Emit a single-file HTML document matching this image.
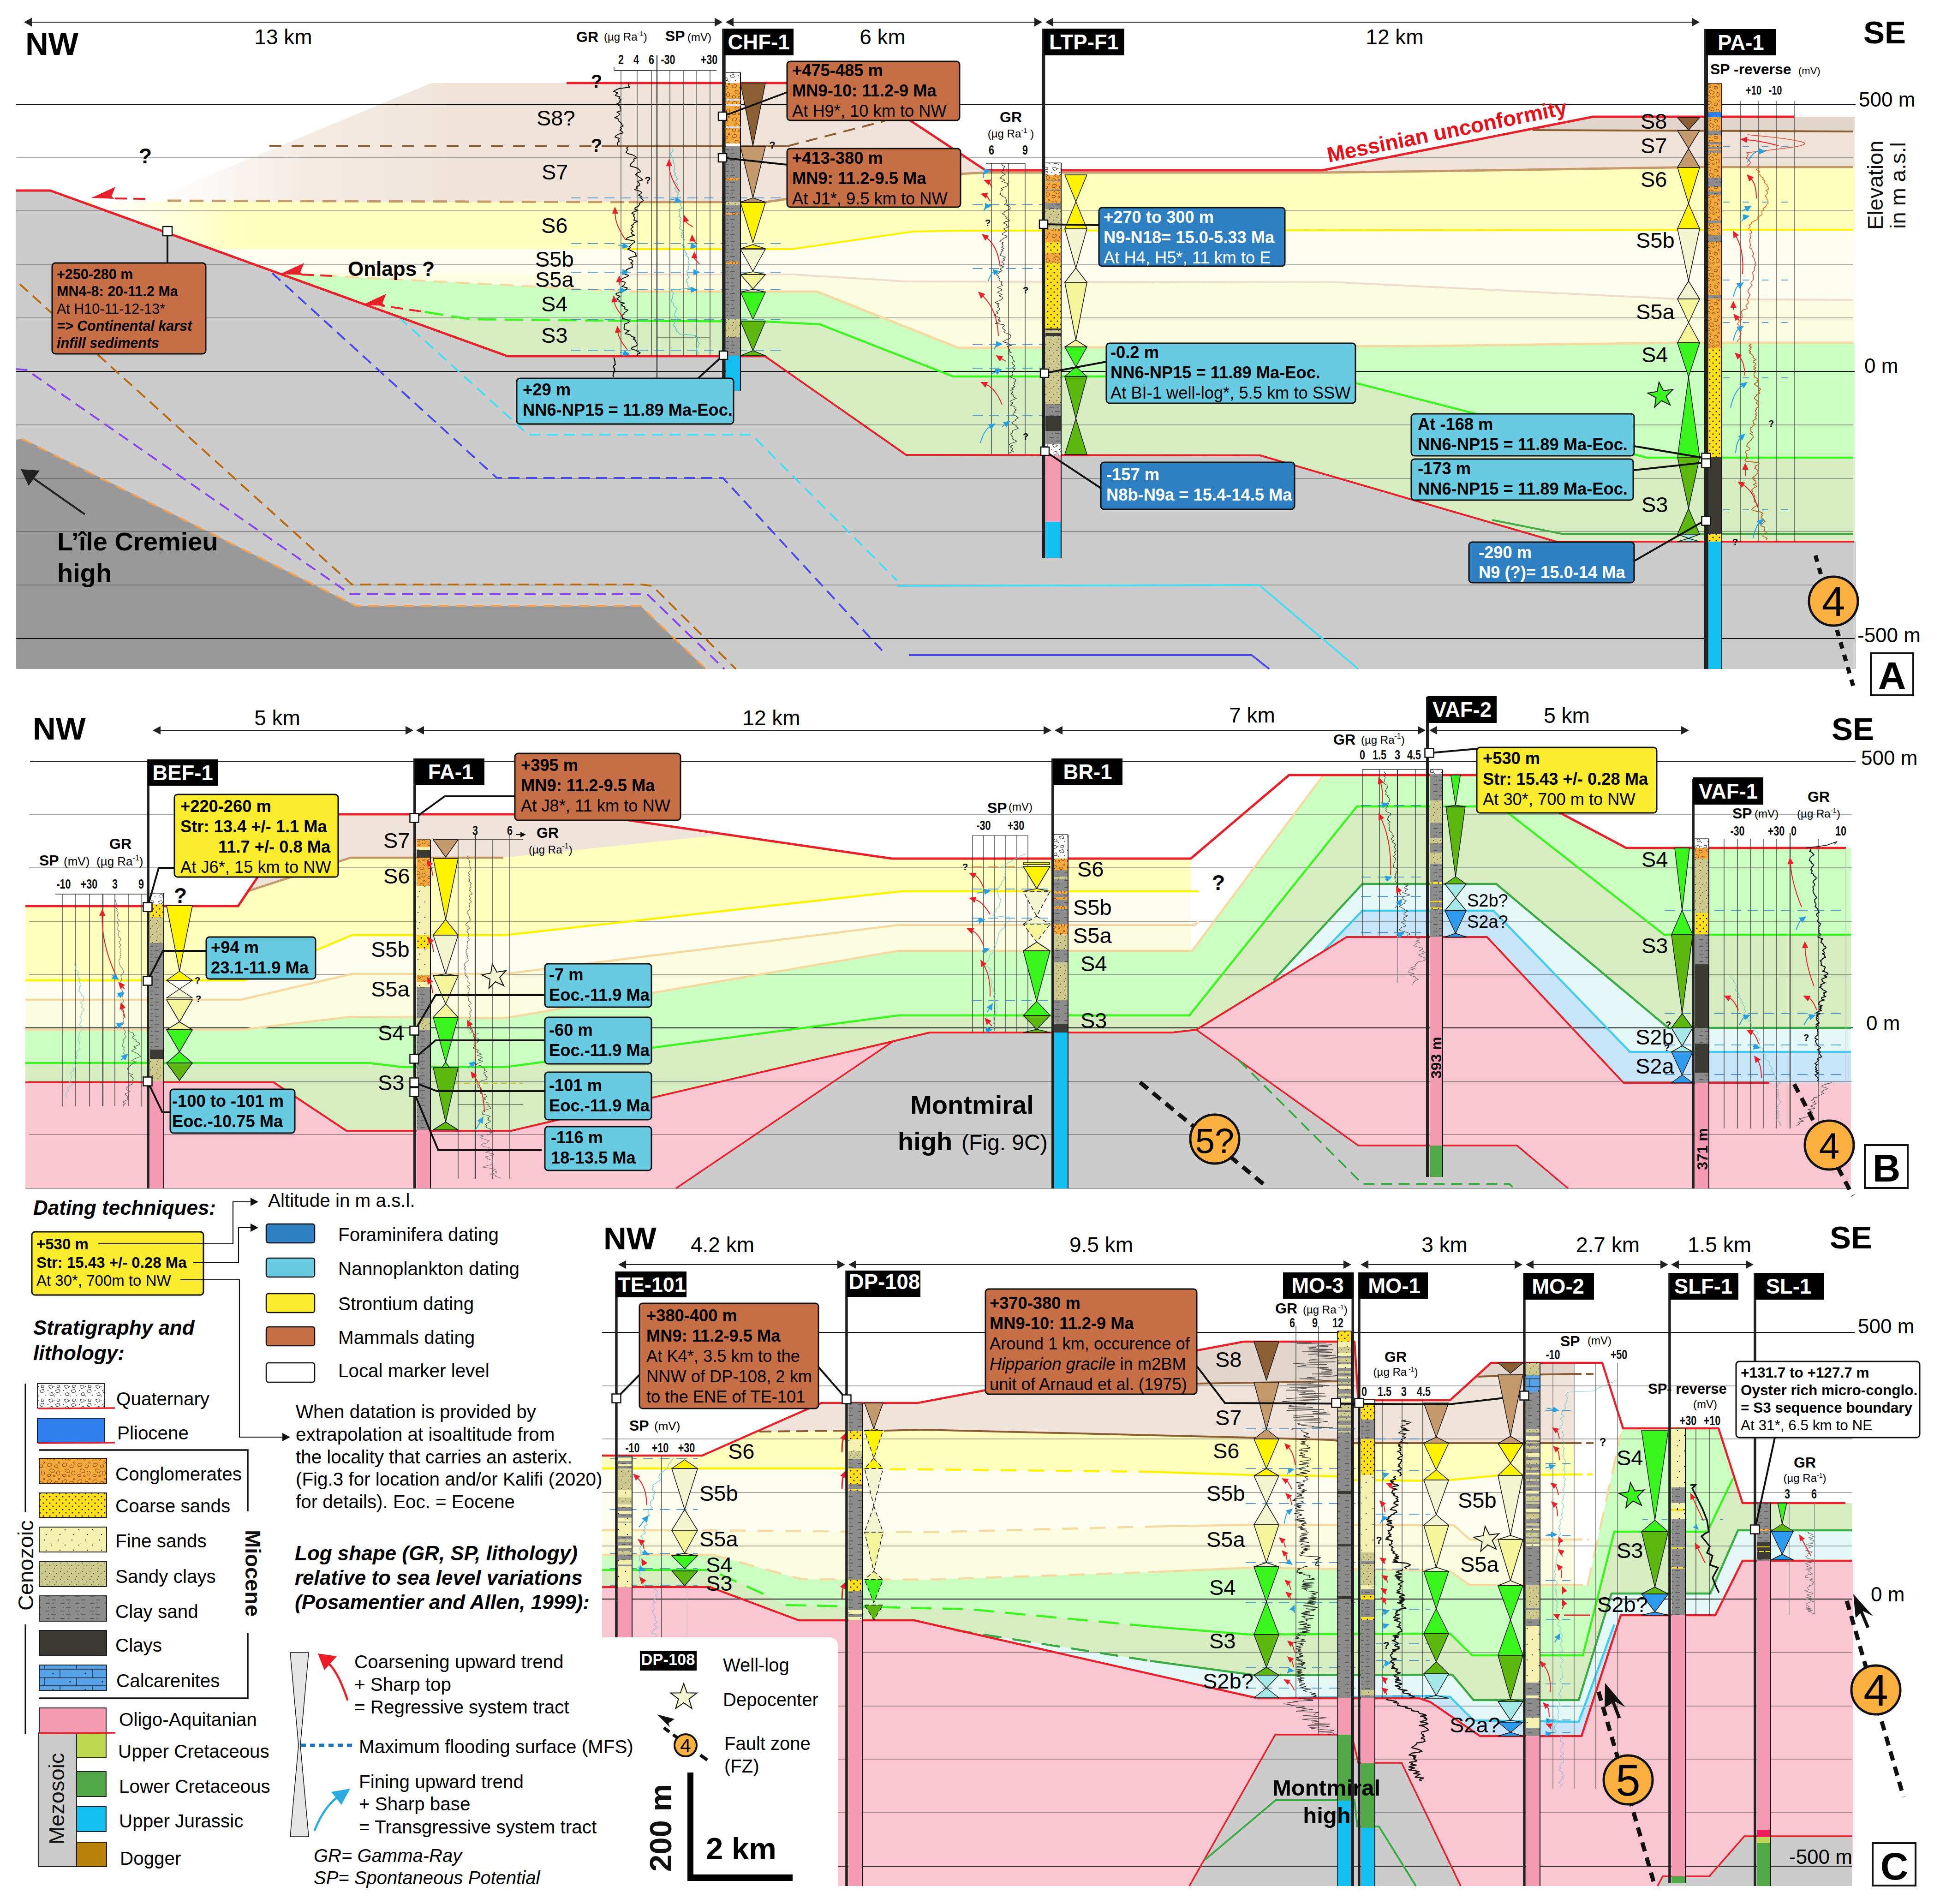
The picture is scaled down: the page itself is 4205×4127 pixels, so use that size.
<!DOCTYPE html>
<html><head><meta charset="utf-8"><title>Cross sections</title>
<style>html,body{margin:0;padding:0;background:#fff}svg{display:block}text{font-family:"Liberation Sans",Arial,sans-serif}</style></head>
<body>
<svg width="4205" height="4127" viewBox="0 0 4205 4127">
<defs>
<pattern id="pq" width="34" height="30" patternUnits="userSpaceOnUse"><rect width="34" height="30" fill="#fff"/><path d="M3 4l7-2 3 5-6 3zM18 14l8-3 2 6-7 2zM6 20l5-2 3 6-7 1zM22 2l6 1-2 5-5-1z" fill="none" stroke="#222" stroke-width="1"/><circle cx="15" cy="5" r="0.9"/><circle cx="30" cy="24" r="0.9"/><circle cx="16" cy="26" r="0.9"/><circle cx="2" cy="14" r="0.9"/></pattern>
<pattern id="pcg" width="33" height="36" patternUnits="userSpaceOnUse"><rect width="33" height="36" fill="#f7a83a"/><g fill="none" stroke="#6b3d05" stroke-width="1"><ellipse cx="8" cy="7" rx="5" ry="3.5" transform="rotate(-20 8 7)"/><ellipse cx="23" cy="10" rx="4" ry="3"/><ellipse cx="14" cy="20" rx="5.5" ry="3.5" transform="rotate(25 14 20)"/><ellipse cx="27" cy="25" rx="3.5" ry="4.5"/><ellipse cx="7" cy="30" rx="4" ry="2.8"/><circle cx="18" cy="31" r="2"/><circle cx="29" cy="2" r="1.8"/></g></pattern>
<pattern id="pcs" width="14" height="14" patternUnits="userSpaceOnUse"><rect width="14" height="14" fill="#ffe01a"/><circle cx="3" cy="3" r="1.5" fill="#111"/><circle cx="10" cy="10" r="1.5" fill="#111"/></pattern>
<pattern id="pfs" width="30" height="34" patternUnits="userSpaceOnUse"><rect width="30" height="34" fill="#f4f0b0"/><circle cx="6" cy="6" r="1.2" fill="#222"/><circle cx="21" cy="17" r="1.2" fill="#222"/><circle cx="10" cy="28" r="1.2" fill="#222"/></pattern>
<pattern id="psc" width="16" height="18" patternUnits="userSpaceOnUse"><rect width="16" height="18" fill="#cdc88e"/><circle cx="3" cy="4" r="0.9" fill="#333"/><circle cx="11" cy="9" r="0.9" fill="#333"/><circle cx="6" cy="15" r="0.9" fill="#333"/></pattern>
<pattern id="pcl" width="32" height="16" patternUnits="userSpaceOnUse"><rect width="32" height="16" fill="#8c8c8c"/><path d="M3 4h9M19 4h2M8 12h2M15 12h10" stroke="#333" stroke-width="1.2"/></pattern>
<pattern id="pca" width="70" height="36" patternUnits="userSpaceOnUse"><rect width="70" height="36" fill="#5aa2e6"/><path d="M0 0.5h70M0 18h70M26 0v18M60 18v18" stroke="#123" stroke-width="1.3"/><circle cx="12" cy="9" r="1.6" fill="#123"/><circle cx="45" cy="27" r="1.6" fill="#123"/></pattern>
<linearGradient id="gbA" gradientUnits="userSpaceOnUse" x1="330" y1="300" x2="1000" y2="300"><stop offset="0" stop-color="#f0e4da" stop-opacity="0"/><stop offset="0.5" stop-color="#f0e4da" stop-opacity="0.75"/><stop offset="1" stop-color="#f0e4da"/></linearGradient>
<linearGradient id="gyA" gradientUnits="userSpaceOnUse" x1="200" y1="300" x2="520" y2="300"><stop offset="0" stop-color="#fff"/><stop offset="1" stop-color="#fff" stop-opacity="0"/></linearGradient></defs>
<rect width="4205" height="4127" fill="#fff"/>
<polygon points="317,437 935,180 1850,180 2136,369 2867,369 3453,253 4020,253 4020,1450 317,1450" fill="url(#gbA)"/>
<polygon points="3306,282 3453,253 4020,253 4020,285" fill="#e2d6cc"/>
<polygon points="150,437 1363,438 1660,438 2080,377 2136,374 2867,374 3100,371 3692,362 4020,362 4020,1450 150,1450" fill="#ffffbe"/>
<polygon points="150,540 1717,540 1978,502 2100,500 4020,498 4020,1450 150,1450" fill="#fdfdf0"/>
<polygon points="150,588 1363,595 1720,595 1964,610 2900,612 3636,648 4020,650 4020,1450 150,1450" fill="#fcfde0"/>
<polygon points="600,592 1100,618 1363,632 1771,632 2077,754 3100,750 3636,743 4020,743 4020,1450 600,1450" fill="#ccffc2"/>
<polygon points="780,660 921,676 1019,692 1317,695 1660,697 1777,703 2066,816 2883,816 3570,992 4020,992 4020,1450 780,1450" fill="#d5edc0"/>
<polygon points="200,430 520,430 520,600 200,600" fill="url(#gyA)"/>
<polygon points="35,413 109,413 1100,772 1658,772 1964,986 2731,987 3373,1174 4020,1174 4023,1174 4023,1450 35,1450" fill="#cccccc"/>
<polygon points="35,953 50,951 771,1313 1388,1313 1530,1450 35,1450" fill="#999999"/>
<polyline points="35,227 4022,227" fill="none" stroke="#111" stroke-width="2.2"/>
<polyline points="35,342 4016,342" fill="none" stroke="#555" stroke-width="1.2"/>
<polyline points="35,457 4016,457" fill="none" stroke="#555" stroke-width="1.2"/>
<polyline points="35,574 4016,574" fill="none" stroke="#555" stroke-width="1.2"/>
<polyline points="35,689 4016,689" fill="none" stroke="#555" stroke-width="1.2"/>
<polyline points="35,805 4020,805" fill="none" stroke="#111" stroke-width="2.2"/>
<polyline points="35,921 4016,921" fill="none" stroke="#555" stroke-width="1.2"/>
<polyline points="35,1037 4016,1037" fill="none" stroke="#555" stroke-width="1.2"/>
<polyline points="35,1152 4016,1152" fill="none" stroke="#555" stroke-width="1.2"/>
<polyline points="35,1268 4016,1268" fill="none" stroke="#555" stroke-width="1.2"/>
<polyline points="35,1384 4020,1384" fill="none" stroke="#111" stroke-width="2.2"/>
<polyline points="43,616 763,1267 1391,1267 1414,1270 1595,1450" fill="none" stroke="#b8690e" stroke-width="4" stroke-dasharray="24 14"/>
<polyline points="35,800 58,802 754,1284 760,1288 1403,1288 1570,1450" fill="none" stroke="#8844ee" stroke-width="4" stroke-dasharray="24 14"/>
<polyline points="47,951 771,1313 1388,1313 1530,1450" fill="none" stroke="#f5a050" stroke-width="4" stroke-dasharray="24 14"/>
<polyline points="590,592 1077,1036 1567,1036 1921,1420" fill="none" stroke="#4848ee" stroke-width="4" stroke-dasharray="24 14"/>
<polyline points="1970,1420 2713,1420 2751,1450" fill="none" stroke="#4848ee" stroke-width="4"/>
<polyline points="865,688 1145,942 1629,942 1944,1258" fill="none" stroke="#44ddee" stroke-width="4" stroke-dasharray="24 14"/>
<polyline points="1944,1270 2729,1268 2944,1450" fill="none" stroke="#44ddee" stroke-width="4"/>
<polyline points="584,316 1317,317" fill="none" stroke="#8b5e34" stroke-width="4" stroke-dasharray="26 22"/>
<polyline points="1317,317 1706,317" fill="none" stroke="#8b5e34" stroke-width="4"/>
<polyline points="1706,317 1918,262" fill="none" stroke="#8b5e34" stroke-width="4" stroke-dasharray="26 16"/>
<polyline points="3322,282 4016,285" fill="none" stroke="#8b5e34" stroke-width="4"/>
<polyline points="363,435 1363,438" fill="none" stroke="#c49a6c" stroke-width="5" stroke-dasharray="30 18"/>
<polyline points="1363,438 1660,438 2080,377 2136,374 2867,374 3100,371 3692,362 4016,362" fill="none" stroke="#c49a6c" stroke-width="5"/>
<polyline points="1351,540 1717,540 1978,502 2100,500 4016,498" fill="none" stroke="#fff200" stroke-width="4"/>
<polyline points="1363,595 1720,595 1964,610 2900,612 3636,648 4016,650" fill="none" stroke="#eedccc" stroke-width="4"/>
<polyline points="652,595 1100,618 1363,632" fill="none" stroke="#f5d9a0" stroke-width="4" stroke-dasharray="30 18"/>
<polyline points="1363,632 1771,632 2077,754 3100,750 3636,743 4016,743" fill="none" stroke="#f5d9a0" stroke-width="5"/>
<polyline points="921,676 1019,692 1317,695" fill="none" stroke="#3bf51f" stroke-width="4.5" stroke-dasharray="40 18"/>
<polyline points="1317,695 1660,697 1777,703 2066,816 2883,816 3570,992 4016,992" fill="none" stroke="#3bf51f" stroke-width="4.5"/>
<polyline points="3234,1127 3385,1157 4016,1157" fill="none" stroke="#44aa44" stroke-width="4"/>
<polyline points="1658,772 1964,986 2731,987 3373,1174 4018,1174" fill="none" stroke="#e8202a" stroke-width="4" stroke-linejoin="round"/>
<polyline points="35,413 109,413 1100,772 1658,772" fill="none" stroke="#e8202a" stroke-width="5" stroke-linejoin="round"/>
<polyline points="1228,180 1850,180 2136,369 2867,369 3453,253 3889,253" fill="none" stroke="#e8202a" stroke-width="5" stroke-linejoin="round"/>
<polyline points="315,431 238,430" fill="none" stroke="#e8202a" stroke-width="4" stroke-dasharray="26 14"/>
<polygon points="198,429 250,405 242,425 248,431" fill="#e8202a"/>
<polyline points="720,598 647,595" fill="none" stroke="#e8202a" stroke-width="4" stroke-dasharray="26 14"/>
<polygon points="607,594 659,570 651,590 657,596" fill="#e8202a"/>
<polyline points="913,675 825,662" fill="none" stroke="#e8202a" stroke-width="4" stroke-dasharray="26 14"/>
<polygon points="785,661 837,637 829,657 835,663" fill="#e8202a"/>
<text x="315" y="354" font-size="46" font-weight="bold" text-anchor="middle">?</text>
<text x="754" y="598" font-size="44" font-weight="bold">Onlaps ?</text>
<text x="1293" y="190" font-size="40" font-weight="bold" text-anchor="middle">?</text>
<text x="1293" y="329" font-size="40" font-weight="bold" text-anchor="middle">?</text>
<polyline points="65.6,48 1552.4,48" fill="none" stroke="#222" stroke-width="2.2"/>
<polygon points="52,48 69,38.6 69,57.4" fill="#222"/>
<polygon points="1566,48 1549,38.6 1549,57.4" fill="#222"/>
<polyline points="1586.6,48 2245.4,48" fill="none" stroke="#222" stroke-width="2.2"/>
<polygon points="1573,48 1590,38.6 1590,57.4" fill="#222"/>
<polygon points="2259,48 2242,38.6 2242,57.4" fill="#222"/>
<polyline points="2279.6,48 3670.4,48" fill="none" stroke="#222" stroke-width="2.2"/>
<polygon points="2266,48 2283,38.6 2283,57.4" fill="#222"/>
<polygon points="3684,48 3667,38.6 3667,57.4" fill="#222"/>
<text x="55" y="119" font-size="69" font-weight="bold">NW</text>
<text x="4039" y="94" font-size="69" font-weight="bold">SE</text>
<text x="614" y="96" font-size="46" text-anchor="middle">13 km</text>
<text x="1913" y="96" font-size="46" text-anchor="middle">6 km</text>
<text x="3023" y="96" font-size="46" text-anchor="middle">12 km</text>
<text x="4029" y="231" font-size="44">500 m</text>
<text x="4041" y="808" font-size="44">0 m</text>
<text x="4026" y="1392" font-size="44">-500 m</text>
<text transform="translate(4081 498) rotate(-90)" font-size="47" fill="#111">Elevation</text>
<text transform="translate(4130 496) rotate(-90)" font-size="47" fill="#111">in m a.s.l</text>
<text transform="translate(2880 352) rotate(-11.4)" font-size="46" font-weight="bold" fill="#e8101a">Messinian unconformity</text>
<text x="124" y="1193" font-size="56" font-weight="bold">L’île Cremieu</text>
<text x="124" y="1261" font-size="56" font-weight="bold">high</text>
<polyline points="184,1115 70,1035" fill="none" stroke="#222" stroke-width="4"/>
<polygon points="45,1017 86,1020 62,1053" fill="#222"/>
<polyline points="1346,153 1346,771" fill="none" stroke="#333" stroke-width="1.3"/>
<polyline points="1381,153 1381,771" fill="none" stroke="#333" stroke-width="1.3"/>
<polyline points="1412,153 1412,771" fill="none" stroke="#333" stroke-width="1.3"/>
<polyline points="1334,153 1412,153" fill="none" stroke="#333" stroke-width="1.3"/>
<polyline points="1452,153 1452,771" fill="none" stroke="#333" stroke-width="1.3"/>
<polyline points="1481,153 1481,771" fill="none" stroke="#333" stroke-width="1.3"/>
<polyline points="1509,153 1509,771" fill="none" stroke="#333" stroke-width="1.3"/>
<polyline points="1539,153 1539,771" fill="none" stroke="#333" stroke-width="1.3"/>
<polyline points="1331,153 1553,153" fill="none" stroke="#333" stroke-width="1.3"/>
<polyline points="1331,145 1331,153" fill="none" stroke="#333" stroke-width="1.3"/>
<polyline points="1424,120 1424,819" fill="none" stroke="#222" stroke-width="2.2"/>
<polyline points="1424,731 1539,731" fill="none" stroke="#333" stroke-width="1"/>
<text x="1249" y="91" font-size="32" font-weight="bold">GR</text>
<text x="1309" y="88" font-size="24">(µg Ra<tspan dy="-10" font-size="15">-1</tspan><tspan dy="10">)</tspan></text>
<text x="1442" y="89" font-size="32" font-weight="bold">SP</text>
<text x="1490" y="89" font-size="24">(mV)</text>
<text transform="translate(1346 139) scale(0.72 1)" font-size="30" font-weight="bold" text-anchor="middle" fill="#111">2</text>
<text transform="translate(1379 139) scale(0.72 1)" font-size="30" font-weight="bold" text-anchor="middle" fill="#111">4</text>
<text transform="translate(1412 139) scale(0.72 1)" font-size="30" font-weight="bold" text-anchor="middle" fill="#111">6</text>
<text transform="translate(1448 139) scale(0.72 1)" font-size="30" font-weight="bold" text-anchor="middle" fill="#111">-30</text>
<text transform="translate(1537 139) scale(0.72 1)" font-size="30" font-weight="bold" text-anchor="middle" fill="#111">+30</text>
<polyline points="1238,429 1700,429" fill="none" stroke="#2e7fc0" stroke-width="1.5" stroke-dasharray="22 14"/>
<polyline points="1238,528 1700,528" fill="none" stroke="#2e7fc0" stroke-width="1.5" stroke-dasharray="22 14"/>
<polyline points="1238,590 1700,590" fill="none" stroke="#2e7fc0" stroke-width="1.5" stroke-dasharray="22 14"/>
<polyline points="1238,627 1700,627" fill="none" stroke="#2e7fc0" stroke-width="1.5" stroke-dasharray="22 14"/>
<polyline points="1238,693 1700,693" fill="none" stroke="#2e7fc0" stroke-width="1.5" stroke-dasharray="22 14"/>
<polyline points="1238,759 1700,759" fill="none" stroke="#2e7fc0" stroke-width="1.5" stroke-dasharray="22 14"/>
<polyline points="1361.2,180 1363.4,183 1362.2,186 1364.8,189 1341.7,192 1334.8,195 1329.8,198 1338.8,201 1335.8,204 1333.7,207 1343.3,210 1341.6,213 1345.8,216 1343.1,219 1343.9,222 1337.3,225 1340.3,228 1345.5,231 1343.6,234 1345.7,237 1345.9,240 1337.2,243 1342.1,246 1342.5,249 1338.7,252 1332.4,255 1340.7,258 1340,261 1343.2,264 1347.4,267 1347.5,270 1350.6,273 1344.8,276 1347.2,279 1343.5,282 1348.4,285 1350.5,288 1340.5,291 1335.1,294 1333,297 1342.5,300 1340.6,303 1342.2,306 1338.4,309 1339.2,312 1337.9,315" fill="none" stroke="#111" stroke-width="2" stroke-linejoin="round"/>
<polyline points="1361.8,318 1358,321 1360.7,324 1358.9,327 1356.7,330 1361,333 1372.1,336 1377.2,339 1380,342 1373.4,345 1374.7,348 1371.6,351 1368.4,354 1365.7,357 1366.1,360 1377.8,363 1383.5,366 1386.8,369 1388.9,372 1380.8,375 1377.9,378 1381.4,381 1385.3,384 1389.8,387 1393,390 1382.4,393 1384.5,396 1386.8,399 1385.7,402 1379.8,405 1381.1,408 1375.7,411 1386,414 1391,417 1389,420 1383.8,423 1390.3,426 1388.8,429 1392.7,432 1394.4,435 1390,438 1385.7,441 1385.9,444 1383.2,447 1377.2,450 1375.6,453 1382.6,456 1374.3,459 1369.2,462 1375.1,465 1373,468 1375.4,471 1375.6,474 1373.5,477 1382.3,480 1374.5,483 1373.1,486 1368.5,489 1372.3,492 1368.6,495 1367.4,498 1372.5,501 1368.5,504 1369.5,507 1375.3,510 1365.7,513 1358.9,516 1357.2,519 1374.4,522 1375.9,525 1370.6,528 1368.5,531 1364.5,534 1366.2,537 1360.4,540 1366.9,543 1373.7,546 1378.4,549 1377.4,552 1380.1,555 1366.5,558 1362.4,561 1370.4,564 1371.9,567 1366.9,570 1372,573 1369.8,576 1371.4,579 1363.8,582 1357.5,585 1357.6,588 1352.6,591 1353.4,594 1362.9,597 1358.5,600 1350.7,603 1346.5,606 1345.9,609 1355.3,612 1354.2,615 1352.3,618 1348.2,621 1359.8,624 1357.9,627 1353.4,630 1348.4,633 1335.4,636 1335.5,639 1343.8,642 1340.5,645 1336.9,648 1342.1,651 1341.5,654 1353.2,657 1346.5,660 1349.2,663 1354.9,666 1352.8,669 1360.9,672 1357.9,675 1352.7,678 1352.5,681 1346.7,684 1349.6,687 1349,690 1359,693 1364.4,696 1362.7,699 1354.6,702 1353.6,705 1353.1,708 1352.6,711 1353,714 1363.7,717 1359,720 1355,723 1366.8,726 1368.5,729 1376.6,732 1372.5,735 1378.2,738 1378.1,741 1380.4,744 1381.5,747 1378.4,750 1370.5,753 1367.9,756 1377.2,759 1383.4,762 1387.8,765 1381.4,768 1382.8,771" fill="none" stroke="#111" stroke-width="2" stroke-linejoin="round"/>
<polyline points="1330.5,775 1331.4,778 1332.1,781 1333.2,784 1332.9,787 1333.6,790 1330.1,793 1329.9,796 1331.9,799 1331.8,802 1332.8,805 1330,808 1329.9,811 1328.8,814 1329.5,817" fill="none" stroke="#111" stroke-width="2.5" stroke-linejoin="round"/>
<polyline points="1457.5,322 1459.7,325 1458.3,328 1455.6,331 1451.9,334 1455.6,337 1456.3,340 1459.4,343 1458.1,346 1460.9,349 1458.4,352 1461.6,355 1463.1,358 1461.5,361 1461.7,364 1463.2,367 1460.1,370 1461.5,373 1464.7,376 1462.1,379 1465.3,382 1466.4,385 1468.6,388 1465.7,391 1462,394 1466,397 1468.7,400 1467.3,403 1463.6,406 1462.4,409 1465.7,412 1464.8,415 1470.2,418 1470.4,421 1467.3,424 1469.6,427 1468.6,430 1473.1,433 1475.7,436 1474,439 1474.3,442 1475.1,445 1476.7,448 1479.3,451 1472.8,454 1471.9,457 1473.7,460 1472.3,463 1474.1,466 1471,469 1476.1,472 1476.3,475 1473.1,478 1476,481 1474.9,484 1473.4,487 1475.1,490 1473.3,493 1473,496 1478.7,499 1480.8,502 1476.3,505 1480.4,508 1476.4,511 1476.9,514 1482.3,517 1483.2,520 1481.3,523 1480.8,526 1480.8,529 1478.8,532 1485.2,535 1481,538 1481.9,541 1485.4,544 1484.6,547 1489.4,550 1486,553 1490.5,556 1492.6,559 1492.1,562 1493.9,565 1491.2,568 1493.2,571 1494.2,574 1492.5,577 1491.3,580 1492.7,583 1491.2,586 1487.7,589 1491.4,592 1489.6,595 1490.7,598 1494,601 1490.9,604 1487.9,607 1487.1,610 1490.8,613 1491.3,616 1490.8,619 1492.3,622 1497.5,625 1455,628 1455,631 1459.2,634 1459.6,637 1457,640 1457.4,643 1457.8,646 1455.3,649 1456,652 1456,655 1460.4,658 1459.1,661 1461.3,664 1465.6,667 1467.8,670 1464.6,673 1464.8,676 1462.7,679 1462.2,682 1462.9,685 1466.1,688 1469.4,691 1465.9,694 1461.6,697 1463,700 1460.6,703 1459,706 1464.7,709 1462.6,712 1466.7,715 1466.2,718 1471.1,721 1473.4,724 1508.2,727 1506.3,730 1511.9,733 1512.5,736 1511.3,739 1513.9,742 1515.9,745 1514.5,748 1513.6,751 1510,754 1510.3,757 1508.8,760 1512.2,763 1514.2,766 1511.6,769" fill="none" stroke="#5fc7c0" stroke-width="1.5" stroke-linejoin="round"/>
<path d="M1473 415 Q1451 383.4 1450.4 360" fill="none" stroke="#e8202a" stroke-width="2"/>
<polygon points="1450,345 1457.1,359.8 1443.6,360.2" fill="#e8202a"/>
<path d="M1452 431 Q1465 434 1463.4 433.6" fill="none" stroke="#2a9fe0" stroke-width="2"/>
<polygon points="1478,437 1461.9,440.2 1464.9,427" fill="#2a9fe0"/>
<path d="M1356 520 Q1333.7 487.4 1333.3 463" fill="none" stroke="#e8202a" stroke-width="2"/>
<polygon points="1333,448 1340,462.9 1326.5,463.1" fill="#e8202a"/>
<path d="M1502 492 Q1487.3 482.8 1486.7 480.5" fill="none" stroke="#e8202a" stroke-width="2"/>
<polygon points="1483,466 1493.3,478.9 1480.2,482.2" fill="#e8202a"/>
<path d="M1509 527 Q1500.7 519.3 1500.9 523" fill="none" stroke="#e8202a" stroke-width="2"/>
<polygon points="1500,508 1507.7,522.6 1494.2,523.4" fill="#e8202a"/>
<path d="M1340 531 Q1352 533 1349.2 532.5" fill="none" stroke="#2a9fe0" stroke-width="2"/>
<polygon points="1364,535 1348.1,539.2 1350.3,525.9" fill="#2a9fe0"/>
<path d="M1497 533 Q1504.5 534 1497.1 533" fill="none" stroke="#2a9fe0" stroke-width="2"/>
<polygon points="1512,535 1496.2,539.7 1498,526.3" fill="#2a9fe0"/>
<path d="M1516 572 Q1505.1 560.7 1505.1 560" fill="none" stroke="#e8202a" stroke-width="2"/>
<polygon points="1505,545 1511.8,560 1498.3,560" fill="#e8202a"/>
<path d="M1344 590 Q1354 590 1349 590" fill="none" stroke="#2a9fe0" stroke-width="2"/>
<polygon points="1364,590 1349,596.8 1349,583.2" fill="#2a9fe0"/>
<path d="M1504 590 Q1511 590 1503 590" fill="none" stroke="#2a9fe0" stroke-width="2"/>
<polygon points="1518,590 1503,596.8 1503,583.2" fill="#2a9fe0"/>
<path d="M1342 618 Q1342 607.5 1342 612" fill="none" stroke="#e8202a" stroke-width="2"/>
<polygon points="1342,597 1348.8,612 1335.2,612" fill="#e8202a"/>
<path d="M1340 628 Q1349 629 1343.1 628.3" fill="none" stroke="#2a9fe0" stroke-width="2"/>
<polygon points="1358,630 1342.3,635.1 1343.8,621.6" fill="#2a9fe0"/>
<path d="M1498 628 Q1505 628 1497 628" fill="none" stroke="#2a9fe0" stroke-width="2"/>
<polygon points="1512,628 1497,634.8 1497,621.2" fill="#2a9fe0"/>
<path d="M1351 688 Q1333.3 667.1 1331.8 654.9" fill="none" stroke="#e8202a" stroke-width="2"/>
<polygon points="1330,640 1338.5,654.1 1325.1,655.7" fill="#e8202a"/>
<path d="M1360 758 Q1341.2 735.3 1339.6 720.9" fill="none" stroke="#e8202a" stroke-width="2"/>
<polygon points="1338,706 1346.3,720.2 1332.9,721.6" fill="#e8202a"/>
<path d="M1344 764 Q1355 766 1351.2 765.3" fill="none" stroke="#2a9fe0" stroke-width="2"/>
<polygon points="1366,768 1350,772 1352.4,758.7" fill="#2a9fe0"/>
<text x="1404" y="398" font-size="22" font-weight="bold" text-anchor="middle">?</text>
<text x="1674" y="322" font-size="22" font-weight="bold" text-anchor="middle">?</text>
<rect x="1573" y="157" width="32" height="23" fill="url(#pq)"/>
<rect x="1573" y="180" width="32" height="131" fill="url(#pcg)"/>
<rect x="1573" y="311" width="32" height="6" fill="#fff"/>
<rect x="1573" y="317" width="32" height="69" fill="url(#pcl)"/>
<rect x="1573" y="386" width="32" height="5" fill="url(#pcg)"/>
<rect x="1573" y="391" width="32" height="47" fill="url(#pcl)"/>
<rect x="1573" y="438" width="32" height="6" fill="url(#psc)"/>
<rect x="1573" y="444" width="32" height="18" fill="url(#pcl)"/>
<rect x="1573" y="462" width="32" height="3" fill="url(#pcg)"/>
<rect x="1573" y="465" width="32" height="102" fill="url(#pcl)"/>
<rect x="1573" y="567" width="32" height="5" fill="url(#pcg)"/>
<rect x="1573" y="572" width="32" height="120" fill="url(#pcl)"/>
<rect x="1573" y="692" width="32" height="39" fill="url(#psc)"/>
<rect x="1573" y="731" width="32" height="40" fill="url(#pcl)"/>
<rect x="1573" y="771" width="32" height="76" fill="#12bff0"/>
<polyline points="1605,157 1605,847" fill="none" stroke="#111" stroke-width="2"/>
<polyline points="1573,157 1605,157" fill="none" stroke="#111" stroke-width="1.2"/>
<rect x="1573" y="214" width="32" height="4" fill="#ddd"/>
<rect x="1573" y="226" width="32" height="4" fill="#ddd"/>
<rect x="1573" y="274" width="32" height="4" fill="#ddd"/>
<polygon points="1605,180 1659,180 1632,316" fill="#8b5e34" stroke="#111" stroke-width="1.5" stroke-linejoin="round"/>
<polygon points="1605,318 1659,318 1632,429" fill="#c49a6c" stroke="#111" stroke-width="1.5" stroke-linejoin="round"/>
<polygon points="1632,429 1659,438 1605,438" fill="#c49a6c" stroke="#111" stroke-width="1.5" stroke-linejoin="round"/>
<polygon points="1605,439 1659,439 1632,526" fill="#fff200" stroke="#111" stroke-width="1.5" stroke-linejoin="round"/>
<polygon points="1632,530 1659,539 1605,539" fill="#fff200" stroke="#111" stroke-width="1.5" stroke-linejoin="round"/>
<polygon points="1605,540 1659,540 1632,588" fill="#f2f5d0" stroke="#111" stroke-width="1.5" stroke-linejoin="round"/>
<polygon points="1632,589 1659,595 1605,595" fill="#f4f59a" stroke="#111" stroke-width="1.5" stroke-linejoin="round"/>
<polygon points="1605,595 1659,595 1632,626" fill="#f4f59a" stroke="#111" stroke-width="1.5" stroke-linejoin="round"/>
<polygon points="1632,627 1659,633 1605,633" fill="#f2f5d0" stroke="#111" stroke-width="1.5" stroke-linejoin="round"/>
<polygon points="1605,633 1659,633 1632,692" fill="#3bf51f" stroke="#111" stroke-width="1.5" stroke-linejoin="round"/>
<polygon points="1605,696 1659,696 1632,760" fill="#5cb80f" stroke="#111" stroke-width="1.5" stroke-linejoin="round"/>
<polygon points="1632,760 1659,771 1605,771" fill="#5cb80f" stroke="#111" stroke-width="1.5" stroke-linejoin="round"/>
<rect x="1565.2" y="62" width="7.5" height="760" fill="#222"/>
<rect x="1569" y="62" width="151" height="58" fill="#000"/>
<text x="1644.5" y="107.3" font-size="45.5" font-weight="bold" text-anchor="middle" fill="#fff">CHF-1</text>
<polyline points="1567,252 1706,200" fill="none" stroke="#111" stroke-width="4"/>
<polyline points="1567,342 1706,357" fill="none" stroke="#111" stroke-width="4"/>
<polyline points="1568,770 1513,820" fill="none" stroke="#111" stroke-width="4"/>
<rect x="1557" y="243" width="18" height="18" fill="#fff" stroke="#111" stroke-width="2.5"/>
<rect x="1557" y="333" width="18" height="18" fill="#fff" stroke="#111" stroke-width="2.5"/>
<rect x="1559" y="761" width="18" height="18" fill="#fff" stroke="#111" stroke-width="2.5"/>
<polyline points="2149,354 2149,984" fill="none" stroke="#333" stroke-width="1.3"/>
<polyline points="2186,354 2186,984" fill="none" stroke="#333" stroke-width="1.3"/>
<polyline points="2222,354 2222,984" fill="none" stroke="#333" stroke-width="1.3"/>
<polyline points="2137,354 2222,354" fill="none" stroke="#333" stroke-width="1.3"/>
<text x="2191" y="265" font-size="32" font-weight="bold" text-anchor="middle">GR</text>
<text x="2191" y="298" font-size="24" text-anchor="middle">(µg Ra<tspan dy="-10" font-size="15">-1</tspan><tspan dy="10"> )</tspan></text>
<text transform="translate(2149 335) scale(0.72 1)" font-size="30" font-weight="bold" text-anchor="middle" fill="#111">6</text>
<text transform="translate(2222 335) scale(0.72 1)" font-size="30" font-weight="bold" text-anchor="middle" fill="#111">9</text>
<polyline points="2108,443 2262,443" fill="none" stroke="#2e7fc0" stroke-width="1.5" stroke-dasharray="22 14"/>
<polyline points="2108,582 2262,582" fill="none" stroke="#2e7fc0" stroke-width="1.5" stroke-dasharray="22 14"/>
<polyline points="2108,747 2262,747" fill="none" stroke="#2e7fc0" stroke-width="1.5" stroke-dasharray="22 14"/>
<polyline points="2108,798 2262,798" fill="none" stroke="#2e7fc0" stroke-width="1.5" stroke-dasharray="22 14"/>
<polyline points="2108,900 2262,900" fill="none" stroke="#2e7fc0" stroke-width="1.5" stroke-dasharray="22 14"/>
<polyline points="2171.4,356 2172.7,358.5 2178.3,361 2175.9,363.5 2175,366 2175.7,368.5 2171,371 2172.5,373.5 2175.1,376 2178.8,378.5 2172.1,381 2170.9,383.5 2167.5,386 2174.9,388.5 2178,391 2171.4,393.5 2179.8,396 2184.7,398.5 2183.7,401 2182.6,403.5 2176.2,406 2170.5,408.5 2173.9,411 2169.9,413.5 2169.3,416 2169.6,418.5 2167.2,421 2171.4,423.5 2173.6,426 2180.3,428.5 2180.1,431 2181.6,433.5 2180.8,436 2182.4,438.5 2180.7,441 2177.5,443.5 2184.9,446 2189.3,448.5 2190,451 2188.6,453.5 2182.8,456 2178.2,458.5 2176.2,461 2172.1,463.5 2178.7,466 2177.9,468.5 2183.2,471 2180.4,473.5 2186.1,476 2188.1,478.5 2178.3,481 2175.1,483.5 2182.2,486 2180.7,488.5 2186.4,491 2182.2,493.5 2175.4,496 2178.5,498.5 2182.2,501 2177.8,503.5 2172.7,506 2172.8,508.5 2180.9,511 2183.1,513.5 2176,516 2173.3,518.5 2169.7,521 2167,523.5 2174.8,526 2171.3,528.5 2174.1,531 2174.3,533.5 2170.9,536 2175.8,538.5 2170.9,541 2174.4,543.5 2169.6,546 2170.6,548.5 2168.4,551 2167.6,553.5 2176.2,556 2179,558.5 2174.2,561 2178.7,563.5 2172.5,566 2171.1,568.5 2176.1,571 2176.2,573.5 2169.1,576 2176.3,578.5 2170.4,581 2167.4,583.5 2172.1,586 2169.1,588.5 2166.7,591 2162.3,593.5 2159.8,596 2164.5,598.5 2162.9,601 2166.4,603.5 2165.5,606 2165.8,608.5 2172.5,611 2170.3,613.5 2170,616 2173.6,618.5 2166.7,621 2162.2,623.5 2169.1,626 2172.1,628.5 2166.4,631 2162.1,633.5 2166.6,636 2171.8,638.5 2165.3,641 2171,643.5 2173.6,646 2171.4,648.5 2167.7,651 2161.3,653.5 2156.6,656 2165.7,658.5 2161.8,661 2165.4,663.5 2161.8,666 2166.9,668.5 2167,671 2163.1,673.5 2159.3,676 2164,678.5 2158.4,681 2157.1,683.5 2160.6,686 2166.6,688.5 2167,691 2163,693.5 2168.9,696 2163.2,698.5 2157.4,701 2175.2,703.5 2177.4,706 2173.8,708.5 2173.2,711 2175.3,713.5 2179.3,716 2176.1,718.5 2177.2,721 2184.7,723.5 2190.5,726 2189.8,728.5 2190,731 2188.7,733.5 2182.3,736 2177.2,738.5 2174,741 2183.7,743.5 2186.9,746 2192.3,748.5 2183.5,751 2186.2,753.5 2186,756 2189.1,758.5 2185.8,761 2192.7,763.5 2185,766 2186.6,768.5 2190.1,771 2194.5,773.5 2195.1,776 2195.1,778.5 2196.4,781 2198.9,783.5 2193.2,786 2194.2,788.5 2197.7,791 2199.6,793.5 2194.9,796 2197.1,798.5 2199.4,801 2197.2,803.5 2196.6,806 2193.3,808.5 2194,811 2194.8,813.5 2188.6,816 2192.2,818.5 2199.1,821 2201.8,823.5 2201.6,826 2197.2,828.5 2199.1,831 2198.4,833.5 2196.2,836 2200.1,838.5 2192.8,841 2197.1,843.5 2190.5,846 2194,848.5 2194.6,851 2191.8,853.5 2196.2,856 2196.3,858.5 2198,861 2203,863.5 2197.5,866 2191,868.5 2191,871 2195.9,873.5 2192.7,876 2190.4,878.5 2198.6,881 2200.3,883.5 2198.6,886 2203.4,888.5 2199,891 2200.7,893.5 2195.7,896 2195.7,898.5 2200.6,901 2204.9,903.5 2207.1,906 2201.9,908.5 2201.4,911 2197.6,913.5 2193,916 2194.8,918.5 2200.3,921 2203.8,923.5 2204,926 2207.2,928.5 2200.3,931 2194.8,933.5 2195,936 2192.8,938.5 2190.7,941 2191.9,943.5 2195.3,946 2195.6,948.5 2193.4,951 2198.7,953.5 2203.7,956 2199.8,958.5 2192.4,961 2187.4,963.5 2195.1,966 2188.9,968.5 2193.8,971 2194.8,973.5 2191.9,976 2196.3,978.5 2188.8,981 2185.8,983.5" fill="none" stroke="#333" stroke-width="1.3" stroke-linejoin="round"/>
<path d="M2131 386 Q2133.1 371.2 2133 371.2" fill="none" stroke="#2a9fe0" stroke-width="2"/>
<polygon points="2148,370 2133.6,377.9 2132.5,364.5" fill="#2a9fe0"/>
<path d="M2150 407 Q2144.4 394.9 2146 395.5" fill="none" stroke="#e8202a" stroke-width="2"/>
<polygon points="2132,390 2148.4,389.2 2143.5,401.8" fill="#e8202a"/>
<path d="M2146 436 Q2138.7 423.8 2139.5 424" fill="none" stroke="#e8202a" stroke-width="2"/>
<polygon points="2125,420 2141.3,417.5 2137.7,430.5" fill="#e8202a"/>
<path d="M2132 458 Q2137.4 446.6 2135 446.7" fill="none" stroke="#2a9fe0" stroke-width="2"/>
<polygon points="2150,446 2135.3,453.5 2134.7,440" fill="#2a9fe0"/>
<path d="M2168 578 Q2162.2 534.5 2139.7 516.4" fill="none" stroke="#e8202a" stroke-width="2"/>
<polygon points="2128,507 2143.9,511.1 2135.5,521.7" fill="#e8202a"/>
<path d="M2142 609 Q2148.7 590.7 2153.1 590.1" fill="none" stroke="#2a9fe0" stroke-width="2"/>
<polygon points="2168,588 2154.1,596.8 2152.2,583.4" fill="#2a9fe0"/>
<path d="M2164 728 Q2161.2 671.2 2130.9 642.3" fill="none" stroke="#e8202a" stroke-width="2"/>
<polygon points="2120,632 2135.5,637.4 2126.2,647.2" fill="#e8202a"/>
<path d="M2155 757 Q2161.2 745.8 2159 745.8" fill="none" stroke="#2a9fe0" stroke-width="2"/>
<polygon points="2174,746 2158.9,752.5 2159.1,739" fill="#2a9fe0"/>
<path d="M2180 783 Q2169 776.5 2170.9 777.6" fill="none" stroke="#e8202a" stroke-width="2"/>
<polygon points="2158,770 2174.3,771.8 2167.5,783.4" fill="#e8202a"/>
<path d="M2150 810 Q2161 805 2158.3 806.2" fill="none" stroke="#2a9fe0" stroke-width="2"/>
<polygon points="2172,800 2161.1,812.4 2155.6,800.1" fill="#2a9fe0"/>
<path d="M2172 877 Q2158.3 843.1 2138.7 834.2" fill="none" stroke="#e8202a" stroke-width="2"/>
<polygon points="2125,828 2141.4,828 2135.9,840.3" fill="#e8202a"/>
<path d="M2125 960 Q2133.1 932.4 2145 925.5" fill="none" stroke="#2a9fe0" stroke-width="2"/>
<polygon points="2158,918 2148.4,931.4 2141.6,919.7" fill="#2a9fe0"/>
<path d="M2172 925 Q2181 918.5 2177.8 920.8" fill="none" stroke="#2a9fe0" stroke-width="2"/>
<polygon points="2190,912 2181.8,926.3 2173.9,915.3" fill="#2a9fe0"/>
<text x="2141" y="490" font-size="20" font-weight="bold" text-anchor="middle">?</text>
<text x="2223" y="636" font-size="20" font-weight="bold" text-anchor="middle">?</text>
<text x="2223" y="953" font-size="20" font-weight="bold" text-anchor="middle">?</text>
<rect x="2266" y="353" width="34" height="26" fill="url(#pq)"/>
<rect x="2266" y="379" width="34" height="12" fill="url(#pcg)"/>
<rect x="2266" y="391" width="34" height="2" fill="url(#pcl)"/>
<rect x="2266" y="393" width="34" height="18" fill="url(#pcg)"/>
<rect x="2266" y="411" width="34" height="2" fill="url(#pcl)"/>
<rect x="2266" y="413" width="34" height="27" fill="url(#pcg)"/>
<rect x="2266" y="440" width="34" height="13" fill="url(#pcl)"/>
<rect x="2266" y="453" width="34" height="44" fill="url(#psc)"/>
<rect x="2266" y="497" width="34" height="28" fill="url(#pcg)"/>
<rect x="2266" y="525" width="34" height="23" fill="url(#pcs)"/>
<rect x="2266" y="548" width="34" height="22" fill="url(#pcg)"/>
<rect x="2266" y="570" width="34" height="142" fill="url(#pcs)"/>
<rect x="2266" y="712" width="34" height="4" fill="#3b3a34"/>
<rect x="2266" y="716" width="34" height="6" fill="url(#psc)"/>
<rect x="2266" y="722" width="34" height="7" fill="#3b3a34"/>
<rect x="2266" y="729" width="34" height="147" fill="url(#psc)"/>
<rect x="2266" y="876" width="34" height="26" fill="url(#pcl)"/>
<rect x="2266" y="902" width="34" height="32" fill="#3b3a34"/>
<rect x="2266" y="934" width="34" height="28" fill="url(#pcl)"/>
<rect x="2266" y="962" width="34" height="25" fill="url(#pq)"/>
<rect x="2266" y="987" width="34" height="144" fill="#f49ab3"/>
<rect x="2266" y="1131" width="34" height="78" fill="#12bff0"/>
<polyline points="2300,353 2300,1209" fill="none" stroke="#111" stroke-width="2"/>
<polyline points="2266,353 2300,353" fill="none" stroke="#111" stroke-width="1.2"/>
<polygon points="2308,379 2356,379 2332,437" fill="#fff200" stroke="#111" stroke-width="1.5" stroke-linejoin="round"/>
<polygon points="2332,437 2356,496 2308,496" fill="#fff200" stroke="#111" stroke-width="1.5" stroke-linejoin="round"/>
<polygon points="2308,496 2356,496 2332,581" fill="#f2f5d0" stroke="#111" stroke-width="1.5" stroke-linejoin="round"/>
<polygon points="2332,581 2356,612 2308,612" fill="#f2f5d0" stroke="#111" stroke-width="1.5" stroke-linejoin="round"/>
<polygon points="2308,612 2356,612 2332,737" fill="#f4f59a" stroke="#111" stroke-width="1.5" stroke-linejoin="round"/>
<polygon points="2332,737 2356,752 2308,752" fill="#f4f59a" stroke="#111" stroke-width="1.5" stroke-linejoin="round"/>
<polygon points="2308,752 2356,752 2332,795" fill="#3bf51f" stroke="#111" stroke-width="1.5" stroke-linejoin="round"/>
<polygon points="2332,795 2356,816 2308,816" fill="#3bf51f" stroke="#111" stroke-width="1.5" stroke-linejoin="round"/>
<polygon points="2308,816 2356,816 2332,907" fill="#5cb80f" stroke="#111" stroke-width="1.5" stroke-linejoin="round"/>
<polygon points="2332,907 2356,985 2308,985" fill="#5cb80f" stroke="#111" stroke-width="1.5" stroke-linejoin="round"/>
<rect x="2258.8" y="62" width="6.5" height="1147" fill="#222"/>
<rect x="2262" y="62" width="175" height="58" fill="#000"/>
<text x="2349.5" y="107.3" font-size="45.5" font-weight="bold" text-anchor="middle" fill="#fff">LTP-F1</text>
<polyline points="2262,486 2382,488" fill="none" stroke="#111" stroke-width="4"/>
<polyline points="2264,809 2398,784" fill="none" stroke="#111" stroke-width="4"/>
<polyline points="2265,978 2386,1058" fill="none" stroke="#111" stroke-width="4"/>
<rect x="2253" y="477" width="18" height="18" fill="#fff" stroke="#111" stroke-width="2.5"/>
<rect x="2255" y="800" width="18" height="18" fill="#fff" stroke="#111" stroke-width="2.5"/>
<rect x="2256" y="969" width="18" height="18" fill="#fff" stroke="#111" stroke-width="2.5"/>
<polyline points="3773,219 3773,1174" fill="none" stroke="#333" stroke-width="1.3"/>
<polyline points="3811,219 3811,1174" fill="none" stroke="#333" stroke-width="1.3"/>
<polyline points="3850,219 3850,1174" fill="none" stroke="#333" stroke-width="1.3"/>
<polyline points="3889,219 3889,1174" fill="none" stroke="#333" stroke-width="1.3"/>
<text x="3707" y="161" font-size="32" font-weight="bold">SP -reverse</text>
<text x="3898" y="161" font-size="22">(mV)</text>
<text transform="translate(3801 205) scale(0.72 1)" font-size="28" font-weight="bold" text-anchor="middle" fill="#111">+10</text>
<text transform="translate(3848 205) scale(0.72 1)" font-size="28" font-weight="bold" text-anchor="middle" fill="#111">-10</text>
<polyline points="3735,318 3890,318" fill="none" stroke="#2e7fc0" stroke-width="1.5" stroke-dasharray="14 28"/>
<polyline points="3735,438 3890,438" fill="none" stroke="#2e7fc0" stroke-width="1.5" stroke-dasharray="14 28"/>
<polyline points="3735,607 3890,607" fill="none" stroke="#2e7fc0" stroke-width="1.5" stroke-dasharray="14 28"/>
<polyline points="3735,699 3890,699" fill="none" stroke="#2e7fc0" stroke-width="1.5" stroke-dasharray="14 28"/>
<polyline points="3735,819 3890,819" fill="none" stroke="#2e7fc0" stroke-width="1.5" stroke-dasharray="14 28"/>
<polyline points="3735,1105 3890,1105" fill="none" stroke="#2e7fc0" stroke-width="1.5" stroke-dasharray="14 28"/>
<polyline points="3787.6,292 3819,295 3847.4,298 3870.8,301 3887.8,304 3903.9,307 3912.2,310 3910.6,313 3902.2,316 3885.6,319 3862.4,322 3838.5,325 3812.8,328 3786,331 3789.7,334 3787.9,337 3786.8,340 3784.8,343 3790.5,346 3792,349 3793.9,352 3793.2,355 3788.5,358 3787.9,361" fill="none" stroke="#d8503a" stroke-width="1.6" stroke-linejoin="round"/>
<polyline points="3812,362 3808.9,365 3806.7,368 3814.4,371 3812.7,374 3811.6,377 3816.2,380 3816.8,383 3822.4,386 3820.5,389 3826.1,392 3824.3,395 3826,398 3830.2,401 3830.8,404 3833.5,407 3833.3,410 3827.6,413 3831.4,416 3831.2,419 3828.6,422 3825.8,425 3829.6,428 3829.4,431 3832,434 3831.8,437 3832.8,440 3829.6,443 3828.2,446 3826.1,449 3821.1,452 3823.5,455 3818.6,458 3819,461 3819.9,464 3817,467 3809.9,470 3810.7,473 3808.9,476 3802.6,479 3796.8,482 3796.4,485 3790.9,488 3794.2,491 3791.6,494 3789.2,497" fill="none" stroke="#e07020" stroke-width="1.6" stroke-linejoin="round"/>
<polyline points="3793.1,498 3795.8,501 3797.3,504 3792.7,507 3793.9,510 3793.7,513 3794.5,516 3792.5,519 3791.9,522 3793.6,525 3793.3,528 3795,531 3793.1,534 3792.6,537 3797,540 3797.7,543 3799,546 3801.4,549 3800.3,552 3797.6,555 3801.3,558 3802.2,561 3803.2,564 3803.6,567 3806.4,570 3803.7,573 3804.9,576 3802.7,579 3802.9,582 3803.5,585 3801.3,588 3798.2,591 3799,594 3801.1,597 3801.3,600 3800.2,603 3800.8,606 3797.6,609 3795.4,612 3795,615 3798,618 3795.1,621 3792.5,624 3790.6,627 3788.7,630 3789,633 3791.1,636 3793.8,639 3791.6,642 3790.3,645 3788.6,648 3787.4,651 3789.8,654 3789.3,657 3786.6,660 3783.6,663 3786.4,666 3787.3,669 3778.4,672 3774.6,675 3774.3,678 3776.5,681 3775.3,684 3776.9,687 3772.1,690 3774.8,693 3769.6,696 3769,699 3765.6,702 3769.1,705 3770.3,708 3772.9,711 3773.2,714 3774.4,717 3772.1,720 3773.9,723 3773.3,726 3770.1,729 3772.7,732 3770,735 3767.1,738 3764.7,741" fill="none" stroke="#d8503a" stroke-width="1.6" stroke-linejoin="round"/>
<polyline points="3792.1,745 3795.3,747.5 3790.9,750 3796.7,752.5 3792.3,755 3794.7,757.5 3790.6,760 3795.1,762.5 3791.9,765 3795.8,767.5 3798.6,770 3800.9,772.5 3799.2,775 3802.8,777.5 3806.3,780 3799.9,782.5 3800.2,785 3805.1,787.5 3806.1,790 3803.8,792.5 3801.3,795 3806.5,797.5 3801,800 3804.7,802.5 3807.9,805 3803.1,807.5 3802,810 3801.3,812.5 3803.4,815 3803.1,817.5 3808.3,820 3811.8,822.5 3807.9,825 3811.5,827.5 3805.4,830 3802.1,832.5 3805.9,835 3809.6,837.5 3812.1,840 3815.3,842.5 3816,845 3810.4,847.5 3811.9,850 3814.6,852.5 3807.9,855 3807.9,857.5 3804.4,860 3802.2,862.5 3804.2,865 3807.3,867.5 3812.2,870 3806.5,872.5 3806.9,875 3811.9,877.5 3812.5,880 3810.4,882.5 3806.2,885 3807.4,887.5 3804.3,890 3806.2,892.5 3807.2,895 3805.1,897.5 3807.7,900 3805.2,902.5 3804.2,905 3807.1,907.5 3802.7,910 3799.3,912.5 3801,915 3800.4,917.5 3804.3,920 3800.1,922.5 3798.6,925 3794.3,927.5 3795.5,930 3794.6,932.5 3795.2,935 3798.5,937.5 3792.9,940 3798.9,942.5 3799.4,945 3800.5,947.5 3798.2,950 3796.9,952.5 3794.2,955 3792.2,957.5 3789,960 3787.7,962.5 3786.5,965 3786,967.5 3791.2,970 3792.9,972.5 3792.2,975 3785.1,977.5 3783.2,980 3784.6,982.5 3786.7,985 3784.9,987.5 3785.8,990 3788.8,992.5 3784,995 3782,997.5 3784.4,1000 3811.2,1002.5 3813.1,1005 3810.7,1007.5 3805.3,1010 3806.3,1012.5 3802.8,1015 3807.7,1017.5 3811,1020 3809.7,1022.5 3812.4,1025 3807,1027.5 3805.9,1030 3802.4,1032.5 3798.9,1035 3804.4,1037.5 3799.9,1040 3805.9,1042.5 3805.6,1045 3806.8,1047.5 3800.8,1050 3805.8,1052.5 3807.5,1055 3801.6,1057.5 3798.7,1060 3796.5,1062.5 3798.8,1065 3795.9,1067.5 3801.4,1070 3801.6,1072.5 3803.8,1075 3800.6,1077.5 3802.7,1080 3802,1082.5 3803.5,1085 3802.1,1087.5 3807.1,1090 3808.7,1092.5 3809.6,1095 3805.3,1097.5 3801.2,1100 3798.5,1102.5 3796.7,1105 3804.2,1107.5 3816.9,1110 3821.5,1112.5 3818,1115 3820,1117.5 3817.5,1120 3816.8,1122.5 3821,1125 3822.2,1127.5 3826.5,1130 3822.2,1132.5 3820.1,1135 3816.9,1137.5 3816.7,1140 3824.5,1142.5 3825.2,1145 3825,1147.5 3823.7,1150 3827.3,1152.5 3829,1155 3824.9,1157.5 3821.6,1160 3821.1,1162.5 3827.5,1165 3830.8,1167.5 3827.9,1170" fill="none" stroke="#b5622a" stroke-width="1.8" stroke-linejoin="round"/>
<path d="M3855 316 Q3814.2 304.9 3787 303" fill="none" stroke="#e8202a" stroke-width="2"/>
<polygon points="3772,302 3787.4,296.3 3786.5,309.7" fill="#e8202a"/>
<path d="M3787 352 Q3800.3 327.7 3813 327.8" fill="none" stroke="#2a9fe0" stroke-width="2"/>
<polygon points="3828,328 3812.9,334.6 3813.1,321.1" fill="#2a9fe0"/>
<path d="M3807 430 Q3806.9 399.8 3796.4 388.8" fill="none" stroke="#e8202a" stroke-width="2"/>
<polygon points="3786,378 3801.3,384.2 3791.5,393.5" fill="#e8202a"/>
<path d="M3775 458 Q3786 452 3783.8 453.2" fill="none" stroke="#2a9fe0" stroke-width="2"/>
<polygon points="3797,446 3787.1,459.1 3780.6,447.3" fill="#2a9fe0"/>
<path d="M3775 480 Q3781.6 470.4 3778.3 471.1" fill="none" stroke="#2a9fe0" stroke-width="2"/>
<polygon points="3793,468 3779.7,477.7 3776.9,464.5" fill="#2a9fe0"/>
<path d="M3777 594 Q3780.6 543.9 3763.3 513.1" fill="none" stroke="#e8202a" stroke-width="2"/>
<polygon points="3756,500 3769.2,509.8 3757.5,516.4" fill="#e8202a"/>
<path d="M3757 643 Q3762.3 622.9 3767.2 619.9" fill="none" stroke="#2a9fe0" stroke-width="2"/>
<polygon points="3780,612 3770.8,625.6 3763.7,614.1" fill="#2a9fe0"/>
<path d="M3757 672 Q3757 662 3757 667" fill="none" stroke="#e8202a" stroke-width="2"/>
<polygon points="3757,652 3763.8,667 3750.2,667" fill="#e8202a"/>
<path d="M3770 695 Q3763.5 687.5 3766.8 691.3" fill="none" stroke="#e8202a" stroke-width="2"/>
<polygon points="3757,680 3771.9,686.9 3761.7,695.8" fill="#e8202a"/>
<path d="M3757 738 Q3762.1 717.4 3767.3 714.1" fill="none" stroke="#2a9fe0" stroke-width="2"/>
<polygon points="3780,706 3771,719.8 3763.7,708.4" fill="#2a9fe0"/>
<path d="M3782 814 Q3781 784.6 3770.7 774.5" fill="none" stroke="#e8202a" stroke-width="2"/>
<polygon points="3760,764 3775.4,769.7 3766,779.3" fill="#e8202a"/>
<path d="M3751 884 Q3758.3 848.6 3775.7 836.5" fill="none" stroke="#2a9fe0" stroke-width="2"/>
<polygon points="3788,828 3779.5,842.1 3771.8,831" fill="#2a9fe0"/>
<path d="M3762 982 Q3764.1 956.8 3771.8 950" fill="none" stroke="#2a9fe0" stroke-width="2"/>
<polygon points="3783,940 3776.3,955 3767.3,944.9" fill="#2a9fe0"/>
<path d="M3783 1032 Q3783 1017.5 3783 1018" fill="none" stroke="#e8202a" stroke-width="2"/>
<polygon points="3783,1003 3789.8,1018 3776.2,1018" fill="#e8202a"/>
<path d="M3810 1100 Q3799.2 1063.2 3779 1051.5" fill="none" stroke="#e8202a" stroke-width="2"/>
<polygon points="3766,1044 3782.4,1045.7 3775.6,1057.4" fill="#e8202a"/>
<path d="M3800 1166 Q3805.2 1141.5 3812.3 1134.5" fill="none" stroke="#2a9fe0" stroke-width="2"/>
<polygon points="3823,1124 3817.1,1139.3 3807.6,1129.7" fill="#2a9fe0"/>
<text x="3839" y="925" font-size="20" font-weight="bold" text-anchor="middle">?</text>
<text x="3761" y="1182" font-size="20" font-weight="bold" text-anchor="middle">?</text>
<rect x="3702" y="181" width="30" height="62" fill="url(#pcg)"/>
<rect x="3702" y="243" width="30" height="11" fill="#2f80ee"/>
<rect x="3702" y="254" width="30" height="29" fill="url(#pcg)"/>
<rect x="3702" y="283" width="30" height="10" fill="url(#pcl)"/>
<rect x="3702" y="293" width="30" height="15" fill="url(#pcg)"/>
<rect x="3702" y="308" width="30" height="5" fill="url(#pcl)"/>
<rect x="3702" y="313" width="30" height="5" fill="url(#pcg)"/>
<rect x="3702" y="318" width="30" height="5" fill="url(#pcl)"/>
<rect x="3702" y="323" width="30" height="3" fill="url(#pcg)"/>
<rect x="3702" y="326" width="30" height="5" fill="url(#pcl)"/>
<rect x="3702" y="331" width="30" height="54" fill="url(#pcg)"/>
<rect x="3702" y="385" width="30" height="20" fill="url(#pcl)"/>
<rect x="3702" y="405" width="30" height="10" fill="url(#pcg)"/>
<rect x="3702" y="415" width="30" height="7" fill="url(#pcl)"/>
<rect x="3702" y="422" width="30" height="56" fill="url(#pcg)"/>
<rect x="3702" y="478" width="30" height="6" fill="url(#pcl)"/>
<rect x="3702" y="484" width="30" height="26" fill="url(#pcg)"/>
<rect x="3702" y="510" width="30" height="14" fill="url(#pcl)"/>
<rect x="3702" y="524" width="30" height="116" fill="url(#pcg)"/>
<rect x="3702" y="640" width="30" height="7" fill="url(#pcl)"/>
<rect x="3702" y="647" width="30" height="108" fill="url(#pcg)"/>
<rect x="3702" y="755" width="30" height="236" fill="url(#pcs)"/>
<rect x="3702" y="991" width="30" height="167" fill="#3b3a34"/>
<rect x="3702" y="1158" width="30" height="16" fill="url(#pcs)"/>
<rect x="3702" y="1174" width="30" height="276" fill="#12bff0"/>
<polyline points="3732,181 3732,1450" fill="none" stroke="#111" stroke-width="2"/>
<polyline points="3702,181 3732,181" fill="none" stroke="#111" stroke-width="1.2"/>
<polyline points="3702,181 3702,1450" fill="none" stroke="#111" stroke-width="1"/>
<polygon points="3636,255 3684,255 3660,282" fill="#8b5e34" stroke="#111" stroke-width="1.5" stroke-linejoin="round"/>
<polygon points="3636,283 3684,283 3660,322" fill="#c49a6c" stroke="#111" stroke-width="1.5" stroke-linejoin="round"/>
<polygon points="3660,322 3684,363 3636,363" fill="#c49a6c" stroke="#111" stroke-width="1.5" stroke-linejoin="round"/>
<polygon points="3636,363 3684,363 3660,441" fill="#fff200" stroke="#111" stroke-width="1.5" stroke-linejoin="round"/>
<polygon points="3660,441 3684,496 3636,496" fill="#fff200" stroke="#111" stroke-width="1.5" stroke-linejoin="round"/>
<polygon points="3636,496 3684,496 3660,609" fill="#f2f5d0" stroke="#111" stroke-width="1.5" stroke-linejoin="round"/>
<polygon points="3660,609 3684,648 3636,648" fill="#f2f5d0" stroke="#111" stroke-width="1.5" stroke-linejoin="round"/>
<polygon points="3636,648 3684,648 3660,699" fill="#f4f59a" stroke="#111" stroke-width="1.5" stroke-linejoin="round"/>
<polygon points="3660,699 3684,743 3636,743" fill="#f4f59a" stroke="#111" stroke-width="1.5" stroke-linejoin="round"/>
<polygon points="3636,743 3684,743 3660,817" fill="#3bf51f" stroke="#111" stroke-width="1.5" stroke-linejoin="round"/>
<polygon points="3660,817 3684,991 3636,991" fill="#3bf51f" stroke="#111" stroke-width="1.5" stroke-linejoin="round"/>
<polygon points="3636,991 3684,991 3660,1102" fill="#5cb80f" stroke="#111" stroke-width="1.5" stroke-linejoin="round"/>
<polygon points="3660,1102 3684,1158 3636,1158" fill="#5cb80f" stroke="#111" stroke-width="1.5" stroke-linejoin="round"/>
<polygon points="3636,1158 3684,1158 3660,1167" fill="#a5e8e8" stroke="#111" stroke-width="1.5" stroke-linejoin="round"/>
<polygon points="3660,1167 3684,1174 3636,1174" fill="#a5e8e8" stroke="#111" stroke-width="1.5" stroke-linejoin="round"/>
<rect x="3694" y="63" width="8" height="1387" fill="#222"/>
<rect x="3698" y="63" width="151" height="57" fill="#000"/>
<text x="3773.5" y="107.8" font-size="45.5" font-weight="bold" text-anchor="middle" fill="#fff">PA-1</text>
<text x="3556" y="279" font-size="47">S8</text>
<text x="3556" y="332" font-size="47">S7</text>
<text x="3556" y="405" font-size="47">S6</text>
<text x="3546" y="537" font-size="47">S5b</text>
<text x="3546" y="692" font-size="47">S5a</text>
<text x="3558" y="785" font-size="47">S4</text>
<text x="3558" y="1110" font-size="47">S3</text>
<text x="1163" y="272" font-size="47">S8?</text>
<text x="1174" y="389" font-size="47">S7</text>
<text x="1173" y="505" font-size="47">S6</text>
<text x="1160" y="578" font-size="47">S5b</text>
<text x="1160" y="622" font-size="47">S5a</text>
<text x="1173" y="675" font-size="47">S4</text>
<text x="1173" y="743" font-size="47">S3</text>
<polygon points="3596,828.3 3605.4,846.8 3626.1,844.3 3611.4,859 3620.1,877.9 3601.6,868.5 3586.4,882.6 3589.6,862.1 3571.4,852 3591.9,848.7" fill="#3bf51f" stroke="#111" stroke-width="2" stroke-linejoin="miter"/>
<rect x="1706" y="133" width="374" height="128" fill="#c66f47" stroke="#111" stroke-width="3" rx="7"/>
<text x="1717" y="165" font-size="36.3" font-weight="bold" fill="#000">+475-485 m</text>
<text x="1717" y="209" font-size="36.3" font-weight="bold" fill="#000">MN9-10: 11.2-9 Ma</text>
<text x="1717" y="253" font-size="36.3" fill="#000">At H9*, 10 km to NW</text>
<rect x="1706" y="322" width="376" height="127" fill="#c66f47" stroke="#111" stroke-width="3" rx="7"/>
<text x="1717" y="355" font-size="36.3" font-weight="bold" fill="#000">+413-380 m</text>
<text x="1717" y="399" font-size="36.3" font-weight="bold" fill="#000">MN9: 11.2-9.5 Ma</text>
<text x="1717" y="443" font-size="36.3" fill="#000">At J1*, 9.5 km to NW</text>
<polyline points="363,501 363,570" fill="none" stroke="#111" stroke-width="4"/>
<rect x="353" y="491" width="20" height="20" fill="#fff" stroke="#111" stroke-width="2.5"/>
<rect x="113" y="570" width="333" height="197" fill="#c66f47" stroke="#111" stroke-width="3" rx="7"/>
<text x="123" y="605" font-size="30.5" font-weight="bold" fill="#000">+250-280 m</text>
<text x="123" y="642.3" font-size="30.5" font-weight="bold" fill="#000">MN4-8: 20-11.2 Ma</text>
<text x="123" y="679.6" font-size="30.5" fill="#000">At H10-11-12-13*</text>
<text x="123" y="716.9" font-size="30.5" font-weight="bold" font-style="italic" fill="#000">=&gt; Continental karst</text>
<text x="123" y="754.2" font-size="30.5" font-weight="bold" font-style="italic" fill="#000">infill sediments</text>
<rect x="1120" y="820" width="470" height="99" fill="#68cbe2" stroke="#111" stroke-width="3" rx="7"/>
<text x="1133" y="857" font-size="36.3" font-weight="bold" fill="#000">+29 m</text>
<text x="1133" y="901" font-size="36.3" font-weight="bold" fill="#000">NN6-NP15 = 11.89 Ma-Eoc.</text>
<rect x="2382" y="450" width="403" height="127" fill="#2f7fc3" stroke="#111" stroke-width="3" rx="7"/>
<text x="2392" y="483" font-size="36.3" font-weight="bold" fill="#fff">+270 to 300 m</text>
<text x="2392" y="527" font-size="36.3" font-weight="bold" fill="#fff">N9-N18= 15.0-5.33 Ma</text>
<text x="2392" y="571" font-size="36.3" fill="#fff">At H4, H5*, 11 km to E</text>
<rect x="2398" y="744" width="540" height="130" fill="#68cbe2" stroke="#111" stroke-width="3" rx="7"/>
<text x="2407" y="776" font-size="36.3" font-weight="bold" fill="#000">-0.2 m</text>
<text x="2407" y="820" font-size="36.3" font-weight="bold" fill="#000">NN6-NP15 = 11.89 Ma-Eoc.</text>
<text x="2407" y="864" font-size="36.3" fill="#000">At BI-1 well-log*, 5.5 km to SSW</text>
<rect x="2386" y="1002" width="420" height="102" fill="#2f7fc3" stroke="#111" stroke-width="3" rx="7"/>
<text x="2398" y="1041" font-size="36.3" font-weight="bold" fill="#fff">-157 m</text>
<text x="2398" y="1085" font-size="36.3" font-weight="bold" fill="#fff">N8b-N9a = 15.4-14.5 Ma</text>
<polyline points="3542,967 3690,992" fill="none" stroke="#111" stroke-width="4"/>
<polyline points="3542,1019 3690,1003" fill="none" stroke="#111" stroke-width="4"/>
<polyline points="3542,1216 3692,1130" fill="none" stroke="#111" stroke-width="4"/>
<rect x="3059" y="897" width="483" height="91" fill="#68cbe2" stroke="#111" stroke-width="3" rx="7"/>
<text x="3073" y="932" font-size="36.3" font-weight="bold" fill="#000">At -168 m</text>
<text x="3073" y="976" font-size="36.3" font-weight="bold" fill="#000">NN6-NP15 = 11.89 Ma-Eoc.</text>
<rect x="3059" y="995" width="481" height="89" fill="#68cbe2" stroke="#111" stroke-width="3" rx="7"/>
<text x="3073" y="1028" font-size="36.3" font-weight="bold" fill="#000">-173 m</text>
<text x="3073" y="1072" font-size="36.3" font-weight="bold" fill="#000">NN6-NP15 = 11.89 Ma-Eoc.</text>
<rect x="3184" y="1175" width="358" height="88" fill="#2f7fc3" stroke="#111" stroke-width="3" rx="7"/>
<text x="3205" y="1210" font-size="36.3" font-weight="bold" fill="#fff">-290 m</text>
<text x="3205" y="1253" font-size="36.3" font-weight="bold" fill="#fff">N9 (?)= 15.0-14 Ma</text>
<rect x="3688.5" y="982.5" width="19" height="19" fill="#fff" stroke="#111" stroke-width="2.5"/>
<rect x="3688.5" y="994.5" width="19" height="19" fill="#fff" stroke="#111" stroke-width="2.5"/>
<rect x="3688.5" y="1119.5" width="19" height="19" fill="#fff" stroke="#111" stroke-width="2.5"/>
<polyline points="3935,1204 4020,1498" fill="none" stroke="#111" stroke-width="9" stroke-dasharray="14 14"/>
<circle cx="3974" cy="1303" r="53" fill="#fbb040" stroke="#111" stroke-width="5"/>
<text x="3974" y="1335" font-size="91" text-anchor="middle">4</text>
<rect x="4055" y="1416" width="92" height="91" fill="#fff" stroke="#111" stroke-width="4"/>
<text x="4101" y="1494" font-size="84" font-weight="bold" text-anchor="middle">A</text>
<polygon points="55,1964 516,1964 650,1765 1274,1765 1561,1810 1561,2576 55,2576" fill="#f0e4da"/>
<polygon points="55,1964 516,1964 536,1932 760,1859 1091,1859 1561,1810 1933,1861 2581,1861 2581,2576 55,2576" fill="#ffffbe"/>
<polygon points="55,2125 530,2125 763,2027 1094,2027 1953,1932 2581,1932 2581,2576 55,2576" fill="#fdfdf0"/>
<polygon points="55,2167 522,2167 763,2111 1094,2111 1947,2005 2581,2005 2581,2576 55,2576" fill="#fcfde0"/>
<polygon points="55,2232 522,2232 760,2204 1094,2207 1947,2061 2584,2061 2867,1682 2794,1680 3227,1680 3525,1838 4012,1838 4012,2576 55,2576" fill="#ccffc2"/>
<polygon points="55,2304 800,2304 873,2313 1094,2313 1947,2201 2578,2201 2941,1748 3251,1748 3607,2026 4012,2026 4012,2576 55,2576" fill="#d5edc0"/>
<polygon points="2760,2125 2953,1916 3243,1916 3616,2228 4012,2228 4012,2576 2300,2576" fill="#e5f8f8"/>
<polygon points="2870,2060 2953,1974 3237,1974 3533,2280 4012,2280 4012,2576 2500,2576" fill="#c8e4f8"/>
<polygon points="55,2346 593,2346 751,2451 1108,2451 1936,2257 2015,2238 2541,2238 2593,2232 2919,2031 3223,2031 3519,2347 4012,2347 4012,2576 55,2576" fill="#f9c6d2"/>
<polygon points="1465,2576 1936,2257 2015,2238 2541,2238 2593,2232 2944,2483 3288,2483 3399,2576" fill="#cccccc"/>
<polyline points="65,1650 4022,1650" fill="none" stroke="#111" stroke-width="2.2"/>
<polyline points="63,1766 4014,1766" fill="none" stroke="#555" stroke-width="1.2"/>
<polyline points="63,1881 4014,1881" fill="none" stroke="#555" stroke-width="1.2"/>
<polyline points="63,1997 4014,1997" fill="none" stroke="#555" stroke-width="1.2"/>
<polyline points="63,2112 4014,2112" fill="none" stroke="#555" stroke-width="1.2"/>
<polyline points="55,2228 4016,2228" fill="none" stroke="#111" stroke-width="2.2"/>
<polyline points="63,2344 4014,2344" fill="none" stroke="#555" stroke-width="1.2"/>
<polyline points="63,2459 4014,2459" fill="none" stroke="#555" stroke-width="1.2"/>
<polyline points="55,2576 4012,2576" fill="none" stroke="#888" stroke-width="1.5"/>
<polyline points="536,1932 760,1859 1091,1859" fill="none" stroke="#c49a6c" stroke-width="4.5"/>
<polyline points="55,2125 530,2125 763,2027 1094,2027 1953,1932 2598,1932" fill="none" stroke="#fff200" stroke-width="4.5"/>
<polyline points="55,2167 522,2167 763,2111 1094,2111 1947,2005 2590,2005 2598,1996" fill="none" stroke="#f5d9a0" stroke-width="4.5"/>
<polyline points="55,2232 522,2232 760,2204 1094,2207 1947,2061 2584,2061 2867,1682" fill="none" stroke="#f5d9a0" stroke-width="4.5"/>
<polyline points="55,2304 800,2304 873,2313 1094,2313 1947,2201 2578,2201 2941,1748 3251,1748 3607,2026 4012,2026" fill="none" stroke="#3bf51f" stroke-width="4.5"/>
<polyline points="2760,2125 2953,1916 3243,1916 3616,2228 4012,2228" fill="none" stroke="#3aaa44" stroke-width="4.5"/>
<polyline points="2870,2060 2953,1974 3237,1974 3533,2280 4012,2280" fill="none" stroke="#44ccee" stroke-width="4.5"/>
<polyline points="1465,2576 1936,2257" fill="none" stroke="#e8202a" stroke-width="3.5"/>
<polyline points="2593,2232 2944,2483 3288,2483 3399,2576" fill="none" stroke="#e8202a" stroke-width="3.5"/>
<polyline points="55,2346 593,2346 751,2451 1108,2451 1936,2257 2015,2238 2541,2238 2593,2232 2919,2031 3223,2031 3519,2347 3835,2347" fill="none" stroke="#e8202a" stroke-width="4" stroke-linejoin="round"/>
<polyline points="55,1964 516,1964 650,1765 1274,1765 1933,1861 2581,1861 2794,1680 3227,1680 3525,1838 4001,1838" fill="none" stroke="#e8202a" stroke-width="5" stroke-linejoin="round"/>
<polyline points="2686,2299 2953,2566 3271,2566 3279,2573" fill="none" stroke="#3aaa44" stroke-width="4" stroke-dasharray="24 14"/>
<polyline points="344.6,1583 882.4,1583" fill="none" stroke="#222" stroke-width="2.2"/>
<polygon points="331,1583 348,1573.7 348,1592.3" fill="#222"/>
<polygon points="896,1583 879,1573.7 879,1592.3" fill="#222"/>
<polyline points="915.6,1583 2265.4,1583" fill="none" stroke="#222" stroke-width="2.2"/>
<polygon points="902,1583 919,1573.7 919,1592.3" fill="#222"/>
<polygon points="2279,1583 2262,1573.7 2262,1592.3" fill="#222"/>
<polyline points="2299.6,1583 3076.4,1583" fill="none" stroke="#222" stroke-width="2.2"/>
<polygon points="2286,1583 2303,1573.7 2303,1592.3" fill="#222"/>
<polygon points="3090,1583 3073,1573.7 3073,1592.3" fill="#222"/>
<polyline points="3111.6,1583 3647.4,1583" fill="none" stroke="#222" stroke-width="2.2"/>
<polygon points="3098,1583 3115,1573.7 3115,1592.3" fill="#222"/>
<polygon points="3661,1583 3644,1573.7 3644,1592.3" fill="#222"/>
<text x="71" y="1603" font-size="69" font-weight="bold">NW</text>
<text x="3970" y="1604" font-size="69" font-weight="bold">SE</text>
<text x="601" y="1572" font-size="46" text-anchor="middle">5 km</text>
<text x="1672" y="1572" font-size="46" text-anchor="middle">12 km</text>
<text x="2714" y="1566" font-size="46" text-anchor="middle">7 km</text>
<text x="3396" y="1567" font-size="46" text-anchor="middle">5 km</text>
<text x="4034" y="1658" font-size="44">500 m</text>
<text x="4045" y="2233" font-size="44">0 m</text>
<polyline points="136,1938 136,2398" fill="none" stroke="#333" stroke-width="1.3"/>
<polyline points="164,1938 164,2398" fill="none" stroke="#333" stroke-width="1.3"/>
<polyline points="194,1938 194,2398" fill="none" stroke="#333" stroke-width="1.3"/>
<polyline points="223,1938 223,2398" fill="none" stroke="#333" stroke-width="2.2"/>
<polyline points="249,1938 249,2398" fill="none" stroke="#333" stroke-width="1.3"/>
<polyline points="278,1938 278,2398" fill="none" stroke="#333" stroke-width="1.3"/>
<polyline points="306,1938 306,2398" fill="none" stroke="#333" stroke-width="1.3"/>
<polyline points="120,1938 320,1938" fill="none" stroke="#333" stroke-width="1.3"/>
<text x="85" y="1876" font-size="32" font-weight="bold">SP</text>
<text x="138" y="1876" font-size="26">(mV)</text>
<text x="209" y="1876" font-size="26">(µg Ra<tspan dy="-11" font-size="16">-1</tspan><tspan dy="11">)</tspan></text>
<text x="261" y="1840" font-size="32" font-weight="bold" text-anchor="middle">GR</text>
<text transform="translate(138 1926) scale(0.72 1)" font-size="30" font-weight="bold" text-anchor="middle" fill="#111">-10</text>
<text transform="translate(193 1926) scale(0.72 1)" font-size="30" font-weight="bold" text-anchor="middle" fill="#111">+30</text>
<text transform="translate(249 1926) scale(0.72 1)" font-size="30" font-weight="bold" text-anchor="middle" fill="#111">3</text>
<text transform="translate(306 1926) scale(0.72 1)" font-size="30" font-weight="bold" text-anchor="middle" fill="#111">9</text>
<polyline points="251.2,1950 250.2,1953 251.3,1956 253.7,1959 252.1,1962 251,1965 251.1,1968 254.3,1971 252.7,1974 255.3,1977 256.4,1980 254.1,1983 255.1,1986 255.3,1989 255.2,1992 258.6,1995 255.5,1998 253.3,2001 257.3,2004 256.7,2007 255.2,2010 255.1,2013 255.4,2016 258.9,2019 256.9,2022 255.7,2025 257.2,2028 258,2031 260.8,2034 261.9,2037 259.9,2040 257.8,2043 260.3,2046 262.7,2049 258.7,2052 260.4,2055 262.3,2058 262.2,2061 259.8,2064 261.7,2067 262.5,2070 259.9,2073 261.1,2076 259.4,2079 257.4,2082 258,2085 258.4,2088 259,2091 260.9,2094 263.2,2097 265.4,2100 266.8,2103 267.8,2106 267.3,2109 264.3,2112 261.8,2115 262.9,2118 263.2,2121 264.2,2124 261.5,2127 260.5,2130 264.2,2133 264.6,2136 265.5,2139 262.6,2142 262.7,2145 265.7,2148 266.1,2151 268.4,2154 265.2,2157 264.9,2160 266.7,2163 265.9,2166 267.4,2169 267,2172 264.3,2175 262.7,2178 266.8,2181 264.4,2184 263.5,2187 263.8,2190 266.2,2193 268.5,2196 267.8,2199 267.5,2202 269.1,2205 267.2,2208 266.6,2211 267.8,2214 268.6,2217 265.8,2220 264.5,2223 264,2226 267.1,2229 268.9,2232 271.6,2235 272.1,2238 269.5,2241 271,2244 273.2,2247 270.9,2250 267.7,2253 267.9,2256 267.5,2259 266.8,2262 265.6,2265 265.4,2268 269.7,2271 267.6,2274 269.6,2277 268.6,2280 267.9,2283 271.2,2286 270.2,2289 269,2292 270,2295 271.9,2298" fill="none" stroke="#777" stroke-width="1.2" stroke-linejoin="round"/>
<polyline points="278.9,2230 278.1,2233 279.3,2236 288.9,2239 289.2,2242 292.9,2245 286.4,2248 288.8,2251 295.2,2254 294.7,2257 300.7,2260 303.5,2263 298,2266 289.5,2269 295.4,2272 289.9,2275 284.9,2278 292.3,2281 298.3,2284 301.8,2287 305.5,2290 296.7,2293 289.5,2296 285.6,2299 295.4,2302 288.6,2305 284.9,2308 280.4,2311 277.9,2314 275.8,2317 278.8,2320 277.6,2323 278.5,2326 287.7,2329 281.9,2332 287.3,2335 289.2,2338 287.5,2341 286.2,2344 287.9,2347 286,2350 279.4,2353 276.6,2356 273.4,2359 273.5,2362 281.8,2365 278.5,2368 271.2,2371 272.6,2374 278.1,2377 276.1,2380 278.5,2383 271.2,2386 266.4,2389 272.2,2392 266.9,2395 267.5,2398" fill="none" stroke="#555" stroke-width="1.2" stroke-linejoin="round"/>
<polyline points="160.6,2090 162.3,2093 165.3,2096 162.7,2099 164.8,2102 168.4,2105 171,2108 166.7,2111 168.4,2114 169.4,2117 169.4,2120 173.6,2123 172.7,2126 171.7,2129 175.6,2132 175.6,2135 173,2138 171.7,2141 172.8,2144 169.8,2147 173.1,2150 176.3,2153 175.8,2156 179.3,2159 182.2,2162 181,2165 181.4,2168 177,2171 173.9,2174 180.1,2177 178,2180 176.1,2183 181,2186 182.7,2189 178.3,2192 177.5,2195 176.3,2198 175.8,2201 173.2,2204 176.1,2207 175.9,2210 176.5,2213 175,2216 173.4,2219 171.6,2222 177.7,2225 180.2,2228 179.9,2231 175.8,2234 173.4,2237 171.6,2240 172,2243 169.8,2246 170.2,2249 169.5,2252 168.8,2255 172.2,2258 172.2,2261 172.2,2264 170.9,2267 171.4,2270 173.5,2273 170.4,2276 166.2,2279 166.9,2282 166.1,2285 168.9,2288 164.4,2291 168,2294 162.4,2297 163.2,2300 162.6,2303 160.8,2306 164.3,2309 164.5,2312 159.6,2315 159.2,2318 159.6,2321 154.6,2324 151.7,2327 154,2330 156.3,2333 155,2336 153.5,2339 153.1,2342 150.4,2345 153.8,2348 156.3,2351 153.3,2354 147.3,2357 146.7,2360 149.5,2363 146.9,2366 143.1,2369 141.4,2372 144.6,2375 145.6,2378" fill="none" stroke="#7fcfc8" stroke-width="1.2" stroke-linejoin="round"/>
<path d="M254 2120 Q220 2048.8 221.6 1985" fill="none" stroke="#e8202a" stroke-width="2"/>
<polygon points="222,1970 228.4,1985.2 214.9,1984.8" fill="#e8202a"/>
<path d="M243 2114 Q250.5 2119 245.5 2115.7" fill="none" stroke="#2a9fe0" stroke-width="2"/>
<polygon points="258,2124 241.8,2121.3 249.3,2110.1" fill="#2a9fe0"/>
<path d="M270 2144 Q263 2136 265.9 2139.3" fill="none" stroke="#e8202a" stroke-width="2"/>
<polygon points="256,2128 271,2134.8 260.8,2143.7" fill="#e8202a"/>
<path d="M254 2160 Q262 2155 257.3 2157.9" fill="none" stroke="#2a9fe0" stroke-width="2"/>
<polygon points="270,2150 260.9,2163.7 253.7,2152.2" fill="#2a9fe0"/>
<path d="M271 2206 Q266.5 2189 265.8 2186.5" fill="none" stroke="#e8202a" stroke-width="2"/>
<polygon points="262,2172 272.4,2184.8 259.3,2188.2" fill="#e8202a"/>
<path d="M250 2226 Q259 2221 254.9 2223.3" fill="none" stroke="#2a9fe0" stroke-width="2"/>
<polygon points="268,2216 258.2,2229.2 251.6,2217.4" fill="#2a9fe0"/>
<path d="M262 2298 Q270 2291 266.7 2293.9" fill="none" stroke="#2a9fe0" stroke-width="2"/>
<polygon points="278,2284 271.2,2299 262.3,2288.8" fill="#2a9fe0"/>
<rect x="325" y="1936" width="30" height="24" fill="url(#pq)"/>
<rect x="325" y="1960" width="30" height="28" fill="url(#pcs)"/>
<rect x="325" y="1988" width="30" height="56" fill="url(#psc)"/>
<rect x="325" y="2044" width="30" height="231" fill="url(#pcl)"/>
<rect x="325" y="2275" width="30" height="20" fill="#3b3a34"/>
<rect x="325" y="2295" width="30" height="48" fill="url(#psc)"/>
<rect x="325" y="2343" width="30" height="233" fill="#f49ab3"/>
<polyline points="355,1936 355,2576" fill="none" stroke="#111" stroke-width="2"/>
<polyline points="325,1936 355,1936" fill="none" stroke="#111" stroke-width="1.2"/>
<polygon points="361,1963 417,1963 389,2105" fill="#fff200" stroke="#111" stroke-width="1.5" stroke-linejoin="round"/>
<polygon points="389,2105 417,2125 361,2125" fill="#fff200" stroke="#111" stroke-width="1.5" stroke-linejoin="round"/>
<polygon points="361,2125 417,2125 389,2144" fill="#fff" stroke="#111" stroke-width="1.5" stroke-linejoin="round"/>
<polygon points="389,2144 417,2163 361,2163" fill="#f2f5d0" stroke="#111" stroke-width="1.5" stroke-linejoin="round"/>
<polygon points="361,2167 417,2167 389,2215" fill="#f4f59a" stroke="#111" stroke-width="1.5" stroke-linejoin="round"/>
<polygon points="389,2215 417,2232 361,2232" fill="#f4f59a" stroke="#111" stroke-width="1.5" stroke-linejoin="round"/>
<polygon points="361,2232 417,2232 389,2280" fill="#3bf51f" stroke="#111" stroke-width="1.5" stroke-linejoin="round"/>
<polygon points="389,2280 417,2304 361,2304" fill="#3bf51f" stroke="#111" stroke-width="1.5" stroke-linejoin="round"/>
<polygon points="361,2304 417,2304 389,2342" fill="#5cb80f" stroke="#111" stroke-width="1.5" stroke-linejoin="round"/>
<text x="391" y="1957" font-size="46" font-weight="bold" text-anchor="middle">?</text>
<text x="428" y="2132" font-size="20" font-weight="bold" text-anchor="middle">?</text>
<text x="430" y="2172" font-size="20" font-weight="bold" text-anchor="middle">?</text>
<rect x="319" y="1646" width="5" height="930" fill="#222"/>
<rect x="320" y="1646" width="152" height="57" fill="#000"/>
<text x="396" y="1690.8" font-size="45.5" font-weight="bold" text-anchor="middle" fill="#fff">BEF-1</text>
<polyline points="320,1966 344,1881 378,1881" fill="none" stroke="#111" stroke-width="4"/>
<polyline points="320,2126 353,2061 447,2061" fill="none" stroke="#111" stroke-width="4"/>
<polyline points="320,2344 352,2411 369,2411" fill="none" stroke="#111" stroke-width="4"/>
<rect x="310.5" y="1956.5" width="19" height="19" fill="#fff" stroke="#111" stroke-width="2.5"/>
<rect x="310.5" y="2116.5" width="19" height="19" fill="#fff" stroke="#111" stroke-width="2.5"/>
<rect x="310.5" y="2334.5" width="19" height="19" fill="#fff" stroke="#111" stroke-width="2.5"/>
<rect x="378" y="1722" width="355" height="179" fill="#fcec2e" stroke="#111" stroke-width="3" rx="7"/>
<text x="391" y="1760" font-size="36.3" font-weight="bold" fill="#000">+220-260 m</text>
<text x="391" y="1804" font-size="36.3" font-weight="bold" fill="#000">Str: 13.4 +/- 1.1 Ma</text>
<text x="473" y="1848" font-size="36.3" font-weight="bold" fill="#000">11.7 +/- 0.8 Ma</text>
<text x="391" y="1892" font-size="36.3" fill="#000">At J6*, 15 km to NW</text>
<rect x="447" y="2031" width="237" height="91" fill="#68cbe2" stroke="#111" stroke-width="3" rx="7"/>
<text x="457" y="2066" font-size="36.3" font-weight="bold" fill="#000">+94 m</text>
<text x="457" y="2110" font-size="36.3" font-weight="bold" fill="#000">23.1-11.9 Ma</text>
<rect x="369" y="2361" width="270" height="95" fill="#68cbe2" stroke="#111" stroke-width="3" rx="7"/>
<text x="373" y="2399" font-size="36.3" font-weight="bold" fill="#000">-100 to -101 m</text>
<text x="373" y="2443" font-size="36.3" font-weight="bold" fill="#000">Eoc.-10.75 Ma</text>
<polyline points="993,1820 993,2555" fill="none" stroke="#333" stroke-width="1.3"/>
<polyline points="1030,1820 1030,2555" fill="none" stroke="#333" stroke-width="2.2"/>
<polyline points="1068,1820 1068,2555" fill="none" stroke="#333" stroke-width="1.3"/>
<polyline points="1105,1820 1105,2555" fill="none" stroke="#333" stroke-width="1.3"/>
<polyline points="938,1820 1133,1820" fill="none" stroke="#333" stroke-width="1.3"/>
<polyline points="1030,1808 1030,1820" fill="none" stroke="#222" stroke-width="2.2"/>
<polyline points="1105,1810 1105,1820" fill="none" stroke="#333" stroke-width="1.3"/>
<polyline points="993,2394 1133,2394" fill="none" stroke="#333" stroke-width="1"/>
<text transform="translate(1030 1810) scale(0.72 1)" font-size="30" font-weight="bold" text-anchor="middle" fill="#111">3</text>
<text transform="translate(1105 1810) scale(0.72 1)" font-size="30" font-weight="bold" text-anchor="middle" fill="#111">6</text>
<polyline points="1118,1809 1132,1809" fill="none" stroke="#111" stroke-width="2"/>
<polygon points="1140,1809 1128,1803 1128,1815" fill="#111"/>
<text x="1163" y="1816" font-size="32" font-weight="bold">GR</text>
<text x="1146" y="1850" font-size="24">(µg Ra<tspan dy="-11" font-size="16">-1</tspan><tspan dy="11">)</tspan></text>
<polyline points="1014.1,1855 1012.8,1857.5 1011.5,1860 1016.3,1862.5 1016.8,1865 1018,1867.5 1017.8,1870 1016.5,1872.5 1018.3,1875 1018.4,1877.5 1020,1880 1020.1,1882.5 1021.5,1885 1019.6,1887.5 1016.4,1890 1014.6,1892.5 1017.6,1895 1015.5,1897.5 1017.8,1900 1018.9,1902.5 1015.6,1905 1018.9,1907.5 1015.5,1910 1019.5,1912.5 1021.7,1915 1018.6,1917.5 1020.4,1920 1021.5,1922.5 1017.8,1925 1019.5,1927.5 1016.6,1930 1020.5,1932.5 1021.3,1935 1023.8,1937.5 1018.6,1940 1017.4,1942.5 1018.8,1945 1019.5,1947.5 1016.8,1950 1020.3,1952.5 1022,1955 1019.1,1957.5 1016.1,1960 1018.1,1962.5 1017.3,1965 1018.6,1967.5 1018.1,1970 1017.1,1972.5 1013.7,1975 1012.4,1977.5 1013.8,1980 1016.6,1982.5 1016,1985 1017.8,1987.5 1017.4,1990 1019.5,1992.5 1019.1,1995 1016.3,1997.5 1013.3,2000 1010.8,2002.5 1009.1,2005 1013.9,2007.5 1016.8,2010 1017.5,2012.5 1013.3,2015 1014.6,2017.5 1011.5,2020 1015.1,2022.5 1015.4,2025 1016.3,2027.5 1015.7,2030 1013.9,2032.5 1015.8,2035 1017.7,2037.5 1013.7,2040 1012.6,2042.5 1014,2045 1014.4,2047.5 1012.6,2050 1011.8,2052.5 1015,2055 1011.9,2057.5 1009.6,2060 1011.6,2062.5 1009.8,2065 1013.2,2067.5 1011.1,2070 1014.1,2072.5 1012,2075 1014.4,2077.5 1014.8,2080 1015,2082.5 1011.3,2085 1008.8,2087.5 1006.3,2090 1006,2092.5 1009.3,2095 1006.9,2097.5 1006.8,2100 1009.2,2102.5 1007.7,2105 1008,2107.5 1007.6,2110 1010.6,2112.5 1008.5,2115 1013.6,2117.5 1013.8,2120 1014.9,2122.5 1014.4,2125 1013.8,2127.5 1016.9,2130 1018.3,2132.5 1018.7,2135 1013.3,2137.5 1014.2,2140 1017.3,2142.5 1017.1,2145 1016.1,2147.5 1016.6,2150 1013.6,2152.5 1015.9,2155 1017.7,2157.5 1013.7,2160 1014.6,2162.5 1015.8,2165 1014.9,2167.5 1016.8,2170 1019.7,2172.5 1021.4,2175 1018.2,2177.5 1015.3,2180 1018.6,2182.5 1019,2185 1020.8,2187.5 1022.2,2190 1018.9,2192.5 1019.2,2195 1017.4,2197.5 1019.9,2200 1020.7,2202.5 1017.9,2205 1018.2,2207.5 1019.1,2210 1017,2212.5 1015.5,2215 1016.7,2217.5 1014.5,2220 1016.3,2222.5 1020.5,2225 1022.3,2227.5 1017.8,2230 1020.6,2232.5 1021.5,2235 1022,2237.5 1017.4,2240" fill="none" stroke="#666" stroke-width="1.2" stroke-linejoin="round"/>
<polyline points="1037.4,2240 1028.5,2242.5 1027.6,2245 1026.3,2247.5 1034.5,2250 1038.5,2252.5 1044.7,2255 1034.7,2257.5 1034.5,2260 1027.8,2262.5 1027.1,2265 1031.8,2267.5 1026.4,2270 1026.3,2272.5 1034.1,2275 1037.1,2277.5 1033.4,2280 1037.7,2282.5 1044.2,2285 1034.3,2287.5 1042.3,2290 1045.4,2292.5 1041.1,2295 1035.5,2297.5 1046.1,2300 1041.9,2302.5 1035.2,2305 1031.4,2307.5 1042.2,2310 1044.6,2312.5 1049.6,2315 1051.4,2317.5 1049.3,2320 1055.7,2322.5 1049.3,2325 1048.7,2327.5 1053.1,2330 1052.3,2332.5 1056.1,2335 1053.6,2337.5 1054.4,2340 1043.6,2342.5 1040.4,2345 1039.7,2347.5 1035.7,2350 1036.1,2352.5 1034.2,2355 1036.2,2357.5 1043.7,2360 1043.6,2362.5 1043.8,2365 1041.2,2367.5 1040.8,2370 1052.2,2372.5 1054.2,2375 1054.8,2377.5 1047.7,2380 1053.3,2382.5 1046.9,2385 1046.9,2387.5 1057.6,2390 1058.1,2392.5 1057.1,2395 1058.8,2397.5 1062.6,2400 1063.9,2402.5 1055.3,2405 1046.9,2407.5 1046.8,2410 1046.1,2412.5 1044.8,2415 1056.8,2417.5 1062.9,2420 1057,2422.5 1059.5,2425 1056.6,2427.5 1063.9,2430 1060.6,2432.5 1055.3,2435 1052,2437.5 1055.5,2440 1052.6,2442.5 1056.5,2445 1064.4,2447.5 1060.6,2450 1055.3,2452.5 1065.7,2455 1063.7,2457.5 1055.3,2460" fill="none" stroke="#555" stroke-width="1.2" stroke-linejoin="round"/>
<polyline points="1038,2460 1048.4,2462.5 1040.6,2465 1044.3,2467.5 1052.2,2470 1060.3,2472.5 1056.5,2475 1055.7,2477.5 1042.9,2480 1046.2,2482.5 1046.8,2485 1059.9,2487.5 1060,2490 1065.7,2492.5 1060.9,2495 1051.7,2497.5 1063.8,2500 1070.5,2502.5 1063.2,2505 1051.7,2507.5 1055.9,2510 1058.2,2512.5 1066.9,2515 1067.8,2517.5 1066.2,2520 1067.3,2522.5 1063,2525 1052.1,2527.5 1046.1,2530 1065.5,2532.5 1074.7,2535 1066.4,2537.5 1077,2540 1074,2542.5 1061.6,2545 1073.9,2547.5 1074.4,2550 1084,2552.5 1083.3,2555" fill="none" stroke="#777" stroke-width="1.2" stroke-linejoin="round"/>
<path d="M1030 2296 Q1033.9 2250.3 1019.2 2223.2" fill="none" stroke="#e8202a" stroke-width="2"/>
<polygon points="1012,2210 1025.1,2220 1013.2,2226.4" fill="#e8202a"/>
<path d="M1014 2314 Q1023 2307 1020.2 2309.2" fill="none" stroke="#2a9fe0" stroke-width="2"/>
<polygon points="1032,2300 1024.3,2314.5 1016,2303.9" fill="#2a9fe0"/>
<path d="M1050 2410 Q1048.2 2361.5 1028.7 2334.2" fill="none" stroke="#e8202a" stroke-width="2"/>
<polygon points="1020,2322 1034.2,2330.3 1023.2,2338.1" fill="#e8202a"/>
<path d="M1030 2450 Q1039 2435 1040.3 2432.9" fill="none" stroke="#2a9fe0" stroke-width="2"/>
<polygon points="1048,2420 1046.1,2436.3 1034.5,2429.4" fill="#2a9fe0"/>
<polyline points="986,2348 1133,2348" fill="none" stroke="#c8c820" stroke-width="2.5" stroke-dasharray="12 8"/>
<rect x="903" y="1820" width="30" height="16" fill="url(#pcg)"/>
<rect x="903" y="1836" width="30" height="7" fill="url(#pfs)"/>
<rect x="903" y="1843" width="30" height="16" fill="#3b3a34"/>
<rect x="903" y="1859" width="30" height="61" fill="url(#pcg)"/>
<rect x="903" y="1920" width="30" height="107" fill="url(#pfs)"/>
<rect x="903" y="2027" width="30" height="29" fill="url(#pcs)"/>
<rect x="903" y="2056" width="30" height="58" fill="url(#pfs)"/>
<rect x="903" y="2114" width="30" height="14" fill="url(#pcg)"/>
<rect x="903" y="2128" width="30" height="12" fill="url(#pfs)"/>
<rect x="903" y="2140" width="30" height="66" fill="url(#pcl)"/>
<rect x="903" y="2206" width="30" height="26" fill="url(#psc)"/>
<rect x="903" y="2232" width="30" height="217" fill="url(#pcl)"/>
<rect x="903" y="2449" width="30" height="127" fill="#f49ab3"/>
<polyline points="933,1820 933,2576" fill="none" stroke="#111" stroke-width="2"/>
<polyline points="903,1820 933,1820" fill="none" stroke="#111" stroke-width="1.2"/>
<polygon points="939,1820 993,1820 966,1858" fill="#c49a6c" stroke="#111" stroke-width="1.5" stroke-linejoin="round"/>
<polygon points="939,1861 993,1861 966,1993" fill="#fff200" stroke="#111" stroke-width="1.5" stroke-linejoin="round"/>
<polygon points="966,1993 993,2027 939,2027" fill="#fff200" stroke="#111" stroke-width="1.5" stroke-linejoin="round"/>
<polygon points="939,2027 993,2027 966,2111" fill="#f2f5d0" stroke="#111" stroke-width="1.5" stroke-linejoin="round"/>
<polygon points="966,2111 993,2115 939,2115" fill="#f2f5d0" stroke="#111" stroke-width="1.5" stroke-linejoin="round"/>
<polygon points="939,2115 993,2115 966,2176" fill="#f4f59a" stroke="#111" stroke-width="1.5" stroke-linejoin="round"/>
<polygon points="966,2176 993,2205 939,2205" fill="#f4f59a" stroke="#111" stroke-width="1.5" stroke-linejoin="round"/>
<polygon points="939,2205 993,2205 966,2302" fill="#3bf51f" stroke="#111" stroke-width="1.5" stroke-linejoin="round"/>
<polygon points="966,2302 974.1,2314 957.9,2314" fill="#3bf51f" stroke="#111" stroke-width="1.5" stroke-linejoin="round"/>
<polygon points="939,2314 993,2314 966,2432" fill="#5cb80f" stroke="#111" stroke-width="1.5" stroke-linejoin="round"/>
<polygon points="966,2432 993,2449 939,2449" fill="#5cb80f" stroke="#111" stroke-width="1.5" stroke-linejoin="round"/>
<polygon points="1067.1,2089.4 1076.9,2106.9 1096.7,2103.9 1083.1,2118.6 1092.1,2136.5 1073.9,2128 1059.7,2142.2 1062.1,2122.3 1044.3,2113.1 1063.9,2109.2" fill="#f2f5d0" stroke="#111" stroke-width="2" stroke-linejoin="miter"/>
<path d="M938 1898 Q935 1879.2 932.9 1875.8" fill="none" stroke="#e8202a" stroke-width="2"/>
<polygon points="925,1863 938.6,1872.2 927.1,1879.3" fill="#e8202a"/>
<path d="M940 2064 Q936.9 2045.7 935 2042.7" fill="none" stroke="#e8202a" stroke-width="2"/>
<polygon points="927,2030 940.7,2039.1 929.3,2046.3" fill="#e8202a"/>
<path d="M938 2152 Q934.9 2133.7 933 2130.7" fill="none" stroke="#e8202a" stroke-width="2"/>
<polygon points="925,2118 938.7,2127.1 927.3,2134.3" fill="#e8202a"/>
<text x="831" y="1838" font-size="47">S7</text>
<text x="831" y="1915" font-size="47">S6</text>
<text x="804" y="2074" font-size="47">S5b</text>
<text x="804" y="2160" font-size="47">S5a</text>
<text x="819" y="2255" font-size="47">S4</text>
<text x="819" y="2363" font-size="47">S3</text>
<rect x="896" y="1644" width="6" height="932" fill="#222"/>
<rect x="899" y="1644" width="151" height="58" fill="#000"/>
<text x="977" y="1689.3" font-size="45.5" font-weight="bold" text-anchor="middle" fill="#fff">FA-1</text>
<polyline points="899,1773 964,1726 1116,1726" fill="none" stroke="#111" stroke-width="4"/>
<polyline points="899,2234 944,2157 1181,2157" fill="none" stroke="#111" stroke-width="4"/>
<polyline points="897,2295 944,2255 1181,2255" fill="none" stroke="#111" stroke-width="4"/>
<polyline points="897,2346 947,2365 1181,2365" fill="none" stroke="#111" stroke-width="4"/>
<polyline points="897,2367 950,2493 1174,2493" fill="none" stroke="#111" stroke-width="4"/>
<rect x="888.5" y="1763.5" width="19" height="19" fill="#fff" stroke="#111" stroke-width="2.5"/>
<rect x="888.5" y="2224.5" width="19" height="19" fill="#fff" stroke="#111" stroke-width="2.5"/>
<rect x="888.5" y="2285.5" width="19" height="19" fill="#fff" stroke="#111" stroke-width="2.5"/>
<rect x="888.5" y="2336.5" width="19" height="19" fill="#fff" stroke="#111" stroke-width="2.5"/>
<rect x="888.5" y="2357.5" width="19" height="19" fill="#fff" stroke="#111" stroke-width="2.5"/>
<rect x="1116" y="1633" width="359" height="145" fill="#c66f47" stroke="#111" stroke-width="3" rx="7"/>
<text x="1129" y="1671" font-size="36.3" font-weight="bold" fill="#000">+395 m</text>
<text x="1129" y="1715" font-size="36.3" font-weight="bold" fill="#000">MN9: 11.2-9.5 Ma</text>
<text x="1129" y="1759" font-size="36.3" fill="#000">At J8*, 11 km to NW</text>
<rect x="1181" y="2089" width="231" height="94" fill="#68cbe2" stroke="#111" stroke-width="3" rx="7"/>
<text x="1190" y="2125" font-size="36.3" font-weight="bold" fill="#000">-7 m</text>
<text x="1190" y="2168.5" font-size="36.3" font-weight="bold" fill="#000">Eoc.-11.9 Ma</text>
<rect x="1181" y="2205" width="231" height="101" fill="#68cbe2" stroke="#111" stroke-width="3" rx="7"/>
<text x="1190" y="2245" font-size="36.3" font-weight="bold" fill="#000">-60 m</text>
<text x="1190" y="2289" font-size="36.3" font-weight="bold" fill="#000">Eoc.-11.9 Ma</text>
<rect x="1181" y="2324" width="231" height="103" fill="#68cbe2" stroke="#111" stroke-width="3" rx="7"/>
<text x="1190" y="2365" font-size="36.3" font-weight="bold" fill="#000">-101 m</text>
<text x="1190" y="2409" font-size="36.3" font-weight="bold" fill="#000">Eoc.-11.9 Ma</text>
<rect x="1181" y="2442" width="231" height="95" fill="#68cbe2" stroke="#111" stroke-width="3" rx="7"/>
<text x="1194" y="2478" font-size="36.3" font-weight="bold" fill="#000">-116 m</text>
<text x="1194" y="2522" font-size="36.3" font-weight="bold" fill="#000">18-13.5 Ma</text>
<polyline points="2108,1811 2108,2238" fill="none" stroke="#333" stroke-width="1.3"/>
<polyline points="2132,1811 2132,2238" fill="none" stroke="#333" stroke-width="1.3"/>
<polyline points="2156,1811 2156,2238" fill="none" stroke="#333" stroke-width="1.3"/>
<polyline points="2180,1811 2180,2238" fill="none" stroke="#333" stroke-width="1.3"/>
<polyline points="2204,1811 2204,2238" fill="none" stroke="#333" stroke-width="1.3"/>
<polyline points="2228,1811 2228,2238" fill="none" stroke="#333" stroke-width="1.3"/>
<polyline points="2108,1811 2228,1811" fill="none" stroke="#333" stroke-width="1"/>
<text x="2140" y="1762" font-size="32" font-weight="bold">SP</text>
<text x="2186" y="1757" font-size="24">(mV)</text>
<text transform="translate(2132 1799) scale(0.72 1)" font-size="30" font-weight="bold" text-anchor="middle" fill="#111">-30</text>
<text transform="translate(2202 1799) scale(0.72 1)" font-size="30" font-weight="bold" text-anchor="middle" fill="#111">+30</text>
<polyline points="2106,1879 2215,1879" fill="none" stroke="#e07020" stroke-width="1.5" stroke-dasharray="22 14"/>
<polyline points="2106,1927 2275,1927" fill="none" stroke="#2e7fc0" stroke-width="1.5" stroke-dasharray="22 14"/>
<polyline points="2106,1990 2275,1990" fill="none" stroke="#2e7fc0" stroke-width="1.5" stroke-dasharray="22 14"/>
<polyline points="2106,2169 2275,2169" fill="none" stroke="#2e7fc0" stroke-width="1.5" stroke-dasharray="22 14"/>
<polyline points="2223.5,1850 2218.1,1853 2210.5,1856 2207.4,1859 2199.7,1862 2194.5,1865 2191.2,1868 2183.7,1871 2180.1,1874 2174.2,1877 2167.2,1880" fill="none" stroke="#7fc8d8" stroke-width="1.2" stroke-linejoin="round"/>
<polyline points="2183.4,1880 2178.2,1883 2179.6,1886 2178.4,1889 2180.8,1892 2178,1895 2179.8,1898 2175.2,1901 2178.1,1904 2175.4,1907 2171.9,1910 2170.7,1913 2171.7,1916 2167.8,1919 2167.7,1922 2164.7,1925 2163,1928 2162.5,1931 2162.3,1934 2162.3,1937 2165.6,1940 2164.7,1943 2167.1,1946 2168.6,1949 2169.1,1952 2169.6,1955 2166.9,1958 2165.8,1961 2166.3,1964 2163.9,1967 2159.3,1970 2159,1973 2158.6,1976 2155.6,1979 2152.9,1982 2151.7,1985 2188.2,1988 2189.3,1991 2188.3,1994 2185.3,1997 2179.9,2000 2175.9,2003 2177.5,2006 2176.9,2009 2175.3,2012 2171.6,2015 2168.4,2018 2166.2,2021 2163.9,2024 2165.2,2027 2163.2,2030 2163.1,2033 2161.5,2036 2160.7,2039 2161,2042 2160.7,2045 2155.4,2048 2157.3,2051 2157,2054 2156,2057 2152,2060 2152.6,2063 2151.2,2066 2145.6,2069 2144.8,2072 2144.8,2075 2143.5,2078 2143,2081 2139.4,2084 2137.6,2087 2131.6,2090 2131.5,2093 2141.7,2096 2144.7,2099 2147.9,2102 2146.2,2105 2143.3,2108 2141.5,2111 2144.1,2114 2143.3,2117 2147.3,2120 2148.9,2123 2149.4,2126 2151.2,2129 2148.7,2132 2149.7,2135 2147.6,2138 2150.1,2141 2153.6,2144 2151.4,2147 2154,2150 2158,2153 2155.8,2156 2153.8,2159 2153.1,2162 2156.9,2165 2154,2168 2157.3,2171 2155.7,2174 2158.4,2177 2161,2180 2162.3,2183 2158.4,2186 2158.6,2189 2157.1,2192 2160.1,2195 2157.7,2198 2155.3,2201 2155.5,2204 2153.2,2207 2152.7,2210 2155.7,2213 2154.6,2216 2152.8,2219 2156.9,2222 2154.4,2225 2156.5,2228 2156.7,2231 2155.7,2234 2155.6,2237" fill="none" stroke="#7fcfc8" stroke-width="1.2" stroke-linejoin="round"/>
<text x="2092" y="1886" font-size="20" font-weight="bold" text-anchor="middle">?</text>
<path d="M2132 1924 Q2122.4 1901.6 2113.8 1897.9" fill="none" stroke="#e8202a" stroke-width="2"/>
<polygon points="2100,1892 2116.4,1891.7 2111.1,1904.1" fill="#e8202a"/>
<path d="M2118 1936 Q2133 1933 2133.3 1932.9" fill="none" stroke="#2a9fe0" stroke-width="2"/>
<polygon points="2148,1930 2134.6,1939.6 2132,1926.3" fill="#2a9fe0"/>
<path d="M2146 1982 Q2130.2 1954.8 2114.4 1950.2" fill="none" stroke="#e8202a" stroke-width="2"/>
<polygon points="2100,1946 2116.3,1943.7 2112.5,1956.7" fill="#e8202a"/>
<path d="M2110 1998 Q2123 1995.5 2121.3 1995.8" fill="none" stroke="#2a9fe0" stroke-width="2"/>
<polygon points="2136,1993 2122.5,2002.5 2120,1989.2" fill="#2a9fe0"/>
<path d="M2132 2050 Q2121.1 2023.6 2108.7 2018.1" fill="none" stroke="#e8202a" stroke-width="2"/>
<polygon points="2095,2012 2111.4,2011.9 2106,2024.3" fill="#e8202a"/>
<path d="M2128 2062 Q2137 2059 2131.8 2060.7" fill="none" stroke="#2a9fe0" stroke-width="2"/>
<polygon points="2146,2056 2133.9,2067.1 2129.6,2054.3" fill="#2a9fe0"/>
<path d="M2146 2160 Q2147.5 2116.8 2132.8 2092.8" fill="none" stroke="#e8202a" stroke-width="2"/>
<polygon points="2125,2080 2138.6,2089.3 2127.1,2096.3" fill="#e8202a"/>
<path d="M2140 2194 Q2146 2184 2144.3 2186.9" fill="none" stroke="#2a9fe0" stroke-width="2"/>
<polygon points="2152,2174 2150.1,2190.3 2138.5,2183.4" fill="#2a9fe0"/>
<path d="M2150 2224 Q2142 2215 2144 2217.2" fill="none" stroke="#e8202a" stroke-width="2"/>
<polygon points="2134,2206 2149,2212.7 2138.9,2221.7" fill="#e8202a"/>
<path d="M2136 2232 Q2144 2232 2137 2232" fill="none" stroke="#2a9fe0" stroke-width="2"/>
<polygon points="2152,2232 2137,2238.8 2137,2225.2" fill="#2a9fe0"/>
<rect x="2285" y="1809" width="30" height="52" fill="url(#pq)"/>
<rect x="2285" y="1861" width="30" height="25" fill="url(#pcg)"/>
<rect x="2285" y="1886" width="30" height="14" fill="url(#pcl)"/>
<rect x="2285" y="1900" width="30" height="6" fill="url(#psc)"/>
<rect x="2285" y="1906" width="30" height="26" fill="url(#pcl)"/>
<rect x="2285" y="1932" width="30" height="5" fill="url(#pcg)"/>
<rect x="2285" y="1937" width="30" height="8" fill="url(#pcl)"/>
<rect x="2285" y="1945" width="30" height="5" fill="url(#pcg)"/>
<rect x="2285" y="1950" width="30" height="14" fill="url(#pcl)"/>
<rect x="2285" y="1964" width="30" height="6" fill="url(#pcg)"/>
<rect x="2285" y="1970" width="30" height="33" fill="url(#pcl)"/>
<rect x="2285" y="2003" width="30" height="22" fill="url(#pcg)"/>
<rect x="2285" y="2025" width="30" height="33" fill="url(#psc)"/>
<rect x="2285" y="2058" width="30" height="28" fill="url(#pcl)"/>
<rect x="2285" y="2086" width="30" height="82" fill="url(#psc)"/>
<rect x="2285" y="2168" width="30" height="51" fill="url(#pcl)"/>
<rect x="2285" y="2219" width="30" height="19" fill="#3b3a34"/>
<rect x="2285" y="2238" width="30" height="338" fill="#12bff0"/>
<polyline points="2315,1809 2315,2576" fill="none" stroke="#111" stroke-width="2"/>
<polyline points="2285,1809 2315,1809" fill="none" stroke="#111" stroke-width="1.2"/>
<rect x="2218" y="1870" width="57" height="4" fill="#fff200" stroke="#111" stroke-width="1.5"/>
<polygon points="2218,1878 2276,1878 2247,1926" fill="#fff200" stroke="#111" stroke-width="1.5" stroke-linejoin="round"/>
<polygon points="2247,1926 2276,1932 2218,1932" fill="#fff200" stroke="#111" stroke-width="1.5" stroke-linejoin="round"/>
<polygon points="2218,1932 2276,1932 2247,1986" fill="#f2f5d0" stroke="#111" stroke-width="1.5" stroke-linejoin="round" stroke-dasharray="9 6"/>
<polygon points="2247,1986 2276,2003 2218,2003" fill="#f2f5d0" stroke="#111" stroke-width="1.5" stroke-linejoin="round" stroke-dasharray="9 6"/>
<polygon points="2218,2003 2276,2003 2247,2042" fill="#f4f59a" stroke="#111" stroke-width="1.5" stroke-linejoin="round" stroke-dasharray="9 6"/>
<polygon points="2247,2042 2276,2061 2218,2061" fill="#f4f59a" stroke="#111" stroke-width="1.5" stroke-linejoin="round"/>
<polygon points="2218,2061 2276,2061 2247,2170" fill="#3bf51f" stroke="#111" stroke-width="1.5" stroke-linejoin="round"/>
<polygon points="2247,2170 2276,2201 2218,2201" fill="#3bf51f" stroke="#111" stroke-width="1.5" stroke-linejoin="round"/>
<polygon points="2218,2201 2276,2201 2247,2231" fill="#5cb80f" stroke="#111" stroke-width="1.5" stroke-linejoin="round"/>
<polygon points="2247,2231 2276,2238 2218,2238" fill="#5cb80f" stroke="#111" stroke-width="1.5" stroke-linejoin="round"/>
<text x="2335" y="1900" font-size="47">S6</text>
<text x="2326" y="1983" font-size="47">S5b</text>
<text x="2326" y="2044" font-size="47">S5a</text>
<text x="2342" y="2105" font-size="47">S4</text>
<text x="2342" y="2228" font-size="47">S3</text>
<rect x="2279" y="1644" width="6" height="932" fill="#222"/>
<rect x="2282" y="1644" width="151" height="58" fill="#000"/>
<text x="2357.5" y="1689.3" font-size="45.5" font-weight="bold" text-anchor="middle" fill="#fff">BR-1</text>
<text x="2641" y="1929" font-size="46" font-weight="bold" text-anchor="middle">?</text>
<text x="2107" y="2414" font-size="56" font-weight="bold" text-anchor="middle">Montmiral</text>
<text x="1946" y="2493" font-size="56" font-weight="bold">high</text>
<text x="2084" y="2493" font-size="48">(Fig. 9C)</text>
<polyline points="2471,2346 2743,2570" fill="none" stroke="#111" stroke-width="9" stroke-dasharray="22 14"/>
<circle cx="2633" cy="2469" r="53" fill="#fbb040" stroke="#111" stroke-width="5"/>
<text x="2633" y="2499" font-size="76" text-anchor="middle">5?</text>
<polyline points="2953,1668 2953,2028" fill="none" stroke="#333" stroke-width="1.3"/>
<polyline points="2990,1668 2990,2028" fill="none" stroke="#333" stroke-width="1.3"/>
<polyline points="3029,1668 3029,2028" fill="none" stroke="#333" stroke-width="2.2"/>
<polyline points="3068,1668 3068,2028" fill="none" stroke="#333" stroke-width="1.3"/>
<polyline points="2953,1668 3094,1668" fill="none" stroke="#333" stroke-width="1.3"/>
<polyline points="3029,2028 3029,2130" fill="none" stroke="#999" stroke-width="2"/>
<text x="2890" y="1614" font-size="32" font-weight="bold">GR</text>
<text x="2950" y="1612" font-size="24">(µg Ra<tspan dy="-11" font-size="16">-1</tspan><tspan dy="11">)</tspan></text>
<text transform="translate(2953 1646) scale(0.72 1)" font-size="30" font-weight="bold" text-anchor="middle" fill="#111">0</text>
<text transform="translate(2990 1646) scale(0.72 1)" font-size="30" font-weight="bold" text-anchor="middle" fill="#111">1.5</text>
<text transform="translate(3029 1646) scale(0.72 1)" font-size="30" font-weight="bold" text-anchor="middle" fill="#111">3</text>
<text transform="translate(3065 1646) scale(0.72 1)" font-size="30" font-weight="bold" text-anchor="middle" fill="#111">4.5</text>
<polyline points="2950,1746 3094,1746" fill="none" stroke="#2e7fc0" stroke-width="1.5" stroke-dasharray="22 14"/>
<polyline points="2950,1901 3094,1901" fill="none" stroke="#2e7fc0" stroke-width="1.5" stroke-dasharray="22 14"/>
<polyline points="2950,1943 3094,1943" fill="none" stroke="#2e7fc0" stroke-width="1.5" stroke-dasharray="22 14"/>
<polyline points="2950,2021 3094,2021" fill="none" stroke="#2e7fc0" stroke-width="1.5" stroke-dasharray="22 14"/>
<polyline points="3000,1672 3000.8,1674.5 3003.6,1677 3001.1,1679.5 2999.8,1682 3002.4,1684.5 3002.2,1687 3001.2,1689.5 3001.1,1692 3000.5,1694.5 2998.8,1697 3002,1699.5 3006.3,1702 3007.2,1704.5 3007.4,1707 3005.1,1709.5 3004.6,1712 3002,1714.5 3005.6,1717 3004.1,1719.5 3003.3,1722 3008.9,1724.5 3006.9,1727 3011.3,1729.5 3010.9,1732 3012.1,1734.5 3011.8,1737 3007.8,1739.5 3010.2,1742 3007.8,1744.5 3007.8,1747 3005.5,1749.5 3003.6,1752 3005.3,1754.5 3003.4,1757 3005.5,1759.5 3011,1762 3015.6,1764.5 3013.6,1767 3009.8,1769.5 3009.7,1772 3007.3,1774.5 3007.3,1777 3010.9,1779.5 3013.2,1782 3009.6,1784.5 3011.5,1787 3012.2,1789.5 3012.6,1792 3010.6,1794.5 3011.8,1797 3010.1,1799.5 3014.3,1802 3016.6,1804.5 3017.9,1807 3016.9,1809.5 3021.2,1812 3018.8,1814.5 3016.1,1817 3016,1819.5 3020.8,1822 3017.2,1824.5 3020.5,1827 3024,1829.5 3025.5,1832 3023.2,1834.5 3021.8,1837 3024.8,1839.5 3025.3,1842 3026.5,1844.5 3022,1847 3023.1,1849.5 3025,1852 3021.9,1854.5 3019.9,1857 3024.4,1859.5 3024.8,1862 3023.8,1864.5 3024,1867 3022.2,1869.5 3021.2,1872 3019.5,1874.5 3021.2,1877 3020.1,1879.5 3026,1882 3030.2,1884.5 3029.7,1887 3025.2,1889.5 3027,1892 3024.4,1894.5 3024.8,1897 3023.1,1899.5 3025.4,1902 3023.2,1904.5 3023.8,1907 3023.9,1909.5 3026.1,1912 3031.5,1914.5" fill="none" stroke="#444" stroke-width="1.2" stroke-linejoin="round"/>
<polyline points="3052.4,1915 3043.8,1917.5 3052.4,1920 3044.9,1922.5 3044.3,1925 3051.5,1927.5 3046.4,1930 3046,1932.5 3039.7,1935 3049.8,1937.5 3056.3,1940 3046.1,1942.5 3039.1,1945 3041,1947.5 3042.9,1950 3048.5,1952.5 3044.4,1955 3046.2,1957.5 3039.8,1960 3036.9,1962.5 3032.9,1965 3038.5,1967.5 3042.2,1970 3045.3,1972.5 3052.7,1975 3046.3,1977.5 3043.1,1980 3043.2,1982.5 3051.6,1985 3045.6,1987.5 3041.8,1990 3041.8,1992.5 3046.4,1995 3042,1997.5 3037.6,2000 3044.5,2002.5 3046,2005 3047,2007.5 3037.8,2010 3036.3,2012.5 3032.9,2015 3035.4,2017.5 3046.3,2020 3054.2,2022.5 3056.5,2025 3049.7,2027.5 3048.9,2030" fill="none" stroke="#444" stroke-width="1.2" stroke-linejoin="round"/>
<polyline points="3068.9,2030 3066.6,2032.5 3078.2,2035 3077.1,2037.5 3068.8,2040 3077.6,2042.5 3069.7,2045 3067.7,2047.5 3064.1,2050 3073.2,2052.5 3082.9,2055 3084.1,2057.5 3076.7,2060 3084.7,2062.5 3089.6,2065 3081.3,2067.5 3074.7,2070 3078.3,2072.5 3086,2075 3088.8,2077.5 3089.2,2080 3085.6,2082.5 3073,2085 3072.7,2087.5 3068.2,2090 3069.2,2092.5 3066.4,2095 3058.6,2097.5 3067.5,2100 3055.3,2102.5 3053.9,2105 3052.8,2107.5 3064.9,2110 3055.2,2112.5 3058.8,2115 3068.6,2117.5 3068,2120 3074.5,2122.5 3068.1,2125 3065.6,2127.5 3063.3,2130 3062.4,2132.5 3062.1,2135" fill="none" stroke="#666" stroke-width="1.2" stroke-linejoin="round"/>
<path d="M2996 1742 Q2997.8 1712.2 2992.9 1698.2" fill="none" stroke="#e8202a" stroke-width="2"/>
<polygon points="2988,1684 2999.3,1696 2986.5,1700.4" fill="#e8202a"/>
<path d="M2990 1747 Q3000 1744 2995.6 1745.3" fill="none" stroke="#2a9fe0" stroke-width="2"/>
<polygon points="3010,1741 2997.6,1751.8 2993.7,1738.8" fill="#2a9fe0"/>
<path d="M3014 1896 Q3017.1 1825.9 2994.2 1775.7" fill="none" stroke="#e8202a" stroke-width="2"/>
<polygon points="2988,1762 3000.4,1772.9 2988.1,1778.4" fill="#e8202a"/>
<path d="M3002 1906 Q3010 1903 3004 1905.3" fill="none" stroke="#2a9fe0" stroke-width="2"/>
<polygon points="3018,1900 3006.3,1911.6 3001.6,1898.9" fill="#2a9fe0"/>
<path d="M3036 1940 Q3031 1930 3032.7 1933.4" fill="none" stroke="#e8202a" stroke-width="2"/>
<polygon points="3026,1920 3038.7,1930.4 3026.7,1936.4" fill="#e8202a"/>
<path d="M3024 1968 Q3032 1958 3030.6 1959.7" fill="none" stroke="#2a9fe0" stroke-width="2"/>
<polygon points="3040,1948 3035.9,1963.9 3025.4,1955.5" fill="#2a9fe0"/>
<path d="M3030 2028 Q3037 2025 3030.2 2027.9" fill="none" stroke="#2a9fe0" stroke-width="2"/>
<polygon points="3044,2022 3032.9,2034.1 3027.6,2021.7" fill="#2a9fe0"/>
<rect x="3100" y="1668" width="27" height="9" fill="url(#pq)"/>
<rect x="3100" y="1677" width="27" height="58" fill="url(#pcl)"/>
<rect x="3100" y="1735" width="27" height="48" fill="url(#psc)"/>
<rect x="3100" y="1783" width="27" height="34" fill="url(#pcl)"/>
<rect x="3100" y="1817" width="27" height="11" fill="url(#psc)"/>
<rect x="3100" y="1828" width="27" height="20" fill="url(#pcl)"/>
<rect x="3100" y="1848" width="27" height="24" fill="url(#psc)"/>
<rect x="3100" y="1872" width="27" height="40" fill="url(#pcl)"/>
<rect x="3100" y="1912" width="27" height="4" fill="url(#pcs)"/>
<rect x="3100" y="1916" width="27" height="37" fill="url(#pcl)"/>
<rect x="3100" y="1953" width="27" height="3" fill="url(#pcs)"/>
<rect x="3100" y="1956" width="27" height="11" fill="url(#pcl)"/>
<rect x="3100" y="1967" width="27" height="3" fill="url(#pcs)"/>
<rect x="3100" y="1970" width="27" height="61" fill="url(#pcl)"/>
<rect x="3100" y="2031" width="27" height="452" fill="#f49ab3"/>
<rect x="3100" y="2483" width="27" height="68" fill="#52a846"/>
<polyline points="3127,1668 3127,2551" fill="none" stroke="#111" stroke-width="2"/>
<polyline points="3100,1668 3127,1668" fill="none" stroke="#111" stroke-width="1.2"/>
<text transform="translate(3124 2338) rotate(-90)" font-size="32" font-weight="bold" fill="#111">393 m</text>
<polygon points="3144.7,1680 3165.3,1680 3155,1745" fill="#3bf51f" stroke="#111" stroke-width="1.5" stroke-linejoin="round"/>
<polygon points="3155,1745 3178,1749 3132,1749" fill="#3bf51f" stroke="#111" stroke-width="1.5" stroke-linejoin="round"/>
<polygon points="3134.3,1749 3175.7,1749 3155,1900" fill="#5cb80f" stroke="#111" stroke-width="1.5" stroke-linejoin="round"/>
<polygon points="3155,1900 3178,1916 3132,1916" fill="#5cb80f" stroke="#111" stroke-width="1.5" stroke-linejoin="round"/>
<polygon points="3132,1916 3178,1916 3155,1946" fill="#a5e8e8" stroke="#111" stroke-width="1.5" stroke-linejoin="round"/>
<polygon points="3155,1946 3178,1974 3132,1974" fill="#a5e8e8" stroke="#111" stroke-width="1.5" stroke-linejoin="round"/>
<polygon points="3132,1974 3178,1974 3155,2023" fill="#2f9bee" stroke="#111" stroke-width="1.5" stroke-linejoin="round"/>
<polygon points="3155,2023 3178,2031 3132,2031" fill="#2f9bee" stroke="#111" stroke-width="1.5" stroke-linejoin="round"/>
<text x="3180" y="1965" font-size="38">S2b?</text>
<text x="3180" y="2011" font-size="38">S2a?</text>
<rect x="3091" y="1510" width="6" height="1041" fill="#222"/>
<rect x="3094" y="1509" width="150" height="58" fill="#000"/>
<text x="3169" y="1554.3" font-size="45.5" font-weight="bold" text-anchor="middle" fill="#fff">VAF-2</text>
<polyline points="3100,1632 3201,1623" fill="none" stroke="#111" stroke-width="4"/>
<rect x="3088.5" y="1622.5" width="19" height="19" fill="#fff" stroke="#111" stroke-width="2.5"/>
<rect x="3201" y="1620" width="390" height="142" fill="#fcec2e" stroke="#111" stroke-width="3" rx="7"/>
<text x="3214" y="1656" font-size="36.3" font-weight="bold" fill="#000">+530 m</text>
<text x="3214" y="1700.5" font-size="36.3" font-weight="bold" fill="#000">Str: 15.43 +/- 0.28 Ma</text>
<text x="3214" y="1745" font-size="36.3" fill="#000">At 30*, 700 m to NW</text>
<polyline points="3737,1818 3737,2446" fill="none" stroke="#333" stroke-width="1.3"/>
<polyline points="3766,1818 3766,2446" fill="none" stroke="#333" stroke-width="1.3"/>
<polyline points="3794,1818 3794,2446" fill="none" stroke="#333" stroke-width="1.3"/>
<polyline points="3823,1818 3823,2446" fill="none" stroke="#333" stroke-width="1.3"/>
<polyline points="3851,1818 3851,2446" fill="none" stroke="#333" stroke-width="1.3"/>
<polyline points="3880,1818 3880,2446" fill="none" stroke="#333" stroke-width="2.2"/>
<polyline points="3941,1818 3941,2446" fill="none" stroke="#333" stroke-width="1.3"/>
<polyline points="3880,1806 3880,1818" fill="none" stroke="#222" stroke-width="2.2"/>
<polyline points="4001,1838 4001,2346" fill="none" stroke="#bbb" stroke-width="1"/>
<text x="3755" y="1774" font-size="32" font-weight="bold">SP</text>
<text x="3803" y="1772" font-size="24">(mV)</text>
<text x="3942" y="1738" font-size="32" font-weight="bold" text-anchor="middle">GR</text>
<text x="3942" y="1772" font-size="24" text-anchor="middle">(µg Ra<tspan dy="-10" font-size="15">-1</tspan><tspan dy="10">)</tspan></text>
<text transform="translate(3766 1811) scale(0.72 1)" font-size="30" font-weight="bold" text-anchor="middle" fill="#111">-30</text>
<text transform="translate(3850 1811) scale(0.72 1)" font-size="30" font-weight="bold" text-anchor="middle" fill="#111">+30</text>
<text transform="translate(3888 1811) scale(0.72 1)" font-size="30" font-weight="bold" text-anchor="middle" fill="#111">0</text>
<text transform="translate(3990 1811) scale(0.72 1)" font-size="30" font-weight="bold" text-anchor="middle" fill="#111">10</text>
<polyline points="3608,1973 4001,1973" fill="none" stroke="#2e7fc0" stroke-width="1.5" stroke-dasharray="22 14"/>
<polyline points="3608,2197 4001,2197" fill="none" stroke="#2e7fc0" stroke-width="1.5" stroke-dasharray="22 14"/>
<polyline points="3608,2265 4001,2265" fill="none" stroke="#2e7fc0" stroke-width="1.5" stroke-dasharray="22 14"/>
<polyline points="3608,2329 4001,2329" fill="none" stroke="#2e7fc0" stroke-width="1.5" stroke-dasharray="22 14"/>
<polyline points="3923.7,1840 3925.4,1842.5 3922,1845 3927.2,1847.5 3929.2,1850 3931.8,1852.5 3928.2,1855 3925.6,1857.5 3923.2,1860 3922.8,1862.5 3921.5,1865 3925.6,1867.5 3925.8,1870 3929.3,1872.5 3931.1,1875 3929.3,1877.5 3927,1880 3927.1,1882.5 3924.9,1885 3928.2,1887.5 3926.9,1890 3926,1892.5 3930.9,1895 3930.6,1897.5 3934.3,1900 3936.8,1902.5 3936.2,1905 3932.9,1907.5 3930.3,1910 3929.6,1912.5 3932.8,1915 3933.2,1917.5 3932,1920 3929.3,1922.5 3930.3,1925 3931.2,1927.5 3929.6,1930 3930,1932.5 3930.7,1935 3932.1,1937.5 3933.6,1940 3935.1,1942.5 3938.1,1945 3936.1,1947.5 3933.5,1950 3933.6,1952.5 3933.1,1955 3935.5,1957.5 3936.3,1960 3935.8,1962.5 3934,1965 3937.7,1967.5 3939.2,1970 3940.1,1972.5 3941.4,1975 3943.3,1977.5 3938.7,1980 3937.1,1982.5 3938.3,1985 3940.8,1987.5 3941,1990 3941.2,1992.5 3940,1995 3939,1997.5 3943,2000 3946.3,2002.5 3944.9,2005 3943.9,2007.5 3941,2010 3942.7,2012.5 3941.1,2015 3943.2,2017.5 3942.1,2020 3942.8,2022.5 3946.3,2025 3944.5,2027.5 3945.1,2030" fill="none" stroke="#123" stroke-width="2.2" stroke-linejoin="round"/>
<polyline points="3939.5,2030 3943.4,2032.5 3951.1,2035 3947.5,2037.5 3948.2,2040 3946.6,2042.5 3950.5,2045 3952.4,2047.5 3952.6,2050 3957.7,2052.5 3957.5,2055 3952.8,2057.5 3950.7,2060 3952.8,2062.5 3955,2065 3950.4,2067.5 3955.3,2070 3953.7,2072.5 3957.1,2075 3950.4,2077.5 3949.5,2080 3945.1,2082.5 3947.7,2085 3947.2,2087.5 3948.2,2090 3947.2,2092.5 3954.8,2095 3956.6,2097.5 3954,2100 3954.4,2102.5 3950.6,2105 3958.1,2107.5 3962.1,2110 3960.1,2112.5 3953.5,2115 3959.9,2117.5 3954.1,2120 3948.4,2122.5 3949.6,2125 3949.8,2127.5 3955.9,2130 3950.3,2132.5 3945.8,2135 3947.8,2137.5 3943.8,2140 3949.2,2142.5 3950.1,2145 3955.5,2147.5 3959.3,2150 3952.4,2152.5 3955.2,2155 3953,2157.5 3957.4,2160 3948.5,2162.5 3947.9,2165 3954.1,2167.5 3945.6,2170 3943.6,2172.5 3942.2,2175 3941.9,2177.5 3949.7,2180 3943.7,2182.5 3948.2,2185 3943.4,2187.5 3948.2,2190 3941.5,2192.5 3936.7,2195 3945,2197.5 3937.3,2200 3940.6,2202.5 3936.7,2205 3939,2207.5 3936.9,2210 3939.4,2212.5 3941.4,2215 3943.5,2217.5 3936.4,2220 3941.1,2222.5 3936.2,2225 3937.7,2227.5" fill="none" stroke="#111" stroke-width="2.2" stroke-linejoin="round"/>
<polyline points="3937.8,2228 3938.7,2230.5 3939.9,2233 3939.5,2235.5 3940.6,2238 3940.2,2240.5 3940.3,2243 3937.2,2245.5 3934.4,2248 3934.2,2250.5 3939.3,2253 3934.8,2255.5 3935.4,2258 3936.5,2260.5 3938.4,2263 3938.4,2265.5 3942.6,2268 3946,2270.5 3944.3,2273 3939.6,2275.5 3943.5,2278 3945.7,2280.5 3943.1,2283 3944.8,2285.5 3946.8,2288 3948.6,2290.5 3942.4,2293 3938.6,2295.5 3942.2,2298 3939,2300.5 3937.1,2303 3933.7,2305.5 3938.9,2308 3936.7,2310.5 3934.7,2313 3938,2315.5 3934.6,2318 3939.6,2320.5 3935.6,2323 3942.1,2325.5 3937.5,2328 3934.9,2330.5 3936.6,2333 3940.6,2335.5 3940.2,2338 3942.2,2340.5 3938.7,2343" fill="none" stroke="#111" stroke-width="2" stroke-linejoin="round"/>
<polyline points="3971.2,2345 3967.2,2347.5 3957,2350 3950.3,2352.5 3948.9,2355 3957,2357.5 3962.2,2360 3954.5,2362.5 3950.7,2365 3947.9,2367.5 3953.6,2370 3948,2372.5 3941.6,2375 3940.3,2377.5 3930.2,2380 3932.2,2382.5 3926,2385 3933.5,2387.5 3930.7,2390 3937.1,2392.5 3931.1,2395 3924.1,2397.5 3931.7,2400 3933.4,2402.5 3918.6,2405 3926,2407.5 3927.5,2410 3928.9,2412.5 3922.7,2415 3921.3,2417.5 3919.3,2420 3910.7,2422.5 3899.5,2425 3903.6,2427.5 3909.8,2430 3898.2,2432.5 3900.6,2435 3897.9,2437.5 3893.8,2440" fill="none" stroke="#555" stroke-width="1.3" stroke-linejoin="round"/>
<polyline points="3915,1838 3960,1832 3982,1824 3976,1830" fill="none" stroke="#111" stroke-width="1.5"/>
<polyline points="3749.6,2112 3750.4,2114.5 3748.4,2117 3752.9,2119.5 3755.4,2122 3757.2,2124.5 3757.4,2127 3759.3,2129.5 3762.4,2132 3763.3,2134.5 3761.8,2137 3765.3,2139.5 3763.7,2142 3761.4,2144.5 3761.7,2147 3764.1,2149.5 3768.6,2152 3768,2154.5 3770.3,2157 3769.3,2159.5 3767.4,2162 3773.5,2164.5 3774.7,2167 3775.1,2169.5 3777.3,2172 3775.1,2174.5 3779.6,2177 3778.5,2179.5 3783.1,2182 3780.6,2184.5 3781.6,2187 3781.5,2189.5 3784.1,2192 3782.1,2194.5 3781.3,2197 3783.2,2199.5 3782.8,2202 3788.5,2204.5 3787.3,2207 3788.4,2209.5 3791,2212 3790.1,2214.5 3796,2217 3795.2,2219.5 3797.1,2222 3796.1,2224.5 3796.2,2227 3799.5,2229.5 3802.4,2232 3805.2,2234.5 3808.5,2237 3810.8,2239.5 3809,2242 3805.3,2244.5 3804.6,2247 3809.7,2249.5 3813.9,2252 3813.8,2254.5 3810.3,2257 3810.5,2259.5 3814.4,2262 3813.2,2264.5 3813.5,2267 3815.2,2269.5 3818.8,2272 3821.6,2274.5 3821.2,2277 3821.1,2279.5 3822.6,2282 3823.6,2284.5 3828.3,2287 3825.2,2289.5 3825.8,2292 3826.3,2294.5 3828.2,2297 3832.3,2299.5 3834.8,2302 3835.4,2304.5 3834.4,2307 3835.9,2309.5 3838.8,2312 3839.1,2314.5 3842.2,2317 3838.2,2319.5 3839.6,2322 3843.9,2324.5 3844.4,2327 3846.8,2329.5 3845.4,2332 3849.6,2334.5 3846.8,2337 3848,2339.5 3850.8,2342 3854.5,2344.5" fill="none" stroke="#7fcfc8" stroke-width="1.2" stroke-linejoin="round"/>
<polyline points="3853.9,2345 3858.2,2347.5 3854.3,2350 3852.8,2352.5 3853,2355 3851.5,2357.5 3851.2,2360 3855.7,2362.5 3855.3,2365 3851.6,2367.5 3856,2370 3853.2,2372.5 3856.4,2375 3852.1,2377.5 3854.6,2380 3855.5,2382.5 3856.3,2385 3859.9,2387.5 3860,2390 3856.6,2392.5 3855.6,2395 3851.6,2397.5 3854.1,2400 3853.6,2402.5 3850.7,2405 3853.6,2407.5 3856.4,2410 3852.3,2412.5 3855.2,2415 3856.7,2417.5 3852.6,2420 3855.5,2422.5 3851.9,2425 3849,2427.5 3854,2430 3857.9,2432.5 3856.7,2435 3860.1,2437.5 3858.9,2440" fill="none" stroke="#9ab" stroke-width="1.2" stroke-linejoin="round"/>
<path d="M3905 1966 Q3883.9 1914 3881 1873" fill="none" stroke="#e8202a" stroke-width="2"/>
<polygon points="3880,1858 3887.8,1872.5 3874.3,1873.4" fill="#e8202a"/>
<path d="M3893 2016 Q3899.5 1997.7 3903 1995" fill="none" stroke="#2a9fe0" stroke-width="2"/>
<polygon points="3915,1986 3907.1,2000.4 3899,1989.6" fill="#2a9fe0"/>
<path d="M3932 2138 Q3914.2 2090.6 3912.6 2055" fill="none" stroke="#e8202a" stroke-width="2"/>
<polygon points="3912,2040 3919.4,2054.7 3905.9,2055.3" fill="#e8202a"/>
<path d="M3938 2190 Q3929.4 2168 3921.6 2164.4" fill="none" stroke="#e8202a" stroke-width="2"/>
<polygon points="3908,2158 3924.4,2158.2 3918.7,2170.5" fill="#e8202a"/>
<path d="M3910 2222 Q3918.6 2205.8 3921.8 2204.7" fill="none" stroke="#2a9fe0" stroke-width="2"/>
<polygon points="3936,2200 3923.9,2211.1 3919.6,2198.3" fill="#2a9fe0"/>
<path d="M3768 2190 Q3758.4 2167.6 3749.8 2163.9" fill="none" stroke="#e8202a" stroke-width="2"/>
<polygon points="3736,2158 3752.4,2157.7 3747.1,2170.1" fill="#e8202a"/>
<path d="M3770 2222 Q3777.6 2206.2 3780 2205.3" fill="none" stroke="#2a9fe0" stroke-width="2"/>
<polygon points="3794,2200 3782.4,2211.6 3777.6,2199" fill="#2a9fe0"/>
<path d="M3812 2262 Q3804.5 2241.6 3798.5 2238.6" fill="none" stroke="#e8202a" stroke-width="2"/>
<polygon points="3785,2232 3801.4,2232.6 3795.5,2244.7" fill="#e8202a"/>
<path d="M3800 2268 Q3808 2270 3801.4 2268.4" fill="none" stroke="#2a9fe0" stroke-width="2"/>
<polygon points="3816,2272 3799.8,2274.9 3803.1,2261.8" fill="#2a9fe0"/>
<path d="M3818 2336 Q3817.2 2309.6 3810.6 2300.3" fill="none" stroke="#e8202a" stroke-width="2"/>
<polygon points="3802,2288 3816.2,2296.4 3805.1,2304.2" fill="#e8202a"/>
<text x="3915" y="2256" font-size="20" font-weight="bold" text-anchor="middle">?</text>
<text x="3616" y="2228" font-size="20" font-weight="bold" text-anchor="middle">?</text>
<text x="3613" y="2278" font-size="20" font-weight="bold" text-anchor="middle">?</text>
<rect x="3674" y="1818" width="30" height="20" fill="url(#pq)"/>
<rect x="3674" y="1838" width="30" height="23" fill="url(#pcg)"/>
<rect x="3674" y="1861" width="30" height="118" fill="url(#psc)"/>
<rect x="3674" y="1979" width="30" height="46" fill="url(#pcs)"/>
<rect x="3674" y="2025" width="30" height="64" fill="url(#pcl)"/>
<rect x="3674" y="2089" width="30" height="139" fill="#3b3a34"/>
<rect x="3674" y="2228" width="30" height="34" fill="url(#pcl)"/>
<rect x="3674" y="2262" width="30" height="63" fill="#3b3a34"/>
<rect x="3674" y="2325" width="30" height="22" fill="url(#pcl)"/>
<rect x="3674" y="2347" width="30" height="229" fill="#f49ab3"/>
<polyline points="3704,1818 3704,2576" fill="none" stroke="#111" stroke-width="2"/>
<polyline points="3674,1818 3704,1818" fill="none" stroke="#111" stroke-width="1.2"/>
<text transform="translate(3701 2536) rotate(-90)" font-size="32" font-weight="bold" fill="#111">371 m</text>
<polygon points="3629.9,1838 3662.1,1838 3646,1973" fill="#3bf51f" stroke="#111" stroke-width="1.5" stroke-linejoin="round"/>
<polygon points="3646,1973 3669,2026 3623,2026" fill="#3bf51f" stroke="#111" stroke-width="1.5" stroke-linejoin="round"/>
<polygon points="3623,2026 3669,2026 3646,2197" fill="#5cb80f" stroke="#111" stroke-width="1.5" stroke-linejoin="round"/>
<polygon points="3646,2197 3669,2228 3623,2228" fill="#5cb80f" stroke="#111" stroke-width="1.5" stroke-linejoin="round"/>
<polygon points="3623,2228 3669,2228 3646,2267" fill="#a5e8e8" stroke="#111" stroke-width="1.5" stroke-linejoin="round"/>
<polygon points="3646,2267 3669,2280 3623,2280" fill="#a5e8e8" stroke="#111" stroke-width="1.5" stroke-linejoin="round"/>
<polygon points="3623,2280 3669,2280 3646,2330" fill="#2f9bee" stroke="#111" stroke-width="1.5" stroke-linejoin="round"/>
<polygon points="3646,2330 3669,2347 3623,2347" fill="#2f9bee" stroke="#111" stroke-width="1.5" stroke-linejoin="round"/>
<text x="3558" y="1879" font-size="47">S4</text>
<text x="3558" y="2066" font-size="47">S3</text>
<text x="3545" y="2264" font-size="47">S2b</text>
<text x="3545" y="2327" font-size="47">S2a</text>
<rect x="3667" y="1689" width="6" height="887" fill="#222"/>
<rect x="3670" y="1685" width="152" height="59" fill="#000"/>
<text x="3746" y="1730.8" font-size="45.5" font-weight="bold" text-anchor="middle" fill="#fff">VAF-1</text>
<polyline points="3889,2350 4016,2592" fill="none" stroke="#111" stroke-width="9" stroke-dasharray="20 14"/>
<circle cx="3965" cy="2482" r="53" fill="#fbb040" stroke="#111" stroke-width="5"/>
<text x="3965" y="2511" font-size="80" text-anchor="middle">4</text>
<rect x="4042" y="2482" width="93" height="93" fill="#fff" stroke="#111" stroke-width="4"/>
<text x="4089" y="2561" font-size="84" font-weight="bold" text-anchor="middle">B</text>
<polygon points="1305,3155 1522,3155 1780,3041 1989,3041 2696,2908 2936,2908 2944,3035 3143,3035 3232,2954 3473,2954 3518,3096 3725,3096 3777,3258 4014,3258 4014,4088 1305,4088" fill="#f0e4da"/>
<polygon points="2212,2999 2696,2908 2936,2908 2940,2996" fill="#e2d6cc"/>
<polygon points="3203,2982 3232,2954 3473,2954 3481,2980" fill="#e2d6cc"/>
<polygon points="1305,3155 1522,3155 1640,3103 2000,3099 2709,3116 2885,3121 2936,3128 3412,3128 3412,4088 1305,4088" fill="#ffffbe"/>
<polygon points="1305,3183 2011,3185 2488,3190 2709,3197 2896,3200 2936,3208 3100,3210 3143,3208 3248,3198 3412,3196 3412,4088 1305,4088" fill="#fdfdf0"/>
<polygon points="1305,3317 2017,3321 2488,3309 2709,3305 3100,3306 3151,3306 3186,3337 3412,3337 3412,4088 1305,4088" fill="#fcfde0"/>
<polygon points="3412,2954 3473,2954 3518,3096 3513,3109 3441,3437 3412,3437" fill="#fff"/>
<polygon points="1305,3370 1544,3370 1737,3423 2011,3424 2488,3408 2709,3398 3100,3404 3143,3406 3186,3436 3431,3436 3441,3437 3513,3109 3518,3096 3725,3096 3777,3258 4014,3258 4014,4088 1305,4088" fill="#ccffc2"/>
<polygon points="1305,3403 1536,3403 1584,3423 1675,3464 1703,3479 2100,3488 2488,3525 2709,3543 3100,3541 3143,3541 3191,3588 3431,3588 3499,3320 3701,3320 3756,3205 3777,3258 4014,3258 4014,4088 1305,4088" fill="#d5edc0"/>
<polygon points="1981,3512 2065,3532 2493,3600 2720,3631 3100,3630 3148,3630 3194,3685 3422,3685 3493,3454 3707,3454 3767,3317 4014,3317 4014,4088 1981,4088" fill="#e5f8f8"/>
<polygon points="2726,3681 3100,3676 3143,3678 3194,3729 3422,3732 3499,3521 3499,4088 2726,4088" fill="#c8e4f8"/>
<polygon points="1305,3440 1539,3440 1731,3512 1981,3512 2726,3681 3077,3681 3100,3689 3208,3763 3428,3763 3513,3501 3718,3501 3777,3383 4014,3383 4017,3383 4017,3980 4014,4088 1305,4088" fill="#f9c6d2"/>
<polygon points="2578,4088 2764,3760 2930,3760 2944,3821 3038,3821 3166,4088" fill="#cccccc"/>
<polygon points="3593,4088 3604,4067 3705,4067 3781,3980 4014,3980 4014,4088" fill="#cccccc"/>
<polyline points="1305,2888 4020,2888" fill="none" stroke="#111" stroke-width="2.2"/>
<polyline points="1305,3004 4014,3004" fill="none" stroke="#555" stroke-width="1.2"/>
<polyline points="1305,3119 4014,3119" fill="none" stroke="#555" stroke-width="1.2"/>
<polyline points="1305,3235 4014,3235" fill="none" stroke="#555" stroke-width="1.2"/>
<polyline points="1305,3351 4014,3351" fill="none" stroke="#555" stroke-width="1.2"/>
<polyline points="1305,3466 4014,3466" fill="none" stroke="#111" stroke-width="2.2"/>
<polyline points="1305,3582 4014,3582" fill="none" stroke="#555" stroke-width="1.2"/>
<polyline points="1305,3698 4014,3698" fill="none" stroke="#555" stroke-width="1.2"/>
<polyline points="1305,3813 4014,3813" fill="none" stroke="#555" stroke-width="1.2"/>
<polyline points="1305,3929 4014,3929" fill="none" stroke="#555" stroke-width="1.2"/>
<polyline points="1305,4045 4014,4045" fill="none" stroke="#111" stroke-width="2.2"/>
<polyline points="2212,2999 2594,2999 2899,2994" fill="none" stroke="#8b5e34" stroke-width="4"/>
<polyline points="3203,2984 3304,2980 3412,2978" fill="none" stroke="#8b5e34" stroke-width="4"/>
<polyline points="3412,2978 3458,2978" fill="none" stroke="#8b5e34" stroke-width="4" stroke-dasharray="16 10"/>
<polyline points="1646,3103 1835,3101" fill="none" stroke="#8b5e34" stroke-width="4" stroke-dasharray="26 14"/>
<polyline points="1916,3101 2000,3099 2709,3116 2885,3121 2936,3128 3412,3128" fill="none" stroke="#8b5e34" stroke-width="4"/>
<polyline points="3412,3128 3456,3128" fill="none" stroke="#8b5e34" stroke-width="4" stroke-dasharray="16 10"/>
<polyline points="1305,3183 1835,3183" fill="none" stroke="#fff200" stroke-width="4.5"/>
<polyline points="1869,3184 2011,3185 2488,3190" fill="none" stroke="#fff200" stroke-width="4.5" stroke-dasharray="34 26"/>
<polyline points="2488,3190 2709,3197 2896,3200 2936,3208 3100,3210 3143,3208 3248,3198 3412,3196" fill="none" stroke="#fff200" stroke-width="4.5"/>
<polyline points="3412,3196 3452,3196" fill="none" stroke="#fff200" stroke-width="4.5" stroke-dasharray="18 10"/>
<polyline points="1305,3317 1454,3317" fill="none" stroke="#f5d9a0" stroke-width="4.5"/>
<polyline points="1522,3317 2017,3321 2488,3309" fill="none" stroke="#f5d9a0" stroke-width="4.5" stroke-dasharray="34 26"/>
<polyline points="2488,3309 2709,3305 3100,3306 3151,3306 3186,3337 3412,3337" fill="none" stroke="#f5d9a0" stroke-width="4.5"/>
<polyline points="3412,3337 3444,3337" fill="none" stroke="#f5d9a0" stroke-width="4.5" stroke-dasharray="18 10"/>
<polyline points="1305,3370 1544,3370" fill="none" stroke="#f5d9a0" stroke-width="4.5"/>
<polyline points="1544,3370 1737,3423 2011,3424 2488,3408" fill="none" stroke="#f5d9a0" stroke-width="4.5" stroke-dasharray="34 26"/>
<polyline points="2488,3408 2709,3398 3100,3404 3143,3406 3186,3436 3431,3436" fill="none" stroke="#f5d9a0" stroke-width="4.5"/>
<polyline points="3441,3437 3513,3109" fill="none" stroke="#f5d9a0" stroke-width="4.5" stroke-dasharray="40 22"/>
<polyline points="1305,3403 1536,3403" fill="none" stroke="#3bf51f" stroke-width="4.5"/>
<polyline points="1560,3412 1675,3464" fill="none" stroke="#3bf51f" stroke-width="4.5" stroke-dasharray="40 24"/>
<polyline points="1703,3479 2100,3488 2488,3525" fill="none" stroke="#3bf51f" stroke-width="4.5" stroke-dasharray="44 24"/>
<polyline points="2488,3525 2709,3543 3100,3541 3143,3541 3191,3588 3431,3588 3499,3320 3701,3320 3756,3205" fill="none" stroke="#3bf51f" stroke-width="4.5"/>
<polyline points="2068,3533 2493,3600" fill="none" stroke="#3aaa44" stroke-width="4.5" stroke-dasharray="40 24"/>
<polyline points="2493,3600 2720,3631 3100,3630 3148,3630 3194,3685 3422,3685 3493,3454 3707,3454 3767,3317 4014,3317" fill="none" stroke="#3aaa44" stroke-width="4.5"/>
<polyline points="2726,3681 3100,3676 3143,3678 3194,3729 3422,3732 3499,3521" fill="none" stroke="#44ccee" stroke-width="4.5"/>
<polyline points="2578,4088 2764,3760 2930,3760 2944,3821 3038,3821 3166,4088" fill="none" stroke="#e8202a" stroke-width="3.5"/>
<polyline points="2612,4031 2765,3902 2936,3902 2942,3959 2989,3959 3069,4088" fill="none" stroke="#3aaa44" stroke-width="4"/>
<polyline points="3593,4088 3604,4067 3705,4067 3781,3980 4014,3980" fill="none" stroke="#e8202a" stroke-width="3.5"/>
<polyline points="1305,3440 1539,3440 1731,3512 1981,3512 2726,3681 3077,3681 3100,3689 3208,3763 3428,3763 3513,3501 3718,3501 3777,3383 4014,3383" fill="none" stroke="#e8202a" stroke-width="4.5" stroke-linejoin="round"/>
<polyline points="1305,3155 1522,3155 1780,3041 1989,3041 2696,2908 2936,2908 2944,3035 3143,3035 3232,2954 3473,2954 3518,3096 3725,3096 3777,3258 4000,3258" fill="none" stroke="#e8202a" stroke-width="4.5" stroke-linejoin="round"/>
<polyline points="3390,3501 3446,3501" fill="none" stroke="#e8202a" stroke-width="3"/>
<polyline points="1353.6,2741 1818.4,2741" fill="none" stroke="#222" stroke-width="2.2"/>
<polygon points="1340,2741 1357,2731.7 1357,2750.3" fill="#222"/>
<polygon points="1832,2741 1815,2731.7 1815,2750.3" fill="#222"/>
<polyline points="1852.6,2741 2915.4,2741" fill="none" stroke="#222" stroke-width="2.2"/>
<polygon points="1839,2741 1856,2731.7 1856,2750.3" fill="#222"/>
<polygon points="2929,2741 2912,2731.7 2912,2750.3" fill="#222"/>
<polyline points="2962.6,2741 3286.4,2741" fill="none" stroke="#222" stroke-width="2.2"/>
<polygon points="2949,2741 2966,2731.7 2966,2750.3" fill="#222"/>
<polygon points="3300,2741 3283,2731.7 3283,2750.3" fill="#222"/>
<polyline points="3320.6,2741 3602.4,2741" fill="none" stroke="#222" stroke-width="2.2"/>
<polygon points="3307,2741 3324,2731.7 3324,2750.3" fill="#222"/>
<polygon points="3616,2741 3599,2731.7 3599,2750.3" fill="#222"/>
<polyline points="3635.6,2741 3787.4,2741" fill="none" stroke="#222" stroke-width="2.2"/>
<polygon points="3622,2741 3639,2731.7 3639,2750.3" fill="#222"/>
<polygon points="3801,2741 3784,2731.7 3784,2750.3" fill="#222"/>
<text x="1308" y="2708" font-size="69" font-weight="bold">NW</text>
<text x="3966" y="2706" font-size="69" font-weight="bold">SE</text>
<text x="1566" y="2714" font-size="46" text-anchor="middle">4.2 km</text>
<text x="2387" y="2714" font-size="46" text-anchor="middle">9.5 km</text>
<text x="3131" y="2714" font-size="46" text-anchor="middle">3 km</text>
<text x="3485" y="2714" font-size="46" text-anchor="middle">2.7 km</text>
<text x="3727" y="2714" font-size="46" text-anchor="middle">1.5 km</text>
<text x="4027" y="2890" font-size="44">500 m</text>
<text x="4055" y="3471" font-size="44">0 m</text>
<text x="3878" y="4040" font-size="44">-500 m</text>
<polyline points="1370,3156 1370,3549" fill="none" stroke="#333" stroke-width="1.3"/>
<polyline points="1434,3156 1434,3549" fill="none" stroke="#333" stroke-width="1.3"/>
<polyline points="1489,3156 1489,3549" fill="none" stroke="#bbb" stroke-width="1"/>
<text x="1364" y="3101" font-size="32" font-weight="bold">SP</text>
<text x="1418" y="3100" font-size="26">(mV)</text>
<text transform="translate(1371 3148) scale(0.72 1)" font-size="30" font-weight="bold" text-anchor="middle" fill="#111">-10</text>
<text transform="translate(1431 3148) scale(0.72 1)" font-size="30" font-weight="bold" text-anchor="middle" fill="#111">+10</text>
<text transform="translate(1488 3148) scale(0.72 1)" font-size="30" font-weight="bold" text-anchor="middle" fill="#111">+30</text>
<polyline points="1322,3161 1512,3161" fill="none" stroke="#2e7fc0" stroke-width="1.5" stroke-dasharray="22 14"/>
<polyline points="1322,3272 1512,3272" fill="none" stroke="#2e7fc0" stroke-width="1.5" stroke-dasharray="22 14"/>
<polyline points="1322,3367 1512,3367" fill="none" stroke="#2e7fc0" stroke-width="1.5" stroke-dasharray="22 14"/>
<polyline points="1322,3400 1512,3400" fill="none" stroke="#2e7fc0" stroke-width="1.5" stroke-dasharray="22 14"/>
<polyline points="1322,3436 1512,3436" fill="none" stroke="#2e7fc0" stroke-width="1.5" stroke-dasharray="22 14"/>
<polyline points="1460,3160 1457.9,3162.5 1456.7,3165 1453.9,3167.5 1454.8,3170 1449.8,3172.5 1448.2,3175 1448.7,3177.5 1447.2,3180 1447.8,3182.5 1442.9,3185 1439.8,3187.5 1436.8,3190 1433.1,3192.5 1429.7,3195 1430.2,3197.5 1428.1,3200 1428.2,3202.5 1430.3,3205 1431.1,3207.5 1429.3,3210 1424.3,3212.5 1421,3215 1417.2,3217.5 1414.3,3220 1416.9,3222.5 1414.3,3225 1414.2,3227.5 1415,3230 1418.3,3232.5 1418.6,3235 1419.6,3237.5 1416.5,3240 1414.6,3242.5 1417.2,3245 1416.5,3247.5 1416.9,3250 1412.6,3252.5 1409.6,3255 1410.2,3257.5 1409.5,3260 1408.6,3262.5 1411.8,3265 1414.3,3267.5 1410.5,3270 1407.1,3272.5 1405.4,3275 1404.1,3277.5 1406.9,3280 1405.8,3282.5 1409.2,3285 1404,3287.5 1404.3,3290 1401.3,3292.5 1404.3,3295 1402.4,3297.5 1400,3300 1400.6,3302.5 1402.8,3305 1397.6,3307.5 1395.7,3310 1399.1,3312.5 1397.3,3315 1393.6,3317.5 1397.1,3320 1399,3322.5 1396.1,3325 1392.5,3327.5 1388.8,3330 1391.4,3332.5 1393,3335 1393.4,3337.5 1393.1,3340 1390.3,3342.5 1387.9,3345 1388.4,3347.5 1390,3350 1388.5,3352.5 1387.8,3355 1386.3,3357.5 1388.4,3360 1390.6,3362.5 1386.9,3365 1389.5,3367.5 1390,3370 1387.3,3372.5 1384.6,3375 1386,3377.5 1385.9,3380 1386.2,3382.5 1389.4,3385 1391.2,3387.5 1390.4,3390 1388.7,3392.5 1385.3,3395 1382.7,3397.5 1386.7,3400 1385.1,3402.5 1387.5,3405 1386.3,3407.5 1385.2,3410 1388.2,3412.5 1386.5,3415 1385,3417.5 1391,3420 1390.6,3422.5 1390.3,3425 1393.5,3427.5 1391.6,3430 1394.9,3432.5 1393.2,3435 1396,3437.5 1398.2,3440" fill="none" stroke="#6fc4cc" stroke-width="1.3" stroke-linejoin="round"/>
<polyline points="1416.9,3440 1418.1,3442.5 1418.9,3445 1423.4,3447.5 1424.7,3450 1425.3,3452.5 1424.8,3455 1419.9,3457.5 1423.5,3460 1421.5,3462.5 1421.6,3465 1417.5,3467.5 1416.8,3470 1421.1,3472.5 1417.4,3475 1414.9,3477.5 1415.4,3480 1415.9,3482.5 1417.5,3485 1418.4,3487.5 1416.3,3490 1413.5,3492.5 1414.8,3495 1415.2,3497.5 1417.5,3500 1419,3502.5 1421.3,3505 1420.2,3507.5 1419.1,3510 1420.8,3512.5 1424,3515 1423.8,3517.5 1418.2,3520 1417.2,3522.5 1422.3,3525 1425.4,3527.5 1421.5,3530 1418.4,3532.5 1414.8,3535 1413.6,3537.5 1412.5,3540 1419.6,3542.5 1423.6,3545 1420.8,3547.5" fill="none" stroke="#9ab4d8" stroke-width="1.2" stroke-linejoin="round"/>
<path d="M1402 3262 Q1400.6 3222 1382.7 3204.5" fill="none" stroke="#e8202a" stroke-width="2"/>
<polygon points="1372,3194 1387.4,3199.7 1378,3209.3" fill="#e8202a"/>
<path d="M1385 3310 Q1395.5 3297 1396.6 3295.7" fill="none" stroke="#2a9fe0" stroke-width="2"/>
<polygon points="1406,3284 1401.8,3299.9 1391.3,3291.4" fill="#2a9fe0"/>
<path d="M1396 3358 Q1393.4 3344.2 1394.2 3344.8" fill="none" stroke="#e8202a" stroke-width="2"/>
<polygon points="1382,3336 1398.1,3339.3 1390.2,3350.2" fill="#e8202a"/>
<path d="M1392 3364 Q1400 3367 1394 3364.7" fill="none" stroke="#2a9fe0" stroke-width="2"/>
<polygon points="1408,3370 1391.6,3371.1 1396.3,3358.4" fill="#2a9fe0"/>
<path d="M1398 3392 Q1394 3385 1397.4 3391" fill="none" stroke="#e8202a" stroke-width="2"/>
<polygon points="1390,3378 1403.3,3387.7 1391.6,3394.4" fill="#e8202a"/>
<path d="M1386 3400 Q1393 3402 1385.6 3399.9" fill="none" stroke="#2a9fe0" stroke-width="2"/>
<polygon points="1400,3404 1383.7,3406.4 1387.4,3393.4" fill="#2a9fe0"/>
<path d="M1396 3430 Q1391 3424 1395.6 3429.5" fill="none" stroke="#e8202a" stroke-width="2"/>
<polygon points="1386,3418 1400.8,3425.2 1390.4,3433.8" fill="#e8202a"/>
<rect x="1339" y="3156" width="31" height="3.7" fill="url(#pcl)"/>
<rect x="1339" y="3159.7" width="31" height="7.2" fill="url(#pfs)"/>
<rect x="1339" y="3166.9" width="31" height="6.8" fill="url(#pcl)"/>
<rect x="1339" y="3173.7" width="31" height="4.3" fill="url(#pfs)"/>
<rect x="1339" y="3178" width="31" height="5.5" fill="url(#pcl)"/>
<rect x="1339" y="3183.5" width="31" height="1.5" fill="url(#pfs)"/>
<rect x="1339" y="3185" width="31" height="45" fill="url(#psc)"/>
<rect x="1339" y="3230" width="31" height="15.6" fill="url(#pfs)"/>
<rect x="1339" y="3245.6" width="31" height="15.6" fill="url(#psc)"/>
<rect x="1339" y="3262" width="31" height="5.1" fill="url(#pfs)"/>
<rect x="1339" y="3267.1" width="31" height="7.9" fill="url(#pcl)"/>
<rect x="1339" y="3275" width="31" height="6.3" fill="url(#pfs)"/>
<rect x="1339" y="3281.4" width="31" height="8.4" fill="url(#pcl)"/>
<rect x="1339" y="3289.8" width="31" height="8.6" fill="url(#pfs)"/>
<rect x="1339" y="3298.4" width="31" height="1.6" fill="url(#pcl)"/>
<rect x="1339" y="3300" width="31" height="30" fill="url(#pfs)"/>
<rect x="1339" y="3330" width="31" height="6.7" fill="url(#pcl)"/>
<rect x="1339" y="3336.7" width="31" height="5.7" fill="url(#psc)"/>
<rect x="1339" y="3342.4" width="31" height="7.8" fill="url(#pcl)"/>
<rect x="1339" y="3350.1" width="31" height="6.1" fill="url(#pfs)"/>
<rect x="1339" y="3356.2" width="31" height="5.5" fill="url(#pcl)"/>
<rect x="1339" y="3361.7" width="31" height="7.8" fill="url(#psc)"/>
<rect x="1339" y="3369.5" width="31" height="11.4" fill="url(#pcl)"/>
<rect x="1339" y="3380.9" width="31" height="10.6" fill="url(#pfs)"/>
<rect x="1339" y="3391.5" width="31" height="3.5" fill="url(#pcl)"/>
<rect x="1339" y="3395" width="31" height="45" fill="url(#pfs)"/>
<rect x="1339" y="3440" width="31" height="109" fill="#f49ab3"/>
<polyline points="1370,3156 1370,3549" fill="none" stroke="#111" stroke-width="2"/>
<polyline points="1339,3156 1370,3156" fill="none" stroke="#111" stroke-width="1.2"/>
<polygon points="1484,3164 1512,3183 1456,3183" fill="#fff200" stroke="#111" stroke-width="1.5" stroke-linejoin="round"/>
<polygon points="1456,3183 1512,3183 1484,3272" fill="#f2f5d0" stroke="#111" stroke-width="1.5" stroke-linejoin="round"/>
<polygon points="1484,3272 1512,3317 1456,3317" fill="#f2f5d0" stroke="#111" stroke-width="1.5" stroke-linejoin="round"/>
<polygon points="1456,3317 1512,3317 1484,3367" fill="#f4f59a" stroke="#111" stroke-width="1.5" stroke-linejoin="round"/>
<polygon points="1484,3367 1512,3372 1456,3372" fill="#f4f59a" stroke="#111" stroke-width="1.5" stroke-linejoin="round"/>
<polygon points="1456,3372 1512,3372 1484,3400" fill="#3bf51f" stroke="#111" stroke-width="1.5" stroke-linejoin="round"/>
<polygon points="1456,3405 1512,3405 1484,3437" fill="#5cb80f" stroke="#111" stroke-width="1.5" stroke-linejoin="round"/>
<text x="1578" y="3162" font-size="47">S6</text>
<text x="1516" y="3253" font-size="47">S5b</text>
<text x="1516" y="3352" font-size="47">S5a</text>
<text x="1530" y="3408" font-size="47">S4</text>
<text x="1530" y="3448" font-size="47">S3</text>
<rect x="1333.2" y="2756" width="5.5" height="793" fill="#222"/>
<rect x="1336" y="2756" width="152" height="56" fill="#000"/>
<text x="1413" y="2800.1" font-size="45" font-weight="bold" text-anchor="middle" fill="#fff">TE-101</text>
<rect x="1839" y="3041" width="30" height="61" fill="url(#pcl)"/>
<rect x="1839" y="3102" width="30" height="18" fill="url(#pcs)"/>
<rect x="1839" y="3120" width="30" height="25" fill="url(#pfs)"/>
<rect x="1839" y="3145" width="30" height="17" fill="url(#psc)"/>
<rect x="1839" y="3162" width="30" height="21" fill="url(#pcl)"/>
<rect x="1839" y="3183" width="30" height="34" fill="url(#pcs)"/>
<rect x="1839" y="3217" width="30" height="11" fill="url(#pcl)"/>
<rect x="1839" y="3228" width="30" height="3" fill="url(#pcs)"/>
<rect x="1839" y="3231" width="30" height="193" fill="url(#pcl)"/>
<rect x="1839" y="3424" width="30" height="25" fill="url(#pcs)"/>
<rect x="1839" y="3449" width="30" height="41" fill="url(#pcl)"/>
<rect x="1839" y="3490" width="30" height="9" fill="url(#pfs)"/>
<rect x="1839" y="3499" width="30" height="6" fill="url(#pcl)"/>
<rect x="1839" y="3505" width="30" height="7" fill="url(#pfs)"/>
<rect x="1839" y="3512" width="30" height="576" fill="#f49ab3"/>
<polyline points="1869,3041 1869,4088" fill="none" stroke="#111" stroke-width="2"/>
<polyline points="1839,3041 1869,3041" fill="none" stroke="#111" stroke-width="1.2"/>
<polygon points="1874,3041 1914,3041 1894,3097" fill="#c49a6c" stroke="#111" stroke-width="1.5" stroke-linejoin="round"/>
<polygon points="1894,3097 1914,3101 1874,3101" fill="#fff200" stroke="#111" stroke-width="1.5" stroke-linejoin="round" stroke-dasharray="9 6"/>
<polygon points="1874,3101 1914,3101 1894,3161" fill="#fff200" stroke="#111" stroke-width="1.5" stroke-linejoin="round" stroke-dasharray="9 6"/>
<polygon points="1894,3161 1914,3183 1874,3183" fill="#fff200" stroke="#111" stroke-width="1.5" stroke-linejoin="round" stroke-dasharray="9 6"/>
<polygon points="1874,3183 1914,3183 1894,3264" fill="#f2f5d0" stroke="#111" stroke-width="1.5" stroke-linejoin="round" stroke-dasharray="9 6"/>
<polygon points="1894,3264 1914,3321 1874,3321" fill="#f2f5d0" stroke="#111" stroke-width="1.5" stroke-linejoin="round" stroke-dasharray="9 6"/>
<polygon points="1874,3321 1914,3321 1894,3406" fill="#f4f59a" stroke="#111" stroke-width="1.5" stroke-linejoin="round" stroke-dasharray="9 6"/>
<polygon points="1894,3406 1914,3424 1874,3424" fill="#f4f59a" stroke="#111" stroke-width="1.5" stroke-linejoin="round" stroke-dasharray="9 6"/>
<polygon points="1874,3424 1914,3424 1894,3474" fill="#3bf51f" stroke="#111" stroke-width="1.5" stroke-linejoin="round" stroke-dasharray="9 6"/>
<polygon points="1874,3479 1914,3479 1894,3511" fill="#5cb80f" stroke="#111" stroke-width="1.5" stroke-linejoin="round" stroke-dasharray="9 6"/>
<path d="M1825 3148 Q1825.2 3125.6 1827.7 3119.7" fill="none" stroke="#e8202a" stroke-width="3"/>
<polygon points="1834,3105 1834.3,3122.5 1821.1,3116.9" fill="#e8202a"/>
<path d="M1825 3227 Q1825.5 3206.1 1827.5 3201.6" fill="none" stroke="#e8202a" stroke-width="3"/>
<polygon points="1834,3187 1834.1,3204.5 1820.9,3198.7" fill="#e8202a"/>
<path d="M1825 3465 Q1825.8 3445.6 1827.2 3442.5" fill="none" stroke="#e8202a" stroke-width="3"/>
<polygon points="1834,3428 1833.8,3445.5 1820.7,3439.5" fill="#e8202a"/>
<rect x="1832.2" y="2754" width="5.5" height="1334" fill="#222"/>
<rect x="1835" y="2754" width="160" height="47" fill="#000"/>
<text x="1917" y="2793.8" font-size="45.5" font-weight="bold" text-anchor="middle" fill="#fff">DP-108</text>
<rect x="1835" y="2800" width="160" height="11" fill="#000"/>
<polyline points="1336,3031 1386,2980" fill="none" stroke="#111" stroke-width="4"/>
<polyline points="1835,3033 1774,2963" fill="none" stroke="#111" stroke-width="4"/>
<rect x="1326.5" y="3021.5" width="19" height="19" fill="#fff" stroke="#111" stroke-width="2.5"/>
<rect x="1825.5" y="3023.5" width="19" height="19" fill="#fff" stroke="#111" stroke-width="2.5"/>
<rect x="1386" y="2825" width="388" height="228" fill="#c66f47" stroke="#111" stroke-width="3" rx="7"/>
<text x="1401" y="2864" font-size="36.3" font-weight="bold" fill="#000">+380-400 m</text>
<text x="1401" y="2908" font-size="36.3" font-weight="bold" fill="#000">MN9: 11.2-9.5 Ma</text>
<text x="1401" y="2952" font-size="36.3" fill="#000">At K4*, 3.5 km to the</text>
<text x="1401" y="2996" font-size="36.3" fill="#000">NNW of DP-108, 2 km</text>
<text x="1401" y="3040" font-size="36.3" fill="#000">to the ENE of TE-101</text>
<polyline points="2809,2874 2809,3680" fill="none" stroke="#333" stroke-width="1.3"/>
<polyline points="2858,2874 2858,3680" fill="none" stroke="#333" stroke-width="1.3"/>
<polyline points="2858,3680 2858,3760" fill="none" stroke="#333" stroke-width="1.3"/>
<text x="2764" y="2847" font-size="32" font-weight="bold">GR</text>
<text x="2824" y="2847" font-size="24">(µg Ra<tspan dy="-9" font-size="14"> -1</tspan><tspan dy="9">)</tspan></text>
<text transform="translate(2801 2877) scale(0.72 1)" font-size="30" font-weight="bold" text-anchor="middle" fill="#111">6</text>
<text transform="translate(2850 2877) scale(0.72 1)" font-size="30" font-weight="bold" text-anchor="middle" fill="#111">9</text>
<text transform="translate(2900 2877) scale(0.72 1)" font-size="30" font-weight="bold" text-anchor="middle" fill="#111">12</text>
<polyline points="2700,3097 2941,3097" fill="none" stroke="#2e7fc0" stroke-width="1.5" stroke-dasharray="22 14"/>
<polyline points="2700,3183 2941,3183" fill="none" stroke="#2e7fc0" stroke-width="1.5" stroke-dasharray="22 14"/>
<polyline points="2700,3259 2941,3259" fill="none" stroke="#2e7fc0" stroke-width="1.5" stroke-dasharray="22 14"/>
<polyline points="2700,3387 2941,3387" fill="none" stroke="#2e7fc0" stroke-width="1.5" stroke-dasharray="22 14"/>
<polyline points="2700,3474 2941,3474" fill="none" stroke="#2e7fc0" stroke-width="1.5" stroke-dasharray="22 14"/>
<polyline points="2700,3614 2941,3614" fill="none" stroke="#2e7fc0" stroke-width="1.5" stroke-dasharray="22 14"/>
<polyline points="2700,3659 2941,3659" fill="none" stroke="#2e7fc0" stroke-width="1.5" stroke-dasharray="22 14"/>
<polyline points="2801,2908 2796.4,2909.3 2843,2910.6 2810.9,2911.9 2873.8,2913.2 2886.4,2914.5 2881.7,2915.8 2854.5,2917.1 2879.3,2918.4 2833.7,2919.7 2851.8,2921 2836.8,2922.3 2843.1,2923.6 2890,2924.9 2836.8,2926.2 2868.8,2927.5 2881.5,2928.8 2822.6,2930.1 2887,2931.4 2858.9,2932.7 2858.2,2934 2835.6,2935.3 2851.8,2936.6 2895.4,2937.9 2853.6,2939.2 2875.1,2940.5 2887.6,2941.8 2899.9,2943.1 2887.7,2944.4 2859.3,2945.7 2840.7,2947 2838.5,2948.3 2836.8,2949.6 2884.1,2950.9 2895.2,2952.2 2841.7,2953.5 2827.6,2954.8 2801.9,2956.1 2875.9,2957.4 2820,2958.7 2831.3,2960 2815.8,2961.3 2811.4,2962.6 2879.3,2963.9 2855.6,2965.2 2865.5,2966.5 2887.2,2967.8 2865.8,2969.1 2885.7,2970.4 2887.8,2971.7 2872.7,2973 2863.3,2974.3 2889.9,2975.6 2879.1,2976.9 2843.7,2978.2 2883.1,2979.5 2889.2,2980.8 2903.2,2982.1 2881,2983.4 2852,2984.7 2832.9,2986 2851.1,2987.3 2815.5,2988.6 2854.1,2989.9 2865.1,2991.2 2884.6,2992.5 2829.1,2993.8 2843.2,2995.1 2844.9,2996.4 2849.5,2997.7 2833,2999 2789.4,3000.3 2859.5,3001.6 2881.6,3002.9 2819.2,3004.2 2867.5,3005.5 2854.3,3006.8 2794.4,3008.1 2831.7,3009.4 2813.1,3010.7 2813,3012 2787.6,3013.3 2846.5,3014.6 2849.5,3015.9 2811.3,3017.2 2829.2,3018.5 2821.5,3019.8 2871.1,3021.1 2815.7,3022.4 2840.6,3023.7 2859.8,3025 2874.8,3026.3 2821.8,3027.6 2859.2,3028.9 2807.7,3030.2 2787,3031.5 2823.4,3032.8 2862.7,3034.1 2830.7,3035.4 2797.3,3036.7 2778.4,3038 2801.1,3039.3 2851.9,3040.6 2847.3,3041.9 2832.2,3043.2 2830.9,3044.5 2800.9,3045.8 2792.8,3047.1 2793.2,3048.4 2837.4,3049.7 2845.6,3051 2792.4,3052.3 2822,3053.6 2869.5,3054.9 2803.5,3056.2 2788.9,3057.5 2859.7,3058.8 2842.9,3060.1 2873,3061.4 2877.6,3062.7 2845.4,3064 2883.3,3065.3 2828.7,3066.6 2814.3,3067.9 2801.9,3069.2 2847.5,3070.5 2802.9,3071.8 2819.6,3073.1 2856.8,3074.4 2864.8,3075.7 2830.4,3077 2804,3078.3 2857.6,3079.6 2878.9,3080.9 2867.6,3082.2 2859.8,3083.5 2811.5,3084.8 2817.3,3086.1 2814,3087.4 2834,3088.7 2820.7,3090 2847.4,3091.3 2843.6,3092.6 2889.9,3093.9 2839.8,3095.2 2802,3096.5 2798.7,3097.8 2802.6,3099.1" fill="none" stroke="#444" stroke-width="1" stroke-linejoin="round"/>
<polyline points="2820.1,3100 2823.4,3101.4 2824.2,3102.8 2825.3,3104.2 2831,3105.6 2836.6,3107 2831,3108.4 2833.2,3109.8 2828.1,3111.2 2824.6,3112.6 2832.8,3114 2838.8,3115.4 2830.2,3116.8 2829.7,3118.2 2815.9,3119.6 2832,3121 2830.8,3122.4 2830.5,3123.8 2819.2,3125.2 2826.6,3126.6 2829.2,3128 2819,3129.4 2822.8,3130.8 2831.9,3132.2 2835.2,3133.6 2834.4,3135 2833.4,3136.4 2840,3137.8 2837.8,3139.2 2819.7,3140.6 2822.4,3142 2815.2,3143.4 2834.6,3144.8 2834.2,3146.2 2822.7,3147.6 2818.9,3149 2819.1,3150.4 2828.4,3151.8 2827.6,3153.2 2815.9,3154.6 2828.7,3156 2822.9,3157.4 2821.4,3158.8 2838.3,3160.2 2840.2,3161.6 2839.9,3163 2840.1,3164.4 2832.3,3165.8 2817.7,3167.2 2821.8,3168.6 2828.3,3170 2837.7,3171.4 2825.3,3172.8 2815.9,3174.2 2834.8,3175.6 2833.6,3177 2836.2,3178.4 2828.2,3179.8 2821.3,3181.2 2820,3182.6 2815.1,3184 2819.3,3185.4 2824.9,3186.8 2835.9,3188.2 2838.4,3189.6 2827.3,3191 2817.8,3192.4 2833.4,3193.8 2813.9,3195.2 2810.4,3196.6 2824,3198 2825.4,3199.4 2834.8,3200.8 2829.7,3202.2 2831.3,3203.6 2833.3,3205 2835.3,3206.4 2834,3207.8 2824.3,3209.2 2824.9,3210.6 2828,3212 2810.5,3213.4 2818.1,3214.8 2817,3216.2 2825.7,3217.6 2813.3,3219 2825.7,3220.4 2813.7,3221.8 2816.3,3223.2 2819,3224.6 2813.7,3226 2822.2,3227.4 2826.2,3228.8 2831.6,3230.2 2818.7,3231.6 2827.9,3233 2822.1,3234.4 2825.5,3235.8 2811.2,3237.2 2814.1,3238.6 2822.3,3240 2821.2,3241.4 2809.9,3242.8 2816.9,3244.2 2822.9,3245.6 2826.3,3247 2807.4,3248.4 2804,3249.8 2808.3,3251.2 2802,3252.6 2821.5,3254 2824.9,3255.4 2825.2,3256.8 2819.8,3258.2 2812.6,3259.6 2814.3,3261 2805.3,3262.4 2821.3,3263.8 2810.4,3265.2 2821,3266.6 2813.7,3268 2807.6,3269.4 2811.6,3270.8 2811,3272.2 2826.2,3273.6 2808.2,3275 2811.5,3276.4 2814.2,3277.8 2817,3279.2 2805.8,3280.6 2822.3,3282 2816,3283.4 2821.2,3284.8 2812.9,3286.2 2811.5,3287.6 2812,3289 2813.1,3290.4 2827.3,3291.8 2814.2,3293.2 2806.6,3294.6 2828.1,3296 2815.4,3297.4 2830.1,3298.8 2827.6,3300.2 2832,3301.6 2822.6,3303 2821.2,3304.4 2828.9,3305.8 2822.5,3307.2 2821.6,3308.6 2812.8,3310 2823.8,3311.4 2817.8,3312.8 2831.2,3314.2 2819.3,3315.6 2831.5,3317 2830.1,3318.4 2831.7,3319.8 2835.8,3321.2 2835.4,3322.6 2820.7,3324 2823.9,3325.4 2833.5,3326.8 2825.9,3328.2 2816.5,3329.6 2818.9,3331 2832.1,3332.4 2816.6,3333.8 2835.1,3335.2 2817.6,3336.6 2827.1,3338 2820.7,3339.4 2815,3340.8 2831.8,3342.2 2836.9,3343.6 2821.8,3345 2822.8,3346.4 2819.2,3347.8 2831.4,3349.2 2838.7,3350.6 2839.5,3352 2823.1,3353.4 2821.4,3354.8 2828.5,3356.2 2838.9,3357.6 2824.6,3359 2833.2,3360.4 2824.5,3361.8 2822.1,3363.2 2828.2,3364.6 2817.8,3366 2824.3,3367.4 2817.8,3368.8 2817,3370.2 2817.7,3371.6 2830.8,3373 2856.9,3374.4 2862.4,3375.8 2855.6,3377.2 2861,3378.6 2850,3380 2857.6,3381.4 2856.6,3382.8 2858.2,3384.2 2852.1,3385.6 2853.7,3387 2855.3,3388.4 2850.3,3389.8 2852.1,3391.2 2851,3392.6 2860.3,3394" fill="none" stroke="#111" stroke-width="1.1" stroke-linejoin="round"/>
<polyline points="2834.2,3395 2825.4,3396.4 2825.7,3397.8 2819.9,3399.2 2811.7,3400.6 2817.2,3402 2813.5,3403.4 2811.5,3404.8 2812.5,3406.2 2809.4,3407.6 2824.4,3409 2815.6,3410.4 2828.7,3411.8 2824.8,3413.2 2840.2,3414.6 2837,3416 2839.9,3417.4 2837.4,3418.8 2840.2,3420.2 2846.8,3421.6 2850.5,3423 2826.9,3424.4 2825.3,3425.8 2825.1,3427.2 2823,3428.6 2839.2,3430 2848.1,3431.4 2825.2,3432.8 2822.8,3434.2 2844.7,3435.6 2826.3,3437 2821.3,3438.4 2844.4,3439.8 2832.2,3441.2 2821.5,3442.6 2835.4,3444 2827.8,3445.4 2832,3446.8 2831.4,3448.2 2846.1,3449.6 2853.6,3451 2856.2,3452.4 2843.1,3453.8 2852.8,3455.2 2848.2,3456.6 2843.1,3458 2844.8,3459.4 2845.6,3460.8 2853.5,3462.2 2835.9,3463.6 2851.2,3465 2853.1,3466.4 2846.5,3467.8 2841.9,3469.2 2834.7,3470.6 2852.4,3472 2840.7,3473.4 2827.1,3474.8 2851.3,3476.2 2846.2,3477.6 2839.8,3479 2825.3,3480.4 2833.4,3481.8 2851.4,3483.2 2855.5,3484.6 2832.4,3486 2831.5,3487.4 2851.4,3488.8 2847.7,3490.2 2841.8,3491.6 2828.2,3493 2839.3,3494.4 2824.4,3495.8 2820.4,3497.2 2839.2,3498.6 2824.8,3500 2848.2,3501.4 2830.7,3502.8 2821.3,3504.2 2827.5,3505.6 2826.4,3507 2845.9,3508.4 2835,3509.8 2829.4,3511.2 2833.4,3512.6 2826.8,3514 2816.9,3515.4 2814.8,3516.8 2832.7,3518.2 2832.6,3519.6 2816.8,3521 2841.7,3522.4 2834.4,3523.8 2830.2,3525.2 2824.4,3526.6 2841.2,3528 2827.3,3529.4 2812.9,3530.8 2834.7,3532.2 2831.4,3533.6 2839.9,3535 2823.4,3536.4 2839.2,3537.8 2814.6,3539.2 2815.4,3540.6 2811.2,3542 2818.4,3543.4 2830.8,3544.8" fill="none" stroke="#111" stroke-width="1.1" stroke-linejoin="round"/>
<polyline points="2819,3545 2810.1,3546.4 2811.3,3547.8 2814.8,3549.2 2806.8,3550.6 2815.2,3552 2827.1,3553.4 2818.7,3554.8 2825.4,3556.2 2829.8,3557.6 2810.6,3559 2805.6,3560.4 2813.5,3561.8 2826.8,3563.2 2819.2,3564.6 2824.7,3566 2823.4,3567.4 2809.5,3568.8 2815.1,3570.2 2820.4,3571.6 2811.2,3573 2808.4,3574.4 2819.2,3575.8 2814,3577.2 2821.1,3578.6 2814,3580 2807.8,3581.4 2812.7,3582.8 2822.9,3584.2 2816,3585.6 2818.5,3587 2824,3588.4 2814.7,3589.8 2825.1,3591.2 2809.9,3592.6 2814.9,3594 2811.6,3595.4 2809.3,3596.8 2824.5,3598.2 2812.4,3599.6 2822.7,3601 2818.5,3602.4 2827.8,3603.8 2828.8,3605.2 2810.2,3606.6 2825.8,3608 2821.2,3609.4 2823.7,3610.8 2810.9,3612.2 2821,3613.6 2823.5,3615 2829.4,3616.4 2822.9,3617.8 2809.3,3619.2 2819.2,3620.6 2821.9,3622 2811,3623.4 2822.9,3624.8 2809.2,3626.2 2817.7,3627.6 2820.6,3629 2828.3,3630.4 2813.4,3631.8 2810.8,3633.2 2820,3634.6 2818.1,3636 2827.1,3637.4 2812.9,3638.8 2820.2,3640.2 2812.4,3641.6 2825.9,3643 2817.1,3644.4 2816,3645.8 2817.7,3647.2 2827.2,3648.6 2827.7,3650 2823.1,3651.4 2815.4,3652.8 2821.9,3654.2 2830.6,3655.6 2825.4,3657 2818.8,3658.4 2832.5,3659.8 2841.8,3661.2 2830.8,3662.6 2824.3,3664 2830.1,3665.4 2830.2,3666.8 2841.6,3668.2 2842.9,3669.6 2852.2,3671 2842.1,3672.4 2850.7,3673.8 2853.2,3675.2 2845.5,3676.6 2853.1,3678 2850.4,3679.4" fill="none" stroke="#111" stroke-width="1.1" stroke-linejoin="round"/>
<polyline points="2826.4,3680 2817.1,3681.5 2845.7,3683 2826.3,3684.5 2846.4,3686 2802.5,3687.5 2813.3,3689 2795.1,3690.5 2782.6,3692 2784.3,3693.5 2797.8,3695 2797.5,3696.5 2822,3698 2827.8,3699.5 2809.4,3701 2833.3,3702.5 2823.3,3704 2845.3,3705.5 2830.4,3707 2812.2,3708.5 2809.6,3710 2858.2,3711.5 2852.7,3713 2850.7,3714.5 2850.7,3716 2846.1,3717.5 2823.6,3719 2854.1,3720.5 2860.9,3722 2875.9,3723.5 2855.8,3725 2822,3726.5 2835.2,3728 2850.2,3729.5 2859.4,3731 2844.7,3732.5 2845.8,3734 2850.7,3735.5 2882.8,3737 2844.3,3738.5 2834.3,3740 2882.7,3741.5 2874.8,3743 2838.7,3744.5 2841.4,3746 2854.2,3747.5 2866.9,3749 2891.4,3750.5 2888.8,3752 2857.9,3753.5 2881.9,3755 2891.5,3756.5 2890.6,3758 2879.4,3759.5" fill="none" stroke="#333" stroke-width="1" stroke-linejoin="round"/>
<path d="M2808 3176 Q2803.2 3148.4 2793.6 3138.2" fill="none" stroke="#e8202a" stroke-width="2"/>
<polygon points="2784,3128 2798.2,3133.9 2789,3142.5" fill="#e8202a"/>
<path d="M2800 3228 Q2792.6 3212.7 2790 3211.2" fill="none" stroke="#e8202a" stroke-width="2"/>
<polygon points="2778,3204 2793.3,3205.8 2786.8,3216.6" fill="#e8202a"/>
<path d="M2800 3262 Q2796.9 3246.9 2795.9 3245.9" fill="none" stroke="#e8202a" stroke-width="2"/>
<polygon points="2786,3236 2800.4,3241.4 2791.4,3250.4" fill="#e8202a"/>
<path d="M2786 3354 Q2782.3 3340.9 2782.6 3341.2" fill="none" stroke="#e8202a" stroke-width="2"/>
<polygon points="2772,3332 2786.7,3336.4 2778.5,3345.9" fill="#e8202a"/>
<path d="M2790 3384 Q2787.6 3370.2 2787.6 3370.2" fill="none" stroke="#e8202a" stroke-width="2"/>
<polygon points="2778,3360 2792.2,3365.9 2783,3374.5" fill="#e8202a"/>
<path d="M2798 3446 Q2794.3 3432.9 2794.6 3433.2" fill="none" stroke="#e8202a" stroke-width="2"/>
<polygon points="2784,3424 2798.7,3428.4 2790.5,3437.9" fill="#e8202a"/>
<path d="M2798 3468 Q2794.7 3457.2 2796.8 3458.9" fill="none" stroke="#e8202a" stroke-width="2"/>
<polygon points="2786,3450 2800.8,3454.1 2792.8,3463.8" fill="#e8202a"/>
<path d="M2806 3580 Q2801.6 3565.6 2800.8 3564.9" fill="none" stroke="#e8202a" stroke-width="2"/>
<polygon points="2790,3556 2804.8,3560.1 2796.8,3569.8" fill="#e8202a"/>
<path d="M2804 3614 Q2800.6 3599.9 2800.2 3599.6" fill="none" stroke="#e8202a" stroke-width="2"/>
<polygon points="2790,3590 2804.5,3595 2795.9,3604.2" fill="#e8202a"/>
<path d="M2806 3664 Q2797.6 3648.4 2794.3 3646.6" fill="none" stroke="#e8202a" stroke-width="2"/>
<polygon points="2782,3640 2797.3,3641.1 2791.3,3652.2" fill="#e8202a"/>
<path d="M2790 3196 Q2795.6 3186.8 2792.5 3187.6" fill="none" stroke="#2a9fe0" stroke-width="2"/>
<polygon points="2806,3184 2794.1,3193.7 2790.8,3181.6" fill="#2a9fe0"/>
<path d="M2784 3302 Q2786.6 3282.4 2791.1 3278.8" fill="none" stroke="#2a9fe0" stroke-width="2"/>
<polygon points="2802,3270 2795,3283.7 2787.1,3273.9" fill="#2a9fe0"/>
<path d="M2786 3388 Q2794.8 3386.8 2790.7 3383.8" fill="none" stroke="#2a9fe0" stroke-width="2"/>
<polygon points="2802,3392 2787,3388.9 2794.3,3378.7" fill="#2a9fe0"/>
<path d="M2806 3496 Q2802.4 3487 2800.8 3491" fill="none" stroke="#2a9fe0" stroke-width="2"/>
<polygon points="2806,3478 2806.6,3493.3 2795,3488.7" fill="#2a9fe0"/>
<path d="M2790 3626 Q2797.2 3620.8 2792.1 3620.1" fill="none" stroke="#2a9fe0" stroke-width="2"/>
<polygon points="2806,3622 2791.3,3626.4 2793,3613.9" fill="#2a9fe0"/>
<rect x="2899" y="2885" width="30" height="23" fill="url(#pcs)"/>
<rect x="2899" y="2908" width="30" height="12" fill="url(#pfs)"/>
<rect x="2899" y="2920" width="30" height="13" fill="url(#psc)"/>
<rect x="2899" y="2933" width="30" height="6.3" fill="url(#pfs)"/>
<rect x="2899" y="2939.3" width="30" height="5.1" fill="url(#pcl)"/>
<rect x="2899" y="2944.3" width="30" height="8.6" fill="url(#psc)"/>
<rect x="2899" y="2952.9" width="30" height="4.5" fill="url(#pcl)"/>
<rect x="2899" y="2957.4" width="30" height="7.8" fill="url(#pfs)"/>
<rect x="2899" y="2965.1" width="30" height="6.6" fill="url(#pcl)"/>
<rect x="2899" y="2971.7" width="30" height="4.4" fill="url(#psc)"/>
<rect x="2899" y="2976.1" width="30" height="7.6" fill="url(#pcl)"/>
<rect x="2899" y="2983.7" width="30" height="4.3" fill="url(#pfs)"/>
<rect x="2899" y="2987.9" width="30" height="7" fill="url(#pcl)"/>
<rect x="2899" y="2995" width="30" height="4.5" fill="url(#psc)"/>
<rect x="2899" y="2999.4" width="30" height="4.6" fill="url(#pcl)"/>
<rect x="2899" y="3004.1" width="30" height="7" fill="url(#pfs)"/>
<rect x="2899" y="3011" width="30" height="9.8" fill="url(#pcl)"/>
<rect x="2899" y="3020.8" width="30" height="4.9" fill="url(#psc)"/>
<rect x="2899" y="3025.7" width="30" height="5.6" fill="url(#pcl)"/>
<rect x="2899" y="3031.3" width="30" height="8.4" fill="url(#pfs)"/>
<rect x="2899" y="3039.7" width="30" height="1.3" fill="url(#pcl)"/>
<rect x="2899" y="3041" width="30" height="5.4" fill="url(#pcl)"/>
<rect x="2899" y="3046.4" width="30" height="9.8" fill="url(#psc)"/>
<rect x="2899" y="3056.1" width="30" height="4.8" fill="url(#pcl)"/>
<rect x="2899" y="3060.9" width="30" height="8.2" fill="url(#psc)"/>
<rect x="2899" y="3069.1" width="30" height="4.5" fill="url(#pcl)"/>
<rect x="2899" y="3073.6" width="30" height="5.5" fill="url(#psc)"/>
<rect x="2899" y="3079.1" width="30" height="10" fill="url(#pcl)"/>
<rect x="2899" y="3089.1" width="30" height="5.3" fill="url(#psc)"/>
<rect x="2899" y="3094.4" width="30" height="7.9" fill="url(#pcl)"/>
<rect x="2899" y="3102.2" width="30" height="2.8" fill="url(#psc)"/>
<rect x="2899" y="3105" width="30" height="127" fill="url(#pcl)"/>
<rect x="2899" y="3232" width="30" height="6" fill="#3b3a34"/>
<rect x="2899" y="3238" width="30" height="108" fill="url(#pcl)"/>
<rect x="2899" y="3346" width="30" height="6" fill="#3b3a34"/>
<rect x="2899" y="3352" width="30" height="108" fill="url(#pcl)"/>
<rect x="2899" y="3460" width="30" height="6" fill="#3b3a34"/>
<rect x="2899" y="3466" width="30" height="214" fill="url(#pcl)"/>
<rect x="2899" y="3680" width="30" height="80" fill="#f49ab3"/>
<rect x="2899" y="3760" width="30" height="143" fill="#52a846"/>
<rect x="2899" y="3903" width="30" height="185" fill="#12bff0"/>
<polyline points="2929,2885 2929,4088" fill="none" stroke="#111" stroke-width="2"/>
<polyline points="2899,2885 2929,2885" fill="none" stroke="#111" stroke-width="1.2"/>
<polyline points="2899,2885 2899,4088" fill="none" stroke="#111" stroke-width="1.5"/>
<polygon points="2718,2908 2772,2908 2745,2992" fill="#8b5e34" stroke="#111" stroke-width="1.5" stroke-linejoin="round"/>
<polygon points="2718,2996 2772,2996 2745,3098" fill="#c49a6c" stroke="#111" stroke-width="1.5" stroke-linejoin="round"/>
<polygon points="2745,3098 2772,3119 2718,3119" fill="#c49a6c" stroke="#111" stroke-width="1.5" stroke-linejoin="round"/>
<polygon points="2718,3119 2772,3119 2745,3183" fill="#fff200" stroke="#111" stroke-width="1.5" stroke-linejoin="round"/>
<polygon points="2745,3183 2772,3199 2718,3199" fill="#fff200" stroke="#111" stroke-width="1.5" stroke-linejoin="round"/>
<polygon points="2718,3199 2772,3199 2745,3259" fill="#f2f5d0" stroke="#111" stroke-width="1.5" stroke-linejoin="round"/>
<polygon points="2745,3259 2772,3305 2718,3305" fill="#f2f5d0" stroke="#111" stroke-width="1.5" stroke-linejoin="round"/>
<polygon points="2718,3305 2772,3305 2745,3387" fill="#f4f59a" stroke="#111" stroke-width="1.5" stroke-linejoin="round"/>
<polygon points="2745,3387 2772,3396 2718,3396" fill="#f2f5d0" stroke="#111" stroke-width="1.5" stroke-linejoin="round"/>
<polygon points="2718,3396 2772,3396 2745,3472" fill="#3bf51f" stroke="#111" stroke-width="1.5" stroke-linejoin="round"/>
<polygon points="2745,3472 2772,3543 2718,3543" fill="#3bf51f" stroke="#111" stroke-width="1.5" stroke-linejoin="round"/>
<polygon points="2718,3543 2772,3543 2745,3614" fill="#5cb80f" stroke="#111" stroke-width="1.5" stroke-linejoin="round"/>
<polygon points="2745,3614 2772,3631 2718,3631" fill="#5cb80f" stroke="#111" stroke-width="1.5" stroke-linejoin="round"/>
<polygon points="2718,3631 2772,3631 2745,3659" fill="#a5e8e8" stroke="#111" stroke-width="1.5" stroke-linejoin="round"/>
<polygon points="2745,3659 2772,3680 2718,3680" fill="#a5e8e8" stroke="#111" stroke-width="1.5" stroke-linejoin="round"/>
<text x="2634" y="2963" font-size="47">S8</text>
<text x="2634" y="3089" font-size="47">S7</text>
<text x="2629" y="3161" font-size="47">S6</text>
<text x="2615" y="3253" font-size="47">S5b</text>
<text x="2615" y="3353" font-size="47">S5a</text>
<text x="2621" y="3457" font-size="47">S4</text>
<text x="2621" y="3573" font-size="47">S3</text>
<text x="2607" y="3660" font-size="47">S2b?</text>
<polyline points="2996,3034 2996,3680" fill="none" stroke="#333" stroke-width="1.3"/>
<polyline points="3039,3034 3039,3680" fill="none" stroke="#333" stroke-width="1.3"/>
<polyline points="3083,3034 3083,3680" fill="none" stroke="#333" stroke-width="1.3"/>
<text x="3025" y="2952" font-size="32" font-weight="bold" text-anchor="middle">GR</text>
<text x="3025" y="2982" font-size="24" text-anchor="middle">(µg Ra<tspan dy="-9" font-size="14"> -1</tspan><tspan dy="9">)</tspan></text>
<text transform="translate(2957 3026) scale(0.72 1)" font-size="30" font-weight="bold" text-anchor="middle" fill="#111">0</text>
<text transform="translate(3001 3026) scale(0.72 1)" font-size="30" font-weight="bold" text-anchor="middle" fill="#111">1.5</text>
<text transform="translate(3043 3026) scale(0.72 1)" font-size="30" font-weight="bold" text-anchor="middle" fill="#111">3</text>
<text transform="translate(3086 3026) scale(0.72 1)" font-size="30" font-weight="bold" text-anchor="middle" fill="#111">4.5</text>
<polyline points="2982,3119 3100,3119" fill="none" stroke="#2e7fc0" stroke-width="1.5" stroke-dasharray="22 14"/>
<polyline points="2982,3187 3100,3187" fill="none" stroke="#2e7fc0" stroke-width="1.5" stroke-dasharray="22 14"/>
<polyline points="2982,3282 3100,3282" fill="none" stroke="#2e7fc0" stroke-width="1.5" stroke-dasharray="22 14"/>
<polyline points="2982,3401 3100,3401" fill="none" stroke="#2e7fc0" stroke-width="1.5" stroke-dasharray="22 14"/>
<polyline points="2982,3488 3100,3488" fill="none" stroke="#2e7fc0" stroke-width="1.5" stroke-dasharray="22 14"/>
<polyline points="2982,3563 3100,3563" fill="none" stroke="#2e7fc0" stroke-width="1.5" stroke-dasharray="22 14"/>
<polyline points="2982,3599 3100,3599" fill="none" stroke="#2e7fc0" stroke-width="1.5" stroke-dasharray="22 14"/>
<polyline points="2982,3676 3100,3676" fill="none" stroke="#2e7fc0" stroke-width="1.5" stroke-dasharray="22 14"/>
<polyline points="3047,3078 3037.9,3080 3054.6,3082 3058.6,3084 3048.2,3086 3050.1,3088 3039.3,3090 3036.3,3092 3037.1,3094 3047.5,3096 3038.5,3098 3054.9,3100 3037.1,3102 3034.9,3104 3031.6,3106 3047.8,3108 3042.5,3110 3043.5,3112 3040.2,3114 3047,3116 3043.2,3118 3037.1,3120 3040.9,3122 3038.8,3124 3033.3,3126 3049.7,3128 3050.9,3130" fill="none" stroke="#111" stroke-width="1.6" stroke-linejoin="round"/>
<polyline points="3030.6,3130 3035.1,3132 3030.9,3134 3036.4,3136 3036.8,3138 3034.1,3140 3036.2,3142 3036.2,3144 3029.6,3146 3033.8,3148 3036.1,3150 3035.6,3152 3040,3154 3039.5,3156 3034.8,3158 3031.5,3160 3029.3,3162 3037.2,3164 3038,3166 3037.3,3168 3035,3170 3035,3172 3031.5,3174 3034.3,3176 3030.3,3178 3035.1,3180 3036.7,3182 3037.6,3184 3032.6,3186 3029.1,3188 3031.1,3190 3036.2,3192 3035.5,3194 3038.3,3196 3035.1,3198 3033.8,3200" fill="none" stroke="#111" stroke-width="2.4" stroke-linejoin="round"/>
<polyline points="3025.8,3200 3020.7,3202 3023.6,3204 3025.3,3206 3017.7,3208 3013.2,3210 3020.6,3212 3015.7,3214 3018.5,3216 3028.2,3218 3031.6,3220 3020.7,3222 3016.5,3224 3017.5,3226 3028,3228 3018.6,3230 3018.8,3232 3017,3234 3016.7,3236 3023.2,3238 3019.8,3240 3022.3,3242 3028.4,3244 3030.3,3246 3025.7,3248 3030,3250 3027.8,3252 3031,3254 3022.4,3256 3021.1,3258 3023.7,3260 3030.3,3262 3026.9,3264 3023,3266 3017.6,3268 3015.8,3270 3013.7,3272 3025.2,3274 3027.2,3276 3027.6,3278 3021.3,3280 3021.6,3282 3014.6,3284 3014.8,3286 3008.9,3288 3011,3290 3008.6,3292 3005,3294 3016.8,3296 3007.2,3298 3015.2,3300 3016,3302 3006,3304 3008.8,3306 3018,3308 3021,3310 3015,3312 3016.2,3314 3015.6,3316 3008.5,3318 3010.3,3320 3011.8,3322 3009.1,3324 3015.3,3326 3011.4,3328 3015.3,3330 3005.6,3332 3008.8,3334 3003.6,3336 3011.9,3338 3018.9,3340 3016.2,3342 3016,3344 3017.3,3346 3011.7,3348 3012.7,3350 3016.6,3352 3019.5,3354 3016.6,3356 3017.5,3358 3015.9,3360 3019.4,3362 3023,3364 3019,3366 3023.8,3368 3028.5,3370 3025.4,3372 3031.9,3374 3023.5,3376 3030.8,3378 3021.5,3380 3021.5,3382 3029.1,3384 3019.1,3386 3047.3,3388 3053.7,3390 3057.2,3392 3054.2,3394 3047.7,3396 3045.1,3398 3049.1,3400" fill="none" stroke="#111" stroke-width="2.4" stroke-linejoin="round"/>
<polyline points="3038.6,3400 3040.3,3402 3038.4,3404 3028.5,3406 3027.2,3408 3034.1,3410 3038.4,3412 3025.3,3414 3023.7,3416 3037,3418 3027.3,3420 3034.1,3422 3030.5,3424 3035.4,3426 3041.3,3428 3038.2,3430 3033.7,3432 3031,3434 3035.7,3436 3037.6,3438 3034.3,3440 3034.3,3442 3035.7,3444 3031.1,3446 3028.1,3448 3034.3,3450 3027.8,3452 3034.9,3454 3041.2,3456 3044,3458 3034.1,3460 3033.8,3462 3043.1,3464 3035.7,3466 3045,3468 3033.5,3470 3041.4,3472 3029.1,3474 3036.5,3476 3041.6,3478 3038.4,3480 3038.9,3482 3044.2,3484 3047.5,3486 3033.2,3488 3034.5,3490 3025.8,3492 3029,3494 3025.6,3496 3024.5,3498 3032.7,3500 3025.2,3502 3023.8,3504 3020.4,3506 3034.1,3508 3028,3510 3022.5,3512 3030.7,3514 3035.1,3516 3034.9,3518 3033,3520 3032,3522 3034.9,3524 3028,3526 3035.4,3528 3035,3530 3037.7,3532 3039.1,3534 3038.4,3536 3032,3538 3029.7,3540 3032.6,3542 3030.6,3544 3019.4,3546 3031.9,3548 3022.7,3550 3024.7,3552 3024.6,3554 3017.7,3556 3024.3,3558 3026.7,3560 3031.6,3562 3029.4,3564 3022.8,3566 3025.2,3568 3033.4,3570 3030.1,3572 3032.8,3574 3018.1,3576 3025.6,3578 3019.2,3580 3016,3582 3018.1,3584 3015.9,3586 3013.4,3588 3014.9,3590 3015.8,3592 3016.5,3594 3027,3596 3017.4,3598 3016.3,3600 3013.2,3602 3020.7,3604 3018.2,3606 3023,3608 3019.4,3610 3017.4,3612 3022.3,3614 3016.3,3616 3029.6,3618 3028.4,3620 3024.9,3622 3026.8,3624 3035,3626 3029.6,3628 3026,3630 3021.6,3632 3023.3,3634 3031.4,3636 3031.4,3638 3025.3,3640 3035,3642 3024.3,3644 3024.9,3646 3033.2,3648 3038.9,3650 3032.5,3652 3024.2,3654 3033.2,3656 3035.4,3658 3030.4,3660 3036.1,3662 3049.7,3664 3040.2,3666 3041.1,3668 3042.8,3670 3056.8,3672 3054,3674 3061.7,3676 3065.7,3678 3056.3,3680" fill="none" stroke="#111" stroke-width="2.4" stroke-linejoin="round"/>
<polyline points="3008,3682 3004.9,3684 3016.5,3686 3027.3,3688 3021.1,3690 3031.9,3692 3030,3694 3029.1,3696 3036.1,3698 3050.4,3700 3046.1,3702 3058.8,3704 3060.2,3706 3060.2,3708 3074.2,3710 3075.1,3712 3077.2,3714 3087.1,3716 3091.6,3718 3078.8,3720 3090.5,3722 3086.8,3724 3093,3726 3092.3,3728 3086,3730 3078.1,3732 3089.7,3734 3095.2,3736 3089.3,3738 3076.4,3740 3086.8,3742 3089.1,3744 3092.2,3746 3095.2,3748 3096.1,3750 3091.2,3752 3082.1,3754 3081.6,3756 3080.6,3758 3085.4,3760 3084,3762 3087.4,3764 3081.8,3766 3081,3768 3088.3,3770 3086.8,3772 3088.9,3774 3084.3,3776 3070.3,3778 3071.1,3780 3068.3,3782 3066.3,3784 3062.3,3786 3060.2,3788 3066.8,3790 3075,3792 3079.2,3794 3082.4,3796 3074.9,3798 3059.9,3800 3058,3802 3054,3804 3069.3,3806 3062.7,3808 3068.5,3810 3064.4,3812 3065.4,3814 3071.1,3816 3068.6,3818 3055.1,3820 3061.9,3822 3058.1,3824 3069.6,3826 3058.4,3828 3053.8,3830 3066.2,3832 3060.5,3834 3053.3,3836 3067.2,3838 3075.9,3840 3071.4,3842 3064.3,3844 3078,3846 3073.1,3848 3070.9,3850 3067.4,3852 3085.3,3854 3079.5,3856 3076.6,3858 3082.3,3860" fill="none" stroke="#111" stroke-width="2.4" stroke-linejoin="round"/>
<path d="M3022 3232 Q3015.7 3220.3 3016.3 3220.6" fill="none" stroke="#e8202a" stroke-width="2"/>
<polygon points="3004,3214 3019.3,3215.1 3013.3,3226.2" fill="#e8202a"/>
<path d="M3002 3278 Q2999.9 3263.2 2999.3 3262.5" fill="none" stroke="#e8202a" stroke-width="2"/>
<polygon points="2990,3252 3004,3258.3 2994.6,3266.7" fill="#e8202a"/>
<path d="M3002 3390 Q2998.1 3381.2 3001.8 3383.6" fill="none" stroke="#e8202a" stroke-width="2"/>
<polygon points="2990,3376 3005.2,3378.3 2998.4,3388.9" fill="#e8202a"/>
<path d="M3008 3430 Q3003.4 3419.9 3005.9 3421.4" fill="none" stroke="#e8202a" stroke-width="2"/>
<polygon points="2994,3414 3009.2,3416.1 3002.5,3426.8" fill="#e8202a"/>
<path d="M3004 3456 Q3000.1 3447.2 3003.8 3449.6" fill="none" stroke="#e8202a" stroke-width="2"/>
<polygon points="2992,3442 3007.2,3444.3 3000.4,3454.9" fill="#e8202a"/>
<path d="M3004 3478 Q3000.4 3468.2 3003.3 3470.3" fill="none" stroke="#e8202a" stroke-width="2"/>
<polygon points="2992,3462 3007,3465.2 2999.5,3475.4" fill="#e8202a"/>
<path d="M3004 3650 Q3001.4 3640.5 3004.5 3643.2" fill="none" stroke="#e8202a" stroke-width="2"/>
<polygon points="2994,3634 3008.7,3638.5 3000.4,3648" fill="#e8202a"/>
<path d="M3006 3674 Q3002.4 3664.2 3005.3 3666.3" fill="none" stroke="#e8202a" stroke-width="2"/>
<polygon points="2994,3658 3009,3661.2 3001.5,3671.4" fill="#e8202a"/>
<path d="M2998 3208 Q3000.8 3196.8 2998.4 3197.4" fill="none" stroke="#2a9fe0" stroke-width="2"/>
<polygon points="3012,3194 2999.9,3203.5 2996.9,3191.3" fill="#2a9fe0"/>
<path d="M2992 3302 Q2997.4 3290.6 2996 3290.7" fill="none" stroke="#2a9fe0" stroke-width="2"/>
<polygon points="3010,3290 2996.3,3297 2995.7,3284.4" fill="#2a9fe0"/>
<path d="M2996 3512 Q2997.4 3496.2 2999.1 3495.5" fill="none" stroke="#2a9fe0" stroke-width="2"/>
<polygon points="3012,3490 3001.6,3501.3 2996.7,3489.7" fill="#2a9fe0"/>
<path d="M2996 3540 Q2998 3525.2 2998.9 3524.9" fill="none" stroke="#2a9fe0" stroke-width="2"/>
<polygon points="3012,3520 3001.1,3530.8 2996.7,3519" fill="#2a9fe0"/>
<path d="M2996 3620 Q3001.2 3606 3002.1 3605.9" fill="none" stroke="#2a9fe0" stroke-width="2"/>
<polygon points="3016,3604 3003,3612.1 3001.3,3599.6" fill="#2a9fe0"/>
<text x="2989" y="3346" font-size="22" font-weight="bold" text-anchor="middle">?</text>
<text x="3005" y="3574" font-size="22" font-weight="bold" text-anchor="middle">?</text>
<rect x="2950" y="3034" width="30" height="7" fill="#fff"/>
<rect x="2950" y="3041" width="30" height="36" fill="url(#pcs)"/>
<rect x="2950" y="3077" width="30" height="42" fill="url(#pcl)"/>
<rect x="2950" y="3119" width="30" height="78" fill="url(#pcs)"/>
<rect x="2950" y="3197" width="30" height="168" fill="url(#pfs)"/>
<rect x="2950" y="3365" width="30" height="18" fill="url(#psc)"/>
<rect x="2950" y="3383" width="30" height="7" fill="url(#pcl)"/>
<rect x="2950" y="3390" width="30" height="45" fill="url(#psc)"/>
<rect x="2950" y="3435" width="30" height="10" fill="url(#pfs)"/>
<rect x="2950" y="3445" width="30" height="12" fill="url(#pcl)"/>
<rect x="2950" y="3457" width="30" height="10" fill="url(#pcs)"/>
<rect x="2950" y="3467" width="30" height="38" fill="url(#pcl)"/>
<rect x="2950" y="3505" width="30" height="6" fill="url(#pcs)"/>
<rect x="2950" y="3511" width="30" height="152" fill="url(#pcl)"/>
<rect x="2950" y="3663" width="30" height="12" fill="url(#psc)"/>
<rect x="2950" y="3675" width="30" height="5" fill="url(#pcl)"/>
<rect x="2950" y="3680" width="30" height="142" fill="#f49ab3"/>
<rect x="2950" y="3822" width="30" height="140" fill="#52a846"/>
<rect x="2950" y="3962" width="30" height="126" fill="#12bff0"/>
<polyline points="2980,3034 2980,4088" fill="none" stroke="#111" stroke-width="2"/>
<polyline points="2950,3034 2980,3034" fill="none" stroke="#111" stroke-width="1.2"/>
<polygon points="3086,3041 3140,3041 3113,3115" fill="#c49a6c" stroke="#111" stroke-width="1.5" stroke-linejoin="round"/>
<polygon points="3113,3115 3140,3128 3086,3128" fill="#c49a6c" stroke="#111" stroke-width="1.5" stroke-linejoin="round"/>
<polygon points="3086,3128 3140,3128 3113,3186" fill="#fff200" stroke="#111" stroke-width="1.5" stroke-linejoin="round"/>
<polygon points="3113,3186 3140,3208 3086,3208" fill="#fff200" stroke="#111" stroke-width="1.5" stroke-linejoin="round"/>
<polygon points="3086,3208 3140,3208 3113,3283" fill="#f2f5d0" stroke="#111" stroke-width="1.5" stroke-linejoin="round"/>
<polygon points="3113,3283 3140,3306 3086,3306" fill="#f2f5d0" stroke="#111" stroke-width="1.5" stroke-linejoin="round"/>
<polygon points="3086,3306 3140,3306 3113,3397" fill="#f4f59a" stroke="#111" stroke-width="1.5" stroke-linejoin="round"/>
<polygon points="3113,3397 3140,3406 3086,3406" fill="#f2f5d0" stroke="#111" stroke-width="1.5" stroke-linejoin="round"/>
<polygon points="3086,3406 3140,3406 3113,3487" fill="#3bf51f" stroke="#111" stroke-width="1.5" stroke-linejoin="round"/>
<polygon points="3113,3487 3140,3541 3086,3541" fill="#3bf51f" stroke="#111" stroke-width="1.5" stroke-linejoin="round"/>
<polygon points="3086,3541 3140,3541 3113,3602" fill="#5cb80f" stroke="#111" stroke-width="1.5" stroke-linejoin="round"/>
<polygon points="3113,3602 3140,3628 3086,3628" fill="#5cb80f" stroke="#111" stroke-width="1.5" stroke-linejoin="round"/>
<polygon points="3086,3628 3140,3628 3113,3675" fill="#a5e8e8" stroke="#111" stroke-width="1.5" stroke-linejoin="round"/>
<polygon points="3113,3675 3140,3681 3086,3681" fill="#a5e8e8" stroke="#111" stroke-width="1.5" stroke-linejoin="round"/>
<rect x="2929.5" y="2758" width="5.5" height="1330" fill="#222"/>
<rect x="2781" y="2758" width="151" height="57" fill="#000"/>
<text x="2856" y="2802" font-size="45.5" font-weight="bold" text-anchor="middle" fill="#fff">MO-3</text>
<rect x="2943.2" y="2758" width="5.5" height="1330" fill="#222"/>
<rect x="2946" y="2758" width="149" height="57" fill="#000"/>
<text x="3022" y="2802.8" font-size="45.5" font-weight="bold" text-anchor="middle" fill="#fff">MO-1</text>
<polyline points="2594,2961 2655,3041 3140,3044 3304,3025" fill="none" stroke="#111" stroke-width="4"/>
<rect x="2886.5" y="3031.5" width="19" height="19" fill="#fff" stroke="#111" stroke-width="2.5"/>
<rect x="2936.5" y="3031.5" width="19" height="19" fill="#fff" stroke="#111" stroke-width="2.5"/>
<rect x="2136" y="2794" width="458" height="228" fill="#c66f47" stroke="#111" stroke-width="3" rx="7"/>
<text x="2145" y="2837" font-size="36.3" font-weight="bold" fill="#000">+370-380 m</text>
<text x="2145" y="2881" font-size="36.3" font-weight="bold" fill="#000">MN9-10: 11.2-9 Ma</text>
<text x="2145" y="2925" font-size="36.3" fill="#000">Around 1 km, occurence of</text>
<text x="2145" y="2969" font-size="36.3" fill="#000"><tspan font-style="italic">Hipparion gracile</tspan> in m2BM</text>
<text x="2145" y="3013" font-size="36.3" fill="#000">unit of Arnaud et al. (1975)</text>
<text x="2875" y="3892" font-size="49" font-weight="bold" text-anchor="middle">Montmiral</text>
<text x="2876" y="3952" font-size="49" font-weight="bold" text-anchor="middle">high</text>
<polyline points="3366,2954 3366,3877" fill="none" stroke="#555" stroke-width="1.1"/>
<polyline points="3412,2954 3412,3877" fill="none" stroke="#555" stroke-width="1.1"/>
<polyline points="3458,2954 3458,3877" fill="none" stroke="#555" stroke-width="1.1"/>
<polyline points="3506,2954 3506,3877" fill="none" stroke="#555" stroke-width="1.1"/>
<text x="3382" y="2918" font-size="32" font-weight="bold">SP</text>
<text x="3441" y="2914" font-size="24">(mV)</text>
<text transform="translate(3366 2946) scale(0.72 1)" font-size="30" font-weight="bold" text-anchor="middle" fill="#111">-10</text>
<text transform="translate(3509 2946) scale(0.72 1)" font-size="30" font-weight="bold" text-anchor="middle" fill="#111">+50</text>
<polyline points="3350,3057 3404,3057" fill="none" stroke="#2e7fc0" stroke-width="1.5" stroke-dasharray="22 14"/>
<polyline points="3350,3172 3404,3172" fill="none" stroke="#2e7fc0" stroke-width="1.5" stroke-dasharray="22 14"/>
<polyline points="3350,3328 3404,3328" fill="none" stroke="#2e7fc0" stroke-width="1.5" stroke-dasharray="22 14"/>
<polyline points="3350,3426 3404,3426" fill="none" stroke="#2e7fc0" stroke-width="1.5" stroke-dasharray="22 14"/>
<polyline points="3350,3511 3404,3511" fill="none" stroke="#2e7fc0" stroke-width="1.5" stroke-dasharray="22 14"/>
<polyline points="3350,3650 3404,3650" fill="none" stroke="#2e7fc0" stroke-width="1.5" stroke-dasharray="22 14"/>
<polyline points="3350,3698 3404,3698" fill="none" stroke="#2e7fc0" stroke-width="1.5" stroke-dasharray="22 14"/>
<polyline points="3350,3728 3404,3728" fill="none" stroke="#2e7fc0" stroke-width="1.5" stroke-dasharray="22 14"/>
<polyline points="3350,3755 3404,3755" fill="none" stroke="#2e7fc0" stroke-width="1.5" stroke-dasharray="22 14"/>
<polyline points="3507.4,2990 3499.3,2992.5 3497.8,2995 3491.6,2997.5 3485.2,3000 3481,3002.5 3473.2,3005 3466.7,3007.5 3462.5,3010 3456.5,3012.5 3454.1,3015 3397.6,3017.5 3396.7,3020 3395.1,3022.5 3393.5,3025 3395.9,3027.5 3398.5,3030 3395.8,3032.5 3397.2,3035 3394.3,3037.5 3395.6,3040 3392.4,3042.5 3392.6,3045 3391.3,3047.5 3393.7,3050 3394.1,3052.5 3389.4,3055 3386.3,3057.5 3386.8,3060 3385.1,3062.5 3384,3065 3388.3,3067.5 3390.5,3070 3385,3072.5 3381.5,3075 3383.5,3077.5 3386.8,3080 3388.1,3082.5 3387.3,3085 3386.9,3087.5 3384.6,3090 3383,3092.5 3384.5,3095 3379.8,3097.5 3380.8,3100" fill="none" stroke="#7fc8d8" stroke-width="1.2" stroke-linejoin="round"/>
<polyline points="3384.9,3100 3386.2,3102.5 3386.8,3105 3387.7,3107.5 3389.5,3110 3389.8,3112.5 3386.7,3115 3385.3,3117.5 3385.9,3120 3386,3122.5 3389.4,3125 3390.3,3127.5 3389.3,3130 3388.2,3132.5 3386.9,3135 3388.4,3137.5 3391.2,3140 3388.6,3142.5 3388.7,3145 3388.3,3147.5 3389.6,3150 3388.4,3152.5 3386.7,3155 3389.2,3157.5 3388.7,3160 3390.4,3162.5 3392.9,3165 3392.6,3167.5 3394.4,3170 3394.8,3172.5 3390.9,3175 3389.6,3177.5 3391.3,3180 3391.2,3182.5 3388.5,3185 3391.5,3187.5 3392.4,3190 3391.7,3192.5 3391.7,3195 3389.7,3197.5 3390.7,3200 3388.9,3202.5 3390.8,3205 3393.6,3207.5 3391,3210 3389.7,3212.5 3390.7,3215 3392.9,3217.5 3390.2,3220 3389.7,3222.5 3390.6,3225 3388.6,3227.5 3386.7,3230 3389.5,3232.5 3390.3,3235 3390.5,3237.5 3390.3,3240 3387.6,3242.5 3388,3245 3388.2,3247.5 3388.4,3250 3386.4,3252.5 3384.6,3255 3385.9,3257.5 3387.6,3260 3388.4,3262.5 3390.3,3265 3388.1,3267.5 3386.7,3270 3385.5,3272.5 3385.6,3275 3386.5,3277.5 3388,3280 3384.3,3282.5 3384.8,3285 3386,3287.5 3386.5,3290 3384.9,3292.5 3381.7,3295 3381.1,3297.5 3382.1,3300 3383.7,3302.5 3381.3,3305 3380.3,3307.5 3379.8,3310 3377.6,3312.5 3381.4,3315 3380,3317.5 3379.5,3320 3382.1,3322.5 3382.5,3325 3379.7,3327.5 3381.7,3330 3382.1,3332.5 3380.7,3335 3379.1,3337.5 3380.3,3340 3381.3,3342.5 3380.4,3345 3377.7,3347.5 3379.1,3350 3378.7,3352.5 3379.9,3355 3379.8,3357.5 3379,3360 3379.6,3362.5 3377.2,3365 3376.6,3367.5 3377,3370 3375.4,3372.5 3372.6,3375 3374.9,3377.5 3374.5,3380 3373.7,3382.5 3373.6,3385 3372.2,3387.5 3374.4,3390 3372.5,3392.5 3371.1,3395 3372.4,3397.5 3372.3,3400 3371.3,3402.5 3369.3,3405 3370.1,3407.5 3370.5,3410 3371.5,3412.5 3372.6,3415 3371.1,3417.5 3369.1,3420 3367.8,3422.5 3369.9,3425 3373.4,3427.5 3374.4,3430 3376.1,3432.5 3372.7,3435 3371,3437.5 3372.9,3440 3372.4,3442.5 3372.1,3445 3374.4,3447.5 3371.6,3450 3374.8,3452.5 3372.5,3455 3373.5,3457.5 3374.6,3460 3374.7,3462.5 3375.7,3465 3374.1,3467.5 3372.8,3470 3374.5,3472.5 3377.3,3475 3374,3477.5 3372.4,3480 3376.5,3482.5 3373.8,3485 3372.6,3487.5 3374.2,3490 3374.2,3492.5 3376.5,3495 3376.6,3497.5 3378.7,3500 3376.1,3502.5 3375.3,3505 3374.7,3507.5 3378,3510 3381.2,3512.5 3379.7,3515 3378,3517.5 3376.2,3520 3375.9,3522.5 3380.4,3525 3383,3527.5 3384.5,3530 3381.3,3532.5 3378.8,3535 3382.7,3537.5 3383.6,3540 3385.1,3542.5 3386.2,3545 3386.8,3547.5 3382.3,3550 3384.7,3552.5 3384.4,3555 3386.7,3557.5 3383.6,3560 3383,3562.5 3381.1,3565 3383.8,3567.5 3384.4,3570 3386.4,3572.5 3385.9,3575 3387,3577.5 3385.3,3580 3382.5,3582.5 3381,3585 3380.1,3587.5 3379.3,3590 3383,3592.5 3385.1,3595 3388,3597.5 3388.5,3600 3385.4,3602.5 3383.5,3605 3383.4,3607.5 3383.2,3610 3381.9,3612.5 3384.8,3615 3386.2,3617.5 3385.3,3620 3385.6,3622.5 3385.9,3625 3385.8,3627.5 3386,3630 3386.2,3632.5 3388.3,3635 3385.6,3637.5 3382.6,3640 3381.1,3642.5 3382.8,3645 3383.1,3647.5 3385.7,3650 3385,3652.5 3386.6,3655 3387.1,3657.5 3384.5,3660 3382.1,3662.5 3383.1,3665 3382.1,3667.5 3380,3670 3377.9,3672.5 3381.1,3675 3383.8,3677.5 3383.8,3680 3380.2,3682.5 3377.3,3685 3378.9,3687.5 3378.5,3690 3381.2,3692.5 3379.9,3695 3380.4,3697.5 3376.8,3700 3374.5,3702.5 3377.1,3705 3377.8,3707.5 3379.6,3710 3377.6,3712.5 3377.3,3715 3376.5,3717.5 3377.6,3720 3377.2,3722.5 3378.2,3725 3374.6,3727.5 3375.2,3730 3373.9,3732.5 3375.3,3735 3373.9,3737.5 3371.4,3740 3369,3742.5 3370.2,3745 3368.7,3747.5 3371.2,3750 3373.4,3752.5 3371.3,3755 3372.4,3757.5 3372.5,3760" fill="none" stroke="#7fcfc8" stroke-width="1.2" stroke-linejoin="round"/>
<polyline points="3380.3,3762 3385.9,3764.5 3387.8,3767 3381.8,3769.5 3383.6,3772 3381.5,3774.5 3386.8,3777 3389.6,3779.5 3385.8,3782 3386.5,3784.5 3385.8,3787 3383.3,3789.5 3383.3,3792 3382.9,3794.5 3383.4,3797 3388.6,3799.5 3389.5,3802 3383,3804.5 3382.3,3807 3388.1,3809.5 3389.5,3812 3388.8,3814.5 3388.7,3817 3389.1,3819.5 3384.1,3822 3383.5,3824.5 3381.9,3827 3380,3829.5 3383.9,3832 3379.7,3834.5 3378.6,3837 3383.3,3839.5 3387.9,3842 3384.8,3844.5 3388.4,3847 3390.4,3849.5 3384.8,3852 3389,3854.5 3384.1,3857 3384.2,3859.5 3380.3,3862 3378.1,3864.5 3382.5,3867 3386.9,3869.5 3382.3,3872 3381.6,3874.5" fill="none" stroke="#9ab4d8" stroke-width="1.2" stroke-linejoin="round"/>
<path d="M3380 3118 Q3376.8 3102.8 3375.5 3101.9" fill="none" stroke="#e8202a" stroke-width="2"/>
<polygon points="3364,3094 3379.1,3096.7 3372,3107.1" fill="#e8202a"/>
<path d="M3380 3164 Q3379 3146.2 3376.2 3143.6" fill="none" stroke="#e8202a" stroke-width="2"/>
<polygon points="3366,3134 3380.5,3139 3371.9,3148.2" fill="#e8202a"/>
<path d="M3378 3240 Q3374.2 3223.4 3371.7 3221.7" fill="none" stroke="#e8202a" stroke-width="2"/>
<polygon points="3360,3214 3375.2,3216.5 3368.2,3227" fill="#e8202a"/>
<path d="M3376 3286 Q3375.4 3267.2 3372 3263.8" fill="none" stroke="#e8202a" stroke-width="2"/>
<polygon points="3362,3254 3376.4,3259.3 3367.6,3268.3" fill="#e8202a"/>
<path d="M3378 3352 Q3382.4 3341 3383.2 3343" fill="none" stroke="#e8202a" stroke-width="2"/>
<polygon points="3378,3330 3389,3340.7 3377.4,3345.3" fill="#e8202a"/>
<path d="M3386 3374 Q3384.2 3364 3387.3 3366.3" fill="none" stroke="#e8202a" stroke-width="2"/>
<polygon points="3376,3358 3391,3361.2 3383.6,3371.4" fill="#e8202a"/>
<path d="M3384 3420 Q3385 3403 3383 3400.7" fill="none" stroke="#e8202a" stroke-width="2"/>
<polygon points="3374,3390 3387.9,3396.6 3378.2,3404.8" fill="#e8202a"/>
<path d="M3386 3456 Q3389.6 3447 3391.2 3451" fill="none" stroke="#e8202a" stroke-width="2"/>
<polygon points="3386,3438 3397,3448.7 3385.4,3453.3" fill="#e8202a"/>
<path d="M3386 3488 Q3390.4 3477 3391.2 3479" fill="none" stroke="#e8202a" stroke-width="2"/>
<polygon points="3386,3466 3397,3476.7 3385.4,3481.3" fill="#e8202a"/>
<path d="M3378 3512 Q3374.8 3502.6 3378.4 3504.5" fill="none" stroke="#e8202a" stroke-width="2"/>
<polygon points="3366,3498 3381.3,3498.9 3375.5,3510.1" fill="#e8202a"/>
<path d="M3360 3668 Q3362.6 3629.6 3346.9 3610.8" fill="none" stroke="#e8202a" stroke-width="2"/>
<polygon points="3338,3600 3351.8,3606.7 3342.1,3614.8" fill="#e8202a"/>
<path d="M3358 3722 Q3357.4 3703.2 3354 3699.8" fill="none" stroke="#e8202a" stroke-width="2"/>
<polygon points="3344,3690 3358.4,3695.3 3349.6,3704.3" fill="#e8202a"/>
<path d="M3362 3748 Q3358.4 3739.6 3362.9 3741.5" fill="none" stroke="#e8202a" stroke-width="2"/>
<polygon points="3350,3736 3365.3,3735.7 3360.4,3747.3" fill="#e8202a"/>
<path d="M3352 3052 Q3366 3055 3366.3 3055.1" fill="none" stroke="#2a9fe0" stroke-width="2"/>
<polygon points="3380,3058 3365,3061.2 3367.6,3048.9" fill="#2a9fe0"/>
<path d="M3350 3182 Q3361 3179 3358.5 3179.7" fill="none" stroke="#2a9fe0" stroke-width="2"/>
<polygon points="3372,3176 3360.2,3185.8 3356.8,3173.6" fill="#2a9fe0"/>
<path d="M3354 3326 Q3365 3326 3362 3326" fill="none" stroke="#2a9fe0" stroke-width="2"/>
<polygon points="3376,3326 3362,3332.3 3362,3319.7" fill="#2a9fe0"/>
<path d="M3370 3560 Q3376 3550 3374.8 3552" fill="none" stroke="#2a9fe0" stroke-width="2"/>
<polygon points="3382,3540 3380.2,3555.2 3369.4,3548.8" fill="#2a9fe0"/>
<path d="M3356 3730 Q3361 3730 3352 3730" fill="none" stroke="#2a9fe0" stroke-width="2"/>
<polygon points="3366,3730 3352,3736.3 3352,3723.7" fill="#2a9fe0"/>
<path d="M3356 3758 Q3360 3758 3350 3758" fill="none" stroke="#2a9fe0" stroke-width="2"/>
<polygon points="3364,3758 3350,3764.3 3350,3751.7" fill="#2a9fe0"/>
<text x="3474" y="3134" font-size="24" font-weight="bold" text-anchor="middle">?</text>
<rect x="3308" y="2954" width="30" height="27" fill="url(#psc)"/>
<rect x="3308" y="2981" width="30" height="36" fill="url(#pca)"/>
<rect x="3308" y="3017" width="30" height="81" fill="url(#pcl)"/>
<rect x="3308" y="3098" width="30" height="6.8" fill="url(#psc)"/>
<rect x="3308" y="3104.8" width="30" height="8.3" fill="url(#pcl)"/>
<rect x="3308" y="3113.1" width="30" height="8.3" fill="url(#pfs)"/>
<rect x="3308" y="3121.4" width="30" height="4.1" fill="url(#pcl)"/>
<rect x="3308" y="3125.5" width="30" height="3.1" fill="url(#psc)"/>
<rect x="3308" y="3128.6" width="30" height="6" fill="url(#pcl)"/>
<rect x="3308" y="3134.6" width="30" height="5.2" fill="url(#psc)"/>
<rect x="3308" y="3139.8" width="30" height="9.5" fill="url(#pcl)"/>
<rect x="3308" y="3149.3" width="30" height="8.5" fill="url(#pfs)"/>
<rect x="3308" y="3157.8" width="30" height="7.8" fill="url(#pcl)"/>
<rect x="3308" y="3165.6" width="30" height="7.5" fill="url(#psc)"/>
<rect x="3308" y="3173.1" width="30" height="8.3" fill="url(#pcl)"/>
<rect x="3308" y="3181.4" width="30" height="4.2" fill="url(#psc)"/>
<rect x="3308" y="3185.5" width="30" height="6.5" fill="url(#pcl)"/>
<rect x="3308" y="3192.1" width="30" height="4.3" fill="url(#pfs)"/>
<rect x="3308" y="3196.4" width="30" height="10.2" fill="url(#pcl)"/>
<rect x="3308" y="3206.6" width="30" height="3.5" fill="url(#psc)"/>
<rect x="3308" y="3210.1" width="30" height="9.6" fill="url(#pcl)"/>
<rect x="3308" y="3219.6" width="30" height="3.6" fill="url(#psc)"/>
<rect x="3308" y="3223.2" width="30" height="8.5" fill="url(#pcl)"/>
<rect x="3308" y="3231.7" width="30" height="5.7" fill="url(#pfs)"/>
<rect x="3308" y="3237.4" width="30" height="6.2" fill="url(#pcl)"/>
<rect x="3308" y="3243.7" width="30" height="9.7" fill="url(#psc)"/>
<rect x="3308" y="3253.4" width="30" height="3.1" fill="url(#pcl)"/>
<rect x="3308" y="3256.5" width="30" height="3.5" fill="url(#psc)"/>
<rect x="3308" y="3260" width="30" height="10.3" fill="url(#pcl)"/>
<rect x="3308" y="3270.4" width="30" height="7.1" fill="url(#pfs)"/>
<rect x="3308" y="3277.4" width="30" height="3.7" fill="url(#pcl)"/>
<rect x="3308" y="3281.2" width="30" height="10.9" fill="url(#psc)"/>
<rect x="3308" y="3292" width="30" height="10.6" fill="url(#pcl)"/>
<rect x="3308" y="3302.6" width="30" height="3.9" fill="url(#psc)"/>
<rect x="3308" y="3306.5" width="30" height="6.4" fill="url(#pcl)"/>
<rect x="3308" y="3312.9" width="30" height="4.1" fill="url(#pfs)"/>
<rect x="3308" y="3317" width="30" height="5.5" fill="url(#pcl)"/>
<rect x="3308" y="3322.5" width="30" height="8" fill="url(#psc)"/>
<rect x="3308" y="3330.5" width="30" height="4.3" fill="url(#pcl)"/>
<rect x="3308" y="3334.8" width="30" height="8.6" fill="url(#psc)"/>
<rect x="3308" y="3343.3" width="30" height="3.4" fill="url(#pcl)"/>
<rect x="3308" y="3346.8" width="30" height="4.4" fill="url(#pfs)"/>
<rect x="3308" y="3351.1" width="30" height="6.9" fill="url(#pcl)"/>
<rect x="3308" y="3358" width="30" height="78" fill="url(#pcl)"/>
<rect x="3308" y="3436" width="30" height="49" fill="url(#psc)"/>
<rect x="3308" y="3485" width="30" height="5" fill="url(#pcl)"/>
<rect x="3308" y="3490" width="30" height="20" fill="url(#psc)"/>
<rect x="3308" y="3510" width="30" height="14" fill="url(#pcl)"/>
<rect x="3308" y="3524" width="30" height="123" fill="url(#pfs)"/>
<rect x="3308" y="3647" width="30" height="28" fill="url(#pcl)"/>
<rect x="3308" y="3675" width="30" height="5" fill="url(#pfs)"/>
<rect x="3308" y="3680" width="30" height="43" fill="url(#pcl)"/>
<rect x="3308" y="3723" width="30" height="22" fill="url(#pfs)"/>
<rect x="3308" y="3745" width="30" height="18" fill="url(#pcl)"/>
<rect x="3308" y="3763" width="30" height="325" fill="#f49ab3"/>
<polyline points="3338,2954 3338,4088" fill="none" stroke="#111" stroke-width="2"/>
<polyline points="3308,2954 3338,2954" fill="none" stroke="#111" stroke-width="1.2"/>
<polygon points="3247,2954 3301,2954 3274,2977" fill="#8b5e34" stroke="#111" stroke-width="1.5" stroke-linejoin="round"/>
<polygon points="3247,2980 3301,2980 3274,3113" fill="#c49a6c" stroke="#111" stroke-width="1.5" stroke-linejoin="round"/>
<polygon points="3274,3113 3301,3129 3247,3129" fill="#c49a6c" stroke="#111" stroke-width="1.5" stroke-linejoin="round"/>
<polygon points="3247,3129 3301,3129 3274,3172" fill="#fff200" stroke="#111" stroke-width="1.5" stroke-linejoin="round"/>
<polygon points="3274,3172 3301,3198 3247,3198" fill="#fff200" stroke="#111" stroke-width="1.5" stroke-linejoin="round"/>
<polygon points="3247,3198 3301,3198 3274,3328" fill="#f2f5d0" stroke="#111" stroke-width="1.5" stroke-linejoin="round"/>
<polygon points="3274,3328 3301,3337 3247,3337" fill="#f2f5d0" stroke="#111" stroke-width="1.5" stroke-linejoin="round"/>
<polygon points="3247,3337 3301,3337 3274,3426" fill="#f4f59a" stroke="#111" stroke-width="1.5" stroke-linejoin="round"/>
<polygon points="3274,3426 3301,3437 3247,3437" fill="#f2f5d0" stroke="#111" stroke-width="1.5" stroke-linejoin="round"/>
<polygon points="3247,3437 3301,3437 3274,3511" fill="#3bf51f" stroke="#111" stroke-width="1.5" stroke-linejoin="round"/>
<polygon points="3274,3511 3301,3588 3247,3588" fill="#3bf51f" stroke="#111" stroke-width="1.5" stroke-linejoin="round"/>
<polygon points="3247,3588 3301,3588 3274,3683" fill="#5cb80f" stroke="#111" stroke-width="1.5" stroke-linejoin="round"/>
<polygon points="3274,3683 3301,3688 3247,3688" fill="#5cb80f" stroke="#111" stroke-width="1.5" stroke-linejoin="round"/>
<polygon points="3247,3688 3301,3688 3274,3729" fill="#a5e8e8" stroke="#111" stroke-width="1.5" stroke-linejoin="round"/>
<polygon points="3274,3729 3301,3733 3247,3733" fill="#a5e8e8" stroke="#111" stroke-width="1.5" stroke-linejoin="round"/>
<polygon points="3247,3733 3301,3733 3274,3755" fill="#2f9bee" stroke="#111" stroke-width="1.5" stroke-linejoin="round"/>
<polygon points="3274,3755 3301,3763 3247,3763" fill="#2f9bee" stroke="#111" stroke-width="1.5" stroke-linejoin="round"/>
<text x="3160" y="3268" font-size="47">S5b</text>
<text x="3165" y="3407" font-size="47">S5a</text>
<text x="3142" y="3755" font-size="47">S2a?</text>
<polygon points="3219,3308.3 3228.4,3326.8 3249.1,3324.3 3234.4,3339 3243.1,3357.9 3224.6,3348.5 3209.4,3362.6 3212.6,3342.1 3194.4,3332 3214.9,3328.7" fill="#f2f5d0" stroke="#111" stroke-width="2" stroke-linejoin="miter"/>
<rect x="3301.2" y="2759" width="5.5" height="1329" fill="#222"/>
<rect x="3304" y="2759" width="151" height="58" fill="#000"/>
<text x="3377" y="2804.3" font-size="45.5" font-weight="bold" text-anchor="middle" fill="#fff">MO-2</text>
<rect x="3294.5" y="3015.5" width="19" height="19" fill="#fff" stroke="#111" stroke-width="2.5"/>
<polyline points="3676,3096 3676,3501" fill="none" stroke="#333" stroke-width="1.3"/>
<polyline points="3705,3096 3705,3501" fill="none" stroke="#333" stroke-width="1.3"/>
<text x="3572" y="3021" font-size="31" font-weight="bold">SP- reverse</text>
<text x="3670" y="3052" font-size="24">(mV)</text>
<text transform="translate(3659 3089) scale(0.72 1)" font-size="30" font-weight="bold" text-anchor="middle" fill="#111">+30</text>
<text transform="translate(3711 3089) scale(0.72 1)" font-size="30" font-weight="bold" text-anchor="middle" fill="#111">+10</text>
<polyline points="3560,3294 3735,3294" fill="none" stroke="#2e7fc0" stroke-width="1.5" stroke-dasharray="12 30"/>
<polyline points="3664,3219 3676,3218 3668,3226 3690,3270 3700,3295 3704,3320 3696,3324 3688,3330 3706,3352 3700,3366 3712,3372 3706,3392 3724,3398 3712,3420 3720,3440 3726,3452" fill="none" stroke="#111" stroke-width="3.5" stroke-linejoin="round"/>
<path d="M3692 3296 Q3678 3266 3669.9 3248.7" fill="none" stroke="#e8202a" stroke-width="2"/>
<polygon points="3664,3236 3675.6,3246 3664.2,3251.4" fill="#e8202a"/>
<path d="M3696 3388 Q3685 3366 3680.3 3356.5" fill="none" stroke="#e8202a" stroke-width="2"/>
<polygon points="3674,3344 3685.9,3353.7 3674.6,3359.3" fill="#e8202a"/>
<path d="M3674 3308 Q3678 3312 3673.5 3307.5" fill="none" stroke="#2a9fe0" stroke-width="2"/>
<polygon points="3682,3316 3669.7,3311.3 3677.3,3303.7" fill="#2a9fe0"/>
<rect x="3623" y="3096" width="30" height="128" fill="url(#pfs)"/>
<rect x="3623" y="3224" width="30" height="34" fill="url(#pcl)"/>
<rect x="3623" y="3258" width="30" height="12" fill="url(#pfs)"/>
<rect x="3623" y="3270" width="30" height="5" fill="url(#pcs)"/>
<rect x="3623" y="3275" width="30" height="17" fill="url(#pfs)"/>
<rect x="3623" y="3292" width="30" height="62" fill="url(#pcl)"/>
<rect x="3623" y="3354" width="30" height="3" fill="url(#pcs)"/>
<rect x="3623" y="3357" width="30" height="40" fill="url(#pcl)"/>
<rect x="3623" y="3397" width="30" height="3" fill="url(#pcs)"/>
<rect x="3623" y="3400" width="30" height="101" fill="url(#pcl)"/>
<rect x="3623" y="3501" width="30" height="566" fill="#f49ab3"/>
<rect x="3623" y="4067" width="30" height="15" fill="#52a846"/>
<polyline points="3653,3096 3653,4082" fill="none" stroke="#111" stroke-width="2"/>
<polyline points="3623,3096 3653,3096" fill="none" stroke="#111" stroke-width="1.2"/>
<polygon points="3558,3101 3616,3101 3587,3295" fill="#3bf51f" stroke="#111" stroke-width="1.5" stroke-linejoin="round"/>
<polygon points="3587,3295 3616,3320 3558,3320" fill="#3bf51f" stroke="#111" stroke-width="1.5" stroke-linejoin="round"/>
<polygon points="3558,3320 3616,3320 3587,3440" fill="#5cb80f" stroke="#111" stroke-width="1.5" stroke-linejoin="round"/>
<polygon points="3587,3440 3616,3455 3558,3455" fill="#5cb80f" stroke="#111" stroke-width="1.5" stroke-linejoin="round"/>
<polygon points="3558,3455 3616,3455 3587,3494" fill="#2f9bee" stroke="#111" stroke-width="1.5" stroke-linejoin="round"/>
<polygon points="3587,3494 3616,3501 3558,3501" fill="#2f9bee" stroke="#111" stroke-width="1.5" stroke-linejoin="round"/>
<text x="3504" y="3176" font-size="47">S4</text>
<text x="3504" y="3377" font-size="47">S3</text>
<text x="3462" y="3494" font-size="47">S2b?</text>
<polygon points="3534,3213.3 3543.4,3231.8 3564.1,3229.3 3549.4,3244 3558.1,3262.9 3539.6,3253.5 3524.4,3267.6 3527.6,3247.1 3509.4,3237 3529.9,3233.7" fill="#3bf51f" stroke="#111" stroke-width="2" stroke-linejoin="miter"/>
<rect x="3616.2" y="2759" width="5.5" height="1323" fill="#222"/>
<rect x="3619" y="2759" width="149" height="58" fill="#000"/>
<text x="3692" y="2804.3" font-size="45.5" font-weight="bold" text-anchor="middle" fill="#fff">SLF-1</text>
<polyline points="3878,3258 3878,3500" fill="none" stroke="#888" stroke-width="1.3"/>
<polyline points="3933,3258 3933,3500" fill="none" stroke="#888" stroke-width="1.3"/>
<text x="3912" y="3181" font-size="32" font-weight="bold" text-anchor="middle">GR</text>
<text x="3912" y="3212" font-size="24" text-anchor="middle">(µg Ra<tspan dy="-9" font-size="14">-1</tspan><tspan dy="9">)</tspan></text>
<text transform="translate(3874 3248) scale(0.72 1)" font-size="30" font-weight="bold" text-anchor="middle" fill="#111">3</text>
<text transform="translate(3932 3248) scale(0.72 1)" font-size="30" font-weight="bold" text-anchor="middle" fill="#111">6</text>
<polyline points="3913.7,3320 3921.2,3321.8 3919.7,3323.6 3929.7,3325.4 3926.6,3327.2 3923.8,3329 3931.4,3330.8 3920.5,3332.6 3928.6,3334.4 3922.4,3336.2 3925.7,3338 3932.5,3339.8 3931.3,3341.6 3926.9,3343.4 3929.6,3345.2 3914.7,3347 3918.4,3348.8 3928.2,3350.6 3928.9,3352.4 3923.1,3354.2 3916.9,3356 3917.4,3357.8 3919.2,3359.6 3913.4,3361.4 3928.2,3363.2 3926.9,3365 3924.1,3366.8 3916.2,3368.6 3916.7,3370.4 3918.6,3372.2 3913.8,3374 3916.2,3375.8 3917.6,3377.6 3925.4,3379.4 3931.2,3381.2 3914.9,3383 3912.5,3384.8 3926.3,3386.6 3913.4,3388.4 3914.5,3390.2 3921,3392 3922.4,3393.8 3916.4,3395.6 3925.4,3397.4 3927.3,3399.2 3913.6,3401 3923.8,3402.8 3920,3404.6 3921.3,3406.4 3923.3,3408.2 3925.4,3410 3929.1,3411.8 3917.7,3413.6 3914.5,3415.4 3913.8,3417.2 3913.1,3419 3925.2,3420.8 3930.2,3422.6 3921.7,3424.4 3925.7,3426.2 3929,3428 3931.4,3429.8 3930.3,3431.6 3926.1,3433.4 3929.3,3435.2 3920.7,3437 3923.5,3438.8 3917.8,3440.6 3918.8,3442.4 3918.6,3444.2 3920.9,3446 3911.6,3447.8 3917.6,3449.6 3920.6,3451.4 3929.8,3453.2 3928.6,3455 3916.9,3456.8 3918.3,3458.6 3926.1,3460.4 3914.8,3462.2 3927.2,3464 3914.4,3465.8 3923.2,3467.6 3923.7,3469.4 3931.7,3471.2 3922.3,3473 3918.2,3474.8 3914.4,3476.6 3915.2,3478.4 3916.3,3480.2 3921.9,3482 3917.5,3483.8 3914.2,3485.6 3927.1,3487.4 3914.8,3489.2 3929,3491 3919.2,3492.8 3926.5,3494.6 3928.1,3496.4 3933,3498.2" fill="none" stroke="#777" stroke-width="1.1" stroke-linejoin="round"/>
<path d="M3925 3372 Q3912.5 3349 3906.7 3338.3" fill="none" stroke="#e8202a" stroke-width="2"/>
<polygon points="3900,3326 3912.2,3335.3 3901.1,3341.3" fill="#e8202a"/>
<rect x="3808" y="3258" width="30" height="56" fill="url(#pcl)"/>
<rect x="3808" y="3314" width="30" height="4" fill="url(#pcg)"/>
<rect x="3808" y="3318" width="30" height="25" fill="url(#pcl)"/>
<rect x="3808" y="3343" width="30" height="9" fill="#3b3a34"/>
<rect x="3808" y="3352" width="30" height="2" fill="url(#pcs)"/>
<rect x="3808" y="3354" width="30" height="8" fill="#3b3a34"/>
<rect x="3808" y="3362" width="30" height="2" fill="url(#pcs)"/>
<rect x="3808" y="3364" width="30" height="16" fill="#3b3a34"/>
<rect x="3808" y="3380" width="30" height="3" fill="url(#pcl)"/>
<rect x="3808" y="3383" width="30" height="583" fill="#f49ab3"/>
<rect x="3808" y="3966" width="30" height="16" fill="#ee1c5a"/>
<rect x="3808" y="3982" width="30" height="13" fill="#bfd852"/>
<rect x="3808" y="3995" width="30" height="93" fill="#52a846"/>
<polyline points="3838,3258 3838,4088" fill="none" stroke="#111" stroke-width="2"/>
<polyline points="3808,3258 3838,3258" fill="none" stroke="#111" stroke-width="1.2"/>
<polygon points="3853.4,3258 3872.6,3258 3863,3303" fill="#3bf51f" stroke="#111" stroke-width="1.5" stroke-linejoin="round"/>
<polygon points="3863,3303 3887,3319 3839,3319" fill="#5cb80f" stroke="#111" stroke-width="1.5" stroke-linejoin="round"/>
<polygon points="3839,3319 3887,3319 3863,3369" fill="#2f9bee" stroke="#111" stroke-width="1.5" stroke-linejoin="round"/>
<polygon points="3863,3369 3887,3381 3839,3381" fill="#2f9bee" stroke="#111" stroke-width="1.5" stroke-linejoin="round"/>
<rect x="3801.2" y="2759" width="5.5" height="1329" fill="#222"/>
<rect x="3804" y="2759" width="149" height="58" fill="#000"/>
<text x="3877" y="2804.3" font-size="45.5" font-weight="bold" text-anchor="middle" fill="#fff">SL-1</text>
<polyline points="3804,3315 3847,3116" fill="none" stroke="#111" stroke-width="4"/>
<rect x="3794.5" y="3305.5" width="19" height="19" fill="#fff" stroke="#111" stroke-width="2.5"/>
<rect x="3763" y="2951" width="398" height="165" fill="#fff" stroke="#111" stroke-width="3" rx="7"/>
<text x="3773" y="2986" font-size="31.5" font-weight="bold" fill="#000">+131.7 to +127.7 m</text>
<text x="3773" y="3024" font-size="31.5" font-weight="bold" fill="#000">Oyster rich micro-conglo.</text>
<text x="3773" y="3062" font-size="31.5" font-weight="bold" fill="#000">= S3 sequence boundary</text>
<text x="3773" y="3100" font-size="31.5" fill="#000">At 31*, 6.5 km to NE</text>
<polyline points="3465,3667 3587,4088" fill="none" stroke="#111" stroke-width="9" stroke-dasharray="20 14"/>
<polyline points="3510,3724 3490,3672" fill="none" stroke="#111" stroke-width="7"/>
<polygon points="3479,3648 3523,3700 3500,3688 3478,3702" fill="#111"/>
<circle cx="3529" cy="3858" r="53" fill="#fbb040" stroke="#111" stroke-width="5"/>
<text x="3529" y="3892" font-size="96" text-anchor="middle">5</text>
<polyline points="4003,3470 4126,3895" fill="none" stroke="#111" stroke-width="9" stroke-dasharray="20 14"/>
<polyline points="4049,3528 4028,3478" fill="none" stroke="#111" stroke-width="7"/>
<polygon points="4017,3455 4060,3503 4038,3492 4022,3507" fill="#111"/>
<circle cx="4066" cy="3663" r="53" fill="#fbb040" stroke="#111" stroke-width="5"/>
<text x="4066" y="3697" font-size="96" text-anchor="middle">4</text>
<rect x="4059" y="3995" width="93" height="92" fill="#fff" stroke="#111" stroke-width="4"/>
<text x="4106" y="4074" font-size="84" font-weight="bold" text-anchor="middle">C</text>
<path d="M1300 3549H1796Q1816 3549 1816 3569V4092H1300Z" fill="#fff"/>
<rect x="1387" y="3578" width="123" height="43" fill="#000"/>
<text x="1448" y="3609" font-size="34.5" font-weight="bold" text-anchor="middle" fill="#fff">DP-108</text>
<text x="1567" y="3623" font-size="40">Well-log</text>
<text x="1567" y="3698" font-size="40">Depocenter</text>
<text x="1570" y="3793" font-size="40">Fault zone</text>
<text x="1570" y="3842" font-size="40">(FZ)</text>
<polygon points="1482,3649 1489.1,3669.3 1510.5,3669.7 1493.4,3682.7 1499.6,3703.3 1482,3691 1464.4,3703.3 1470.6,3682.7 1453.5,3669.7 1474.9,3669.3" fill="#f2f5d0" stroke="#111" stroke-width="2" stroke-linejoin="miter"/>
<polyline points="1439,3745 1451,3754" fill="none" stroke="#111" stroke-width="7"/>
<polyline points="1459,3760 1470,3768" fill="none" stroke="#111" stroke-width="7"/>
<polyline points="1518,3804 1533,3815" fill="none" stroke="#111" stroke-width="7"/>
<polygon points="1424,3716 1462,3726 1449,3735 1452,3744" fill="#111"/>
<circle cx="1486" cy="3783" r="24" fill="#fbb040" stroke="#111" stroke-width="4"/>
<text x="1486" y="3798" font-size="42" text-anchor="middle">4</text>
<rect x="1490" y="3842" width="13" height="235" fill="#000"/>
<rect x="1490" y="4063" width="228" height="14" fill="#000"/>
<text x="1530" y="4030" font-size="67" font-weight="bold">2 km</text>
<text transform="translate(1455 4057) rotate(-90)" font-size="67" font-weight="bold" fill="#111">200 m</text>
<text x="72" y="2633" font-size="44" font-weight="bold" font-style="italic">Dating techniques:</text>
<rect x="69" y="2670" width="372" height="137" fill="#fcec2e" stroke="#111" stroke-width="3" rx="7"/>
<text x="79" y="2708" font-size="33" font-weight="bold" fill="#000">+530 m</text>
<text x="79" y="2747.5" font-size="33" font-weight="bold" fill="#000">Str: 15.43 +/- 0.28 Ma</text>
<text x="79" y="2787" font-size="33" fill="#000">At 30*, 700m to NW</text>
<polyline points="213,2696 505,2696 505,2605 545,2605" fill="none" stroke="#111" stroke-width="2.2"/>
<polygon points="560,2605 543,2596 543,2614" fill="#111"/>
<polyline points="418,2737 517,2737 517,2661 545,2661" fill="none" stroke="#111" stroke-width="2.2"/>
<polygon points="560,2661 543,2652 543,2670" fill="#111"/>
<polyline points="391,2774 519,2774 519,3115 615,3115" fill="none" stroke="#111" stroke-width="2.2"/>
<polygon points="629,3115 612,3106 612,3124" fill="#111"/>
<text x="581" y="2616" font-size="40.4">Altitude in m a.s.l.</text>
<rect x="577" y="2653" width="105" height="41" fill="#2f7fc3" stroke="#111" stroke-width="2.5" rx="5"/>
<text x="733" y="2690" font-size="40.4">Foraminifera dating</text>
<rect x="577" y="2727" width="105" height="41" fill="#68cbe2" stroke="#111" stroke-width="2.5" rx="5"/>
<text x="733" y="2764" font-size="40.4">Nannoplankton dating</text>
<rect x="577" y="2804" width="105" height="41" fill="#fcec2e" stroke="#111" stroke-width="2.5" rx="5"/>
<text x="733" y="2840" font-size="40.4">Strontium dating</text>
<rect x="577" y="2876" width="105" height="41" fill="#c66f47" stroke="#111" stroke-width="2.5" rx="5"/>
<text x="733" y="2913" font-size="40.4">Mammals dating</text>
<rect x="577" y="2954" width="105" height="42" fill="#fff" stroke="#111" stroke-width="2.5" rx="5"/>
<text x="733" y="2985" font-size="40.4">Local marker level</text>
<text x="72" y="2893" font-size="44" font-weight="bold" font-style="italic">Stratigraphy and</text>
<text x="72" y="2948" font-size="44" font-weight="bold" font-style="italic">lithology:</text>
<rect x="81" y="2999" width="146" height="53" fill="url(#pq)" stroke="#111" stroke-width="1.8"/>
<text x="252" y="3046" font-size="40.4">Quaternary</text>
<rect x="81" y="3074" width="146" height="53" fill="#2f80ee" stroke="#111" stroke-width="1.8"/>
<text x="254" y="3120" font-size="40.4">Pliocene</text>
<rect x="85" y="3161" width="146" height="55" fill="url(#pcg)" stroke="#111" stroke-width="1.8"/>
<text x="250" y="3209" font-size="40.4">Conglomerates</text>
<rect x="85" y="3236" width="146" height="53" fill="url(#pcs)" stroke="#111" stroke-width="1.8"/>
<text x="250" y="3278" font-size="40.4">Coarse sands</text>
<rect x="85" y="3310" width="146" height="54" fill="url(#pfs)" stroke="#111" stroke-width="1.8"/>
<text x="250" y="3354" font-size="40.4">Fine sands</text>
<rect x="85" y="3385" width="146" height="54" fill="url(#psc)" stroke="#111" stroke-width="1.8"/>
<text x="250" y="3431" font-size="40.4">Sandy clays</text>
<rect x="85" y="3459" width="146" height="55" fill="url(#pcl)" stroke="#111" stroke-width="1.8"/>
<text x="250" y="3507" font-size="40.4">Clay sand</text>
<rect x="85" y="3534" width="146" height="54" fill="#3b3a34" stroke="#111" stroke-width="1.8"/>
<text x="250" y="3580" font-size="40.4">Clays</text>
<rect x="85" y="3609" width="146" height="55" fill="url(#pca)" stroke="#111" stroke-width="1.8"/>
<text x="252" y="3657" font-size="40.4">Calcarenites</text>
<rect x="85" y="3702" width="145" height="54" fill="#f49ab3" stroke="#111" stroke-width="1.8"/>
<text x="258" y="3741" font-size="40.4">Oligo-Aquitanian</text>
<rect x="166" y="3756" width="64" height="54" fill="#bfd852" stroke="#111" stroke-width="1.8"/>
<text x="256" y="3810" font-size="40.4">Upper Cretaceous</text>
<rect x="166" y="3840" width="64" height="54" fill="#52a846" stroke="#111" stroke-width="1.8"/>
<text x="258" y="3886" font-size="40.4">Lower Cretaceous</text>
<rect x="166" y="3916" width="64" height="54" fill="#12bff0" stroke="#111" stroke-width="1.8"/>
<text x="258" y="3961" font-size="40.4">Upper Jurassic</text>
<rect x="166" y="3993" width="65" height="53" fill="#b8820a" stroke="#111" stroke-width="1.8"/>
<text x="260" y="4042" font-size="40.4">Dogger</text>
<rect x="84" y="3756" width="82" height="290" fill="#cccccc" stroke="#111" stroke-width="1.8"/>
<polyline points="82,3053 249,3052" fill="none" stroke="#e8202a" stroke-width="3.5"/>
<polyline points="82,3128 249,3127" fill="none" stroke="#e8202a" stroke-width="3.5"/>
<polyline points="85,3757 250,3756" fill="none" stroke="#e8202a" stroke-width="3.5"/>
<polyline points="55,2999 55,3278" fill="none" stroke="#111" stroke-width="3"/>
<polyline points="55,3521 55,3759" fill="none" stroke="#111" stroke-width="3"/>
<polyline points="85,3143 537,3143 537,3276" fill="none" stroke="#111" stroke-width="3.5"/>
<polyline points="537,3539 537,3681 85,3681" fill="none" stroke="#111" stroke-width="3.5"/>
<text transform="translate(72 3491) rotate(-90)" font-size="47" fill="#111">Cenozoic</text>
<text transform="translate(532 3316) rotate(90)" font-size="47" font-weight="bold" fill="#111">Miocene</text>
<text transform="translate(139 3998) rotate(-90)" font-size="47" fill="#111">Mezosoic</text>
<text x="641" y="3074" font-size="40.4">When datation is provided by</text>
<text x="641" y="3122.8" font-size="40.4">extrapolation at isoaltitude from</text>
<text x="641" y="3171.6" font-size="40.4">the locality that carries an asterix.</text>
<text x="641" y="3220.4" font-size="40.4">(Fig.3 for location and/or Kalifi (2020)</text>
<text x="641" y="3269.2" font-size="40.4">for details). Eoc. = Eocene</text>
<text x="639" y="3382" font-size="44" font-weight="bold" font-style="italic">Log shape (GR, SP, lithology)</text>
<text x="639" y="3435" font-size="44" font-weight="bold" font-style="italic">relative to sea level variations</text>
<text x="639" y="3488" font-size="44" font-weight="bold" font-style="italic">(Posamentier and Allen, 1999):</text>
<polygon points="629,3582 669,3582 651,3783 669,3981 629,3981 647,3783" fill="#e6e6e6" stroke="#111" stroke-width="1.5"/>
<path d="M753 3684Q730 3615 705 3600" fill="none" stroke="#ee1c24" stroke-width="4.5" stroke-linecap="round"/>
<polygon points="689,3584 730,3590 703,3620" fill="#ee1c24"/>
<path d="M682 3967Q705 3910 740 3890" fill="none" stroke="#29abe2" stroke-width="4.5" stroke-linecap="round"/>
<polygon points="759,3877 740,3912 718,3884" fill="#29abe2"/>
<polyline points="652,3783 766,3783" fill="none" stroke="#1a75c0" stroke-width="7" stroke-dasharray="11 9"/>
<text x="768" y="3616" font-size="40.4">Coarsening upward trend</text>
<text x="768" y="3665" font-size="40.4">+ Sharp top</text>
<text x="768" y="3714" font-size="40.4">= Regressive system tract</text>
<text x="778" y="3800" font-size="40.4">Maximum flooding surface (MFS)</text>
<text x="778" y="3876" font-size="40.4">Fining upward trend</text>
<text x="778" y="3924" font-size="40.4">+ Sharp base</text>
<text x="778" y="3974" font-size="40.4">= Transgressive system tract</text>
<text x="680" y="4036" font-size="40" font-style="italic">GR= Gamma-Ray</text>
<text x="680" y="4084" font-size="40" font-style="italic">SP= Spontaneous Potential</text>
</svg>
</body></html>
